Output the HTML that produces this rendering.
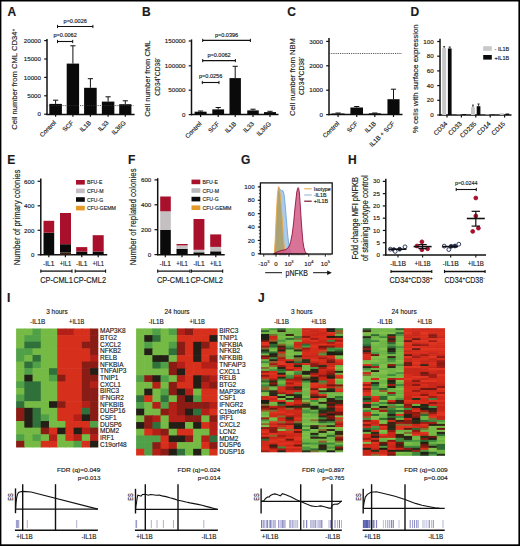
<!DOCTYPE html>
<html><head><meta charset="utf-8"><style>
html,body{margin:0;padding:0;background:#fff;}
svg{display:block;}
text{font-family:"Liberation Sans", sans-serif;fill:#1a1a1a;stroke:#1a1a1a;stroke-width:0.15px;}
</style></head><body>
<svg width="520" height="546" viewBox="0 0 520 546">
<rect x="0" y="0" width="520" height="546" fill="#fff"/>
<text x="7.60" y="16.20" font-size="12" font-weight="bold" fill="#000">A</text>
<line x1="47.00" y1="39.00" x2="47.00" y2="115.10" stroke="#111" stroke-width="1.5"/>
<line x1="46.30" y1="114.40" x2="134.60" y2="114.40" stroke="#111" stroke-width="1.5"/>
<line x1="44.20" y1="114.20" x2="47.00" y2="114.20" stroke="#111" stroke-width="1.2"/>
<text x="41.00" y="116.30" font-size="6.2" text-anchor="end">0</text>
<line x1="44.20" y1="95.80" x2="47.00" y2="95.80" stroke="#111" stroke-width="1.2"/>
<text x="41.00" y="97.90" font-size="6.2" text-anchor="end">5000</text>
<line x1="44.20" y1="77.40" x2="47.00" y2="77.40" stroke="#111" stroke-width="1.2"/>
<text x="41.00" y="79.50" font-size="6.2" text-anchor="end">10000</text>
<line x1="44.20" y1="59.00" x2="47.00" y2="59.00" stroke="#111" stroke-width="1.2"/>
<text x="41.00" y="61.10" font-size="6.2" text-anchor="end">15000</text>
<line x1="44.20" y1="40.60" x2="47.00" y2="40.60" stroke="#111" stroke-width="1.2"/>
<text x="41.00" y="42.70" font-size="6.2" text-anchor="end">20000</text>
<rect x="49.30" y="103.90" width="12.60" height="10.50" fill="#0a0a0a"/>
<line x1="55.60" y1="100.20" x2="55.60" y2="103.90" stroke="#111" stroke-width="1.0"/>
<line x1="53.00" y1="100.20" x2="58.20" y2="100.20" stroke="#111" stroke-width="1.0"/>
<line x1="55.60" y1="114.40" x2="55.60" y2="116.80" stroke="#111" stroke-width="1.2"/>
<rect x="66.70" y="63.60" width="12.40" height="50.80" fill="#0a0a0a"/>
<line x1="72.90" y1="45.80" x2="72.90" y2="63.60" stroke="#111" stroke-width="1.0"/>
<line x1="70.30" y1="45.80" x2="75.50" y2="45.80" stroke="#111" stroke-width="1.0"/>
<line x1="72.90" y1="114.40" x2="72.90" y2="116.80" stroke="#111" stroke-width="1.2"/>
<rect x="84.10" y="87.80" width="12.60" height="26.60" fill="#0a0a0a"/>
<line x1="90.40" y1="78.70" x2="90.40" y2="87.80" stroke="#111" stroke-width="1.0"/>
<line x1="87.80" y1="78.70" x2="93.00" y2="78.70" stroke="#111" stroke-width="1.0"/>
<line x1="90.40" y1="114.40" x2="90.40" y2="116.80" stroke="#111" stroke-width="1.2"/>
<rect x="101.85" y="101.60" width="12.50" height="12.80" fill="#0a0a0a"/>
<line x1="108.10" y1="96.80" x2="108.10" y2="101.60" stroke="#111" stroke-width="1.0"/>
<line x1="105.50" y1="96.80" x2="110.70" y2="96.80" stroke="#111" stroke-width="1.0"/>
<line x1="108.10" y1="114.40" x2="108.10" y2="116.80" stroke="#111" stroke-width="1.2"/>
<rect x="119.20" y="104.20" width="12.20" height="10.20" fill="#0a0a0a"/>
<line x1="125.30" y1="100.80" x2="125.30" y2="104.20" stroke="#111" stroke-width="1.0"/>
<line x1="122.70" y1="100.80" x2="127.90" y2="100.80" stroke="#111" stroke-width="1.0"/>
<line x1="125.30" y1="114.40" x2="125.30" y2="116.80" stroke="#111" stroke-width="1.2"/>
<text x="56.60" y="123.20" font-size="6.3" text-anchor="end" transform="rotate(-45 56.60 123.20)">Control</text>
<text x="73.90" y="123.20" font-size="6.3" text-anchor="end" transform="rotate(-45 73.90 123.20)">SCF</text>
<text x="91.40" y="123.20" font-size="6.3" text-anchor="end" transform="rotate(-45 91.40 123.20)">IL1B</text>
<text x="109.10" y="123.20" font-size="6.3" text-anchor="end" transform="rotate(-45 109.10 123.20)">IL33</text>
<text x="126.30" y="123.20" font-size="6.3" text-anchor="end" transform="rotate(-45 126.30 123.20)">IL36G</text>
<line x1="47.00" y1="105.60" x2="133.50" y2="105.60" stroke="#333" stroke-width="0.8" stroke-dasharray="1.2 1.0"/>
<line x1="57.50" y1="26.50" x2="92.90" y2="26.50" stroke="#111" stroke-width="1.1"/>
<line x1="57.50" y1="24.90" x2="57.50" y2="28.10" stroke="#111" stroke-width="1.0"/>
<line x1="92.90" y1="24.90" x2="92.90" y2="28.10" stroke="#111" stroke-width="1.0"/>
<text x="75.20" y="23.30" font-size="5.6" text-anchor="middle" textLength="23.30" lengthAdjust="spacingAndGlyphs">p=0.0026</text>
<line x1="57.50" y1="41.50" x2="72.70" y2="41.50" stroke="#111" stroke-width="1.1"/>
<line x1="57.50" y1="39.90" x2="57.50" y2="43.10" stroke="#111" stroke-width="1.0"/>
<line x1="72.70" y1="39.90" x2="72.70" y2="43.10" stroke="#111" stroke-width="1.0"/>
<text x="65.10" y="37.00" font-size="5.6" text-anchor="middle" textLength="23.30" lengthAdjust="spacingAndGlyphs">p=0.0062</text>
<text x="17.30" y="79.30" font-size="8.0" text-anchor="middle" textLength="101.00" lengthAdjust="spacingAndGlyphs" transform="rotate(-90 17.30 79.30)">Cell number from CML CD34<tspan font-size="5" dy="-2.6">+</tspan></text>
<text x="141.90" y="16.20" font-size="12" font-weight="bold" fill="#000">B</text>
<line x1="191.50" y1="39.40" x2="191.50" y2="115.30" stroke="#111" stroke-width="1.5"/>
<line x1="190.80" y1="114.60" x2="278.50" y2="114.60" stroke="#111" stroke-width="1.5"/>
<line x1="188.70" y1="114.60" x2="191.50" y2="114.60" stroke="#111" stroke-width="1.2"/>
<text x="185.50" y="116.70" font-size="6.2" text-anchor="end">0</text>
<line x1="188.70" y1="90.20" x2="191.50" y2="90.20" stroke="#111" stroke-width="1.2"/>
<text x="185.50" y="92.30" font-size="6.2" text-anchor="end">50000</text>
<line x1="188.70" y1="65.80" x2="191.50" y2="65.80" stroke="#111" stroke-width="1.2"/>
<text x="185.50" y="67.90" font-size="6.2" text-anchor="end">100000</text>
<line x1="188.70" y1="41.00" x2="191.50" y2="41.00" stroke="#111" stroke-width="1.2"/>
<text x="185.50" y="43.10" font-size="6.2" text-anchor="end">150000</text>
<rect x="194.60" y="111.70" width="12.00" height="2.90" fill="#0a0a0a"/>
<line x1="200.60" y1="111.00" x2="200.60" y2="111.70" stroke="#111" stroke-width="1.0"/>
<line x1="198.00" y1="111.00" x2="203.20" y2="111.00" stroke="#111" stroke-width="1.0"/>
<line x1="200.60" y1="114.60" x2="200.60" y2="117.00" stroke="#111" stroke-width="1.2"/>
<rect x="212.30" y="109.40" width="11.80" height="5.20" fill="#0a0a0a"/>
<line x1="218.20" y1="107.50" x2="218.20" y2="109.40" stroke="#111" stroke-width="1.0"/>
<line x1="215.60" y1="107.50" x2="220.80" y2="107.50" stroke="#111" stroke-width="1.0"/>
<line x1="218.20" y1="114.60" x2="218.20" y2="117.00" stroke="#111" stroke-width="1.2"/>
<rect x="229.50" y="78.10" width="11.40" height="36.50" fill="#0a0a0a"/>
<line x1="235.20" y1="66.30" x2="235.20" y2="78.10" stroke="#111" stroke-width="1.0"/>
<line x1="232.60" y1="66.30" x2="237.80" y2="66.30" stroke="#111" stroke-width="1.0"/>
<line x1="235.20" y1="114.60" x2="235.20" y2="117.00" stroke="#111" stroke-width="1.2"/>
<rect x="247.25" y="110.40" width="11.50" height="4.20" fill="#0a0a0a"/>
<line x1="253.00" y1="109.20" x2="253.00" y2="110.40" stroke="#111" stroke-width="1.0"/>
<line x1="250.40" y1="109.20" x2="255.60" y2="109.20" stroke="#111" stroke-width="1.0"/>
<line x1="253.00" y1="114.60" x2="253.00" y2="117.00" stroke="#111" stroke-width="1.2"/>
<rect x="264.00" y="112.10" width="12.00" height="2.50" fill="#0a0a0a"/>
<line x1="270.00" y1="111.30" x2="270.00" y2="112.10" stroke="#111" stroke-width="1.0"/>
<line x1="267.40" y1="111.30" x2="272.60" y2="111.30" stroke="#111" stroke-width="1.0"/>
<line x1="270.00" y1="114.60" x2="270.00" y2="117.00" stroke="#111" stroke-width="1.2"/>
<text x="202.10" y="124.30" font-size="6.3" text-anchor="end" transform="rotate(-45 202.10 124.30)">Control</text>
<text x="219.70" y="124.30" font-size="6.3" text-anchor="end" transform="rotate(-45 219.70 124.30)">SCF</text>
<text x="236.70" y="124.30" font-size="6.3" text-anchor="end" transform="rotate(-45 236.70 124.30)">IL1B</text>
<text x="254.50" y="124.30" font-size="6.3" text-anchor="end" transform="rotate(-45 254.50 124.30)">IL33</text>
<text x="271.50" y="124.30" font-size="6.3" text-anchor="end" transform="rotate(-45 271.50 124.30)">IL36G</text>
<line x1="202.70" y1="40.40" x2="250.40" y2="40.40" stroke="#111" stroke-width="1.1"/>
<line x1="202.70" y1="38.80" x2="202.70" y2="42.00" stroke="#111" stroke-width="1.0"/>
<line x1="250.40" y1="38.80" x2="250.40" y2="42.00" stroke="#111" stroke-width="1.0"/>
<text x="226.55" y="36.50" font-size="5.6" text-anchor="middle" textLength="23.30" lengthAdjust="spacingAndGlyphs">p=0.0396</text>
<line x1="202.70" y1="60.60" x2="235.40" y2="60.60" stroke="#111" stroke-width="1.1"/>
<line x1="202.70" y1="59.00" x2="202.70" y2="62.20" stroke="#111" stroke-width="1.0"/>
<line x1="235.40" y1="59.00" x2="235.40" y2="62.20" stroke="#111" stroke-width="1.0"/>
<text x="219.05" y="56.70" font-size="5.6" text-anchor="middle" textLength="23.30" lengthAdjust="spacingAndGlyphs">p=0.0062</text>
<line x1="202.30" y1="82.50" x2="219.00" y2="82.50" stroke="#111" stroke-width="1.1"/>
<line x1="202.30" y1="80.90" x2="202.30" y2="84.10" stroke="#111" stroke-width="1.0"/>
<line x1="219.00" y1="80.90" x2="219.00" y2="84.10" stroke="#111" stroke-width="1.0"/>
<text x="210.65" y="77.70" font-size="5.6" text-anchor="middle" textLength="23.30" lengthAdjust="spacingAndGlyphs">p=0.0256</text>
<text x="149.80" y="78.70" font-size="8.0" text-anchor="middle" textLength="76.30" lengthAdjust="spacingAndGlyphs" transform="rotate(-90 149.80 78.70)">Cell number from CML</text>
<text x="159.60" y="76.70" font-size="8.0" text-anchor="middle" textLength="38.10" lengthAdjust="spacingAndGlyphs" transform="rotate(-90 159.60 76.70)">CD34<tspan font-size="5" dy="-2.6">+</tspan><tspan dy="2.6">CD38</tspan><tspan font-size="5" dy="-2.6">-</tspan></text>
<text x="287.20" y="16.20" font-size="12" font-weight="bold" fill="#000">C</text>
<line x1="329.00" y1="38.00" x2="329.00" y2="115.30" stroke="#111" stroke-width="1.5"/>
<line x1="328.30" y1="114.60" x2="402.50" y2="114.60" stroke="#111" stroke-width="1.5"/>
<line x1="326.20" y1="114.60" x2="329.00" y2="114.60" stroke="#111" stroke-width="1.2"/>
<text x="323.00" y="116.70" font-size="6.2" text-anchor="end">0</text>
<line x1="326.20" y1="90.20" x2="329.00" y2="90.20" stroke="#111" stroke-width="1.2"/>
<text x="323.00" y="92.30" font-size="6.2" text-anchor="end">1000</text>
<line x1="326.20" y1="65.80" x2="329.00" y2="65.80" stroke="#111" stroke-width="1.2"/>
<text x="323.00" y="67.90" font-size="6.2" text-anchor="end">2000</text>
<line x1="326.20" y1="41.40" x2="329.00" y2="41.40" stroke="#111" stroke-width="1.2"/>
<text x="323.00" y="43.50" font-size="6.2" text-anchor="end">3000</text>
<rect x="331.65" y="113.50" width="12.90" height="1.10" fill="#0a0a0a"/>
<line x1="338.10" y1="113.00" x2="338.10" y2="113.50" stroke="#111" stroke-width="1.0"/>
<line x1="335.50" y1="113.00" x2="340.70" y2="113.00" stroke="#111" stroke-width="1.0"/>
<line x1="338.10" y1="114.60" x2="338.10" y2="117.00" stroke="#111" stroke-width="1.2"/>
<rect x="350.40" y="107.50" width="12.60" height="7.10" fill="#0a0a0a"/>
<line x1="356.70" y1="106.50" x2="356.70" y2="107.50" stroke="#111" stroke-width="1.0"/>
<line x1="354.10" y1="106.50" x2="359.30" y2="106.50" stroke="#111" stroke-width="1.0"/>
<line x1="356.70" y1="114.60" x2="356.70" y2="117.00" stroke="#111" stroke-width="1.2"/>
<rect x="368.80" y="113.30" width="12.00" height="1.30" fill="#0a0a0a"/>
<line x1="374.80" y1="113.00" x2="374.80" y2="113.30" stroke="#111" stroke-width="1.0"/>
<line x1="372.20" y1="113.00" x2="377.40" y2="113.00" stroke="#111" stroke-width="1.0"/>
<line x1="374.80" y1="114.60" x2="374.80" y2="117.00" stroke="#111" stroke-width="1.2"/>
<rect x="387.45" y="99.20" width="12.10" height="15.40" fill="#0a0a0a"/>
<line x1="393.50" y1="89.20" x2="393.50" y2="99.20" stroke="#111" stroke-width="1.0"/>
<line x1="390.90" y1="89.20" x2="396.10" y2="89.20" stroke="#111" stroke-width="1.0"/>
<line x1="393.50" y1="114.60" x2="393.50" y2="117.00" stroke="#111" stroke-width="1.2"/>
<text x="339.70" y="124.00" font-size="6.3" text-anchor="end" transform="rotate(-45 339.70 124.00)">Control</text>
<text x="358.30" y="124.00" font-size="6.3" text-anchor="end" transform="rotate(-45 358.30 124.00)">SCF</text>
<text x="376.40" y="124.00" font-size="6.3" text-anchor="end" transform="rotate(-45 376.40 124.00)">IL1B</text>
<text x="395.10" y="124.00" font-size="6.3" text-anchor="end" transform="rotate(-45 395.10 124.00)">IL1B + SCF</text>
<line x1="329.00" y1="53.50" x2="402.00" y2="53.50" stroke="#333" stroke-width="0.8" stroke-dasharray="1.2 1.0"/>
<text x="294.50" y="77.00" font-size="8.0" text-anchor="middle" textLength="77.90" lengthAdjust="spacingAndGlyphs" transform="rotate(-90 294.50 77.00)">Cell number from NBM</text>
<text x="304.00" y="75.90" font-size="8.0" text-anchor="middle" textLength="38.20" lengthAdjust="spacingAndGlyphs" transform="rotate(-90 304.00 75.90)">CD34<tspan font-size="5" dy="-2.6">+</tspan><tspan dy="2.6">CD38</tspan><tspan font-size="5" dy="-2.6">-</tspan></text>
<text x="410.60" y="16.20" font-size="12" font-weight="bold" fill="#000">D</text>
<line x1="440.00" y1="38.70" x2="440.00" y2="115.70" stroke="#111" stroke-width="1.5"/>
<line x1="439.30" y1="115.00" x2="511.50" y2="115.00" stroke="#111" stroke-width="1.5"/>
<line x1="437.20" y1="115.00" x2="440.00" y2="115.00" stroke="#111" stroke-width="1.2"/>
<text x="433.60" y="117.10" font-size="6.2" text-anchor="end">0</text>
<line x1="437.20" y1="100.30" x2="440.00" y2="100.30" stroke="#111" stroke-width="1.2"/>
<text x="433.60" y="102.40" font-size="6.2" text-anchor="end">20</text>
<line x1="437.20" y1="85.60" x2="440.00" y2="85.60" stroke="#111" stroke-width="1.2"/>
<text x="433.60" y="87.70" font-size="6.2" text-anchor="end">40</text>
<line x1="437.20" y1="70.90" x2="440.00" y2="70.90" stroke="#111" stroke-width="1.2"/>
<text x="433.60" y="73.00" font-size="6.2" text-anchor="end">60</text>
<line x1="437.20" y1="56.20" x2="440.00" y2="56.20" stroke="#111" stroke-width="1.2"/>
<text x="433.60" y="58.30" font-size="6.2" text-anchor="end">80</text>
<line x1="437.20" y1="41.50" x2="440.00" y2="41.50" stroke="#111" stroke-width="1.2"/>
<text x="433.60" y="43.60" font-size="6.2" text-anchor="end">100</text>
<rect x="442.20" y="48.11" width="3.90" height="66.89" fill="#c8c8c8"/>
<rect x="447.90" y="48.48" width="3.70" height="66.52" fill="#0a0a0a"/>
<line x1="444.15" y1="46.64" x2="444.15" y2="48.11" stroke="#111" stroke-width="0.8"/>
<line x1="443.20" y1="46.64" x2="445.10" y2="46.64" stroke="#111" stroke-width="0.8"/>
<line x1="449.75" y1="47.01" x2="449.75" y2="48.48" stroke="#111" stroke-width="0.8"/>
<line x1="448.60" y1="47.01" x2="450.90" y2="47.01" stroke="#111" stroke-width="0.8"/>
<line x1="447.00" y1="115.00" x2="447.00" y2="117.40" stroke="#111" stroke-width="1.2"/>
<text x="447.90" y="124.20" font-size="6.4" text-anchor="end" transform="rotate(-45 447.90 124.20)">CD34</text>
<rect x="456.60" y="114.63" width="3.90" height="0.37" fill="#c8c8c8"/>
<rect x="462.30" y="114.12" width="3.70" height="0.88" fill="#0a0a0a"/>
<line x1="461.40" y1="115.00" x2="461.40" y2="117.40" stroke="#111" stroke-width="1.2"/>
<text x="462.30" y="124.20" font-size="6.4" text-anchor="end" transform="rotate(-45 462.30 124.20)">CD33</text>
<rect x="471.00" y="107.28" width="3.90" height="7.72" fill="#c8c8c8"/>
<rect x="476.70" y="106.18" width="3.70" height="8.82" fill="#0a0a0a"/>
<line x1="472.95" y1="105.08" x2="472.95" y2="107.28" stroke="#111" stroke-width="0.8"/>
<line x1="472.00" y1="105.08" x2="473.90" y2="105.08" stroke="#111" stroke-width="0.8"/>
<line x1="478.55" y1="103.97" x2="478.55" y2="106.18" stroke="#111" stroke-width="0.8"/>
<line x1="477.40" y1="103.97" x2="479.70" y2="103.97" stroke="#111" stroke-width="0.8"/>
<line x1="475.80" y1="115.00" x2="475.80" y2="117.40" stroke="#111" stroke-width="1.2"/>
<text x="476.70" y="124.20" font-size="6.4" text-anchor="end" transform="rotate(-45 476.70 124.20)">CD235</text>
<rect x="485.40" y="114.41" width="3.90" height="0.59" fill="#c8c8c8"/>
<rect x="491.10" y="114.63" width="3.70" height="0.37" fill="#0a0a0a"/>
<line x1="490.20" y1="115.00" x2="490.20" y2="117.40" stroke="#111" stroke-width="1.2"/>
<text x="491.10" y="124.20" font-size="6.4" text-anchor="end" transform="rotate(-45 491.10 124.20)">CD14</text>
<rect x="499.80" y="113.16" width="3.90" height="1.84" fill="#c8c8c8"/>
<rect x="505.50" y="113.53" width="3.70" height="1.47" fill="#0a0a0a"/>
<line x1="504.60" y1="115.00" x2="504.60" y2="117.40" stroke="#111" stroke-width="1.2"/>
<text x="505.50" y="124.20" font-size="6.4" text-anchor="end" transform="rotate(-45 505.50 124.20)">CD15</text>
<rect x="483.20" y="46.20" width="8.60" height="4.60" fill="#c8c8c8"/>
<rect x="483.20" y="55.00" width="8.60" height="4.60" fill="#0a0a0a"/>
<text x="494.60" y="50.50" font-size="5.4" textLength="14.60" lengthAdjust="spacingAndGlyphs">- IL1B</text>
<text x="494.60" y="59.50" font-size="5.4" textLength="14.60" lengthAdjust="spacingAndGlyphs">+IL1B</text>
<text x="418.40" y="78.80" font-size="7.9" text-anchor="middle" textLength="108.80" lengthAdjust="spacingAndGlyphs" transform="rotate(-90 418.40 78.80)">% cells with surface expression</text>
<text x="7.20" y="163.90" font-size="12" font-weight="bold" fill="#000">E</text>
<line x1="40.80" y1="178.50" x2="40.80" y2="255.20" stroke="#111" stroke-width="1.5"/>
<line x1="40.10" y1="254.80" x2="107.20" y2="254.80" stroke="#111" stroke-width="1.5"/>
<line x1="37.60" y1="254.80" x2="40.80" y2="254.80" stroke="#111" stroke-width="1.2"/>
<text x="34.40" y="257.00" font-size="6.2" text-anchor="end">0</text>
<line x1="37.60" y1="230.30" x2="40.80" y2="230.30" stroke="#111" stroke-width="1.2"/>
<text x="34.40" y="232.50" font-size="6.2" text-anchor="end">200</text>
<line x1="37.60" y1="205.80" x2="40.80" y2="205.80" stroke="#111" stroke-width="1.2"/>
<text x="34.40" y="208.00" font-size="6.2" text-anchor="end">400</text>
<line x1="37.60" y1="181.30" x2="40.80" y2="181.30" stroke="#111" stroke-width="1.2"/>
<text x="34.40" y="183.50" font-size="6.2" text-anchor="end">600</text>
<rect x="43.50" y="232.70" width="10.70" height="22.10" fill="#0a0a0a"/>
<rect x="43.50" y="220.80" width="10.70" height="11.90" fill="#a8102c"/>
<rect x="60.00" y="252.50" width="11.00" height="2.30" fill="#3a2010"/>
<rect x="60.00" y="244.20" width="11.00" height="8.30" fill="#0a0a0a"/>
<rect x="60.00" y="213.00" width="11.00" height="31.20" fill="#a8102c"/>
<rect x="76.20" y="251.50" width="11.10" height="3.30" fill="#0a0a0a"/>
<rect x="76.20" y="247.10" width="11.10" height="4.40" fill="#a8102c"/>
<rect x="92.70" y="251.50" width="11.00" height="3.30" fill="#0a0a0a"/>
<rect x="92.70" y="235.20" width="11.00" height="16.30" fill="#a8102c"/>
<line x1="48.80" y1="254.80" x2="48.80" y2="257.30" stroke="#111" stroke-width="1.2"/>
<text x="48.80" y="266.30" font-size="6.6" text-anchor="middle" textLength="11.50" lengthAdjust="spacingAndGlyphs">-IL1</text>
<line x1="65.40" y1="254.80" x2="65.40" y2="257.30" stroke="#111" stroke-width="1.2"/>
<text x="65.40" y="266.30" font-size="6.6" text-anchor="middle" textLength="11.50" lengthAdjust="spacingAndGlyphs">+IL1</text>
<line x1="81.80" y1="254.80" x2="81.80" y2="257.30" stroke="#111" stroke-width="1.2"/>
<text x="81.80" y="266.30" font-size="6.6" text-anchor="middle" textLength="11.50" lengthAdjust="spacingAndGlyphs">-IL1</text>
<line x1="98.20" y1="254.80" x2="98.20" y2="257.30" stroke="#111" stroke-width="1.2"/>
<text x="98.20" y="266.30" font-size="6.6" text-anchor="middle" textLength="11.50" lengthAdjust="spacingAndGlyphs">+IL1</text>
<line x1="40.80" y1="271.10" x2="72.00" y2="271.10" stroke="#111" stroke-width="1.3"/>
<line x1="40.80" y1="269.50" x2="40.80" y2="272.70" stroke="#111" stroke-width="1.1"/>
<line x1="72.00" y1="269.50" x2="72.00" y2="272.70" stroke="#111" stroke-width="1.1"/>
<line x1="75.20" y1="271.10" x2="105.60" y2="271.10" stroke="#111" stroke-width="1.3"/>
<line x1="75.20" y1="269.50" x2="75.20" y2="272.70" stroke="#111" stroke-width="1.1"/>
<line x1="105.60" y1="269.50" x2="105.60" y2="272.70" stroke="#111" stroke-width="1.1"/>
<text x="40.20" y="283.40" font-size="8.7" textLength="32.70" lengthAdjust="spacingAndGlyphs">CP-CML1</text>
<text x="73.50" y="283.40" font-size="8.7" textLength="32.50" lengthAdjust="spacingAndGlyphs">CP-CML2</text>
<rect x="76.00" y="180.00" width="8.80" height="4.60" fill="#a8102c"/>
<text x="87.00" y="184.30" font-size="5.8" textLength="15.30" lengthAdjust="spacingAndGlyphs">BFU-E</text>
<rect x="76.00" y="188.60" width="8.80" height="4.60" fill="#c4bec4"/>
<text x="87.00" y="192.90" font-size="5.8" textLength="16.60" lengthAdjust="spacingAndGlyphs">CFU-M</text>
<rect x="76.00" y="197.20" width="8.80" height="4.60" fill="#0a0a0a"/>
<text x="87.00" y="201.50" font-size="5.8" textLength="16.10" lengthAdjust="spacingAndGlyphs">CFU-G</text>
<rect x="76.00" y="205.80" width="8.80" height="4.60" fill="#e49a28"/>
<text x="87.00" y="210.10" font-size="5.8" textLength="28.90" lengthAdjust="spacingAndGlyphs">CFU-GEMM</text>
<text x="19.60" y="217.40" font-size="8.4" text-anchor="middle" textLength="95.80" lengthAdjust="spacingAndGlyphs" transform="rotate(-90 19.60 217.40)">Number of primary colonies</text>
<text x="128.00" y="163.90" font-size="12" font-weight="bold" fill="#000">F</text>
<line x1="157.70" y1="178.20" x2="157.70" y2="255.20" stroke="#111" stroke-width="1.5"/>
<line x1="157.00" y1="254.80" x2="224.70" y2="254.80" stroke="#111" stroke-width="1.5"/>
<line x1="154.50" y1="254.60" x2="157.70" y2="254.60" stroke="#111" stroke-width="1.2"/>
<text x="151.30" y="256.80" font-size="6.2" text-anchor="end">0</text>
<line x1="154.50" y1="229.70" x2="157.70" y2="229.70" stroke="#111" stroke-width="1.2"/>
<text x="151.30" y="231.90" font-size="6.2" text-anchor="end">200</text>
<line x1="154.50" y1="204.80" x2="157.70" y2="204.80" stroke="#111" stroke-width="1.2"/>
<text x="151.30" y="207.00" font-size="6.2" text-anchor="end">400</text>
<line x1="154.50" y1="179.90" x2="157.70" y2="179.90" stroke="#111" stroke-width="1.2"/>
<text x="151.30" y="182.10" font-size="6.2" text-anchor="end">600</text>
<rect x="160.20" y="230.00" width="10.60" height="24.80" fill="#0a0a0a"/>
<rect x="160.20" y="211.30" width="10.60" height="18.70" fill="#c4c0c2"/>
<rect x="160.20" y="196.50" width="10.60" height="14.80" fill="#a8102c"/>
<rect x="176.50" y="248.80" width="11.20" height="6.00" fill="#0a0a0a"/>
<rect x="176.50" y="245.40" width="11.20" height="3.40" fill="#c4c0c2"/>
<rect x="176.50" y="244.00" width="11.20" height="1.40" fill="#a8102c"/>
<rect x="193.50" y="252.30" width="10.90" height="2.50" fill="#0a0a0a"/>
<rect x="193.50" y="249.80" width="10.90" height="2.50" fill="#c4c0c2"/>
<rect x="193.50" y="219.00" width="10.90" height="30.80" fill="#a8102c"/>
<rect x="210.20" y="251.30" width="11.00" height="3.50" fill="#0a0a0a"/>
<rect x="210.20" y="246.90" width="11.00" height="4.40" fill="#c4c0c2"/>
<rect x="210.20" y="234.40" width="11.00" height="12.50" fill="#a8102c"/>
<line x1="165.30" y1="254.80" x2="165.30" y2="257.30" stroke="#111" stroke-width="1.2"/>
<text x="165.30" y="266.30" font-size="6.6" text-anchor="middle" textLength="11.50" lengthAdjust="spacingAndGlyphs">-IL1</text>
<line x1="182.00" y1="254.80" x2="182.00" y2="257.30" stroke="#111" stroke-width="1.2"/>
<text x="182.00" y="266.30" font-size="6.6" text-anchor="middle" textLength="11.50" lengthAdjust="spacingAndGlyphs">+IL1</text>
<line x1="198.90" y1="254.80" x2="198.90" y2="257.30" stroke="#111" stroke-width="1.2"/>
<text x="198.90" y="266.30" font-size="6.6" text-anchor="middle" textLength="11.50" lengthAdjust="spacingAndGlyphs">-IL1</text>
<line x1="215.80" y1="254.80" x2="215.80" y2="257.30" stroke="#111" stroke-width="1.2"/>
<text x="215.80" y="266.30" font-size="6.6" text-anchor="middle" textLength="11.50" lengthAdjust="spacingAndGlyphs">+IL1</text>
<line x1="157.70" y1="271.10" x2="190.00" y2="271.10" stroke="#111" stroke-width="1.3"/>
<line x1="157.70" y1="269.50" x2="157.70" y2="272.70" stroke="#111" stroke-width="1.1"/>
<line x1="190.00" y1="269.50" x2="190.00" y2="272.70" stroke="#111" stroke-width="1.1"/>
<line x1="191.50" y1="271.10" x2="222.70" y2="271.10" stroke="#111" stroke-width="1.3"/>
<line x1="191.50" y1="269.50" x2="191.50" y2="272.70" stroke="#111" stroke-width="1.1"/>
<line x1="222.70" y1="269.50" x2="222.70" y2="272.70" stroke="#111" stroke-width="1.1"/>
<text x="157.00" y="283.40" font-size="8.7" textLength="32.60" lengthAdjust="spacingAndGlyphs">CP-CML1</text>
<text x="190.40" y="283.40" font-size="8.7" textLength="32.60" lengthAdjust="spacingAndGlyphs">CP-CML2</text>
<rect x="191.50" y="179.60" width="8.80" height="4.60" fill="#a8102c"/>
<text x="202.50" y="183.90" font-size="5.8" textLength="15.30" lengthAdjust="spacingAndGlyphs">BFU-E</text>
<rect x="191.50" y="188.20" width="8.80" height="4.60" fill="#b8b8bc"/>
<text x="202.50" y="192.50" font-size="5.8" textLength="16.60" lengthAdjust="spacingAndGlyphs">CFU-M</text>
<rect x="191.50" y="196.80" width="8.80" height="4.60" fill="#0a0a0a"/>
<text x="202.50" y="201.10" font-size="5.8" textLength="16.10" lengthAdjust="spacingAndGlyphs">CFU-G</text>
<rect x="191.50" y="205.40" width="8.80" height="4.60" fill="#e49a28"/>
<text x="202.50" y="209.70" font-size="5.8" textLength="28.90" lengthAdjust="spacingAndGlyphs">CFU-GEMM</text>
<text x="135.90" y="216.90" font-size="8.4" text-anchor="middle" textLength="96.90" lengthAdjust="spacingAndGlyphs" transform="rotate(-90 135.90 216.90)">Number of replated colonies</text>
<text x="241.10" y="163.90" font-size="12" font-weight="bold" fill="#000">G</text>
<path d="M274.60,253.80 L275.50,250.00 L276.50,232.00 L277.50,207.00 L278.60,191.00 L279.30,188.60 L280.30,189.80 L281.50,190.40 L282.90,190.80 L284.00,194.00 L285.20,205.00 L286.60,222.00 L287.80,236.00 L288.80,244.00 L290.00,250.50 L291.50,253.50 L292.50,253.80 Z" fill="#aacbea" stroke="#6fa6dc" stroke-width="0.9"/>
<path d="M273.60,253.80 L274.30,252.90 L275.20,240.00 L276.30,215.00 L277.40,195.00 L278.20,188.00 L278.60,186.60 L279.30,187.50 L280.20,194.00 L281.20,205.00 L282.30,220.00 L283.40,236.00 L284.40,248.00 L285.30,252.50 L286.50,253.80 Z" fill="#aca06a" fill-opacity="0.92" stroke="#eaa848" stroke-width="0.9"/>
<path d="M273.50,253.80 L276.00,252.60 L279.00,251.20 L282.00,250.30 L285.00,249.80 L287.50,248.50 L289.50,245.50 L290.70,241.40 L292.20,234.00 L293.60,222.90 L294.70,211.00 L295.70,201.40 L296.80,192.00 L297.60,188.50 L298.10,187.60 L298.70,188.50 L299.40,193.00 L300.00,201.40 L300.70,212.00 L301.40,222.90 L302.10,232.00 L302.90,241.40 L303.90,247.50 L305.00,251.40 L306.20,253.30 L307.50,253.80 Z" fill="#d45a86" fill-opacity="0.85" stroke="#8c1440" stroke-width="0.9"/>
<rect x="260.4" y="182.9" width="71.80000000000001" height="71.1" fill="none" stroke="#111" stroke-width="1.3"/>
<line x1="257.80" y1="253.80" x2="260.40" y2="253.80" stroke="#111" stroke-width="1.1"/>
<text x="254.60" y="255.90" font-size="6.2" text-anchor="end">0</text>
<line x1="257.80" y1="240.42" x2="260.40" y2="240.42" stroke="#111" stroke-width="1.1"/>
<text x="254.60" y="242.52" font-size="6.2" text-anchor="end">20</text>
<line x1="257.80" y1="227.04" x2="260.40" y2="227.04" stroke="#111" stroke-width="1.1"/>
<text x="254.60" y="229.14" font-size="6.2" text-anchor="end">40</text>
<line x1="257.80" y1="213.66" x2="260.40" y2="213.66" stroke="#111" stroke-width="1.1"/>
<text x="254.60" y="215.76" font-size="6.2" text-anchor="end">60</text>
<line x1="257.80" y1="200.28" x2="260.40" y2="200.28" stroke="#111" stroke-width="1.1"/>
<text x="254.60" y="202.38" font-size="6.2" text-anchor="end">80</text>
<line x1="257.80" y1="186.90" x2="260.40" y2="186.90" stroke="#111" stroke-width="1.1"/>
<text x="254.60" y="189.00" font-size="6.2" text-anchor="end">100</text>
<line x1="258.90" y1="253.80" x2="260.40" y2="253.80" stroke="#111" stroke-width="0.8"/>
<line x1="258.90" y1="250.46" x2="260.40" y2="250.46" stroke="#111" stroke-width="0.8"/>
<line x1="258.90" y1="247.11" x2="260.40" y2="247.11" stroke="#111" stroke-width="0.8"/>
<line x1="258.90" y1="243.77" x2="260.40" y2="243.77" stroke="#111" stroke-width="0.8"/>
<line x1="258.90" y1="240.42" x2="260.40" y2="240.42" stroke="#111" stroke-width="0.8"/>
<line x1="258.90" y1="237.08" x2="260.40" y2="237.08" stroke="#111" stroke-width="0.8"/>
<line x1="258.90" y1="233.73" x2="260.40" y2="233.73" stroke="#111" stroke-width="0.8"/>
<line x1="258.90" y1="230.39" x2="260.40" y2="230.39" stroke="#111" stroke-width="0.8"/>
<line x1="258.90" y1="227.04" x2="260.40" y2="227.04" stroke="#111" stroke-width="0.8"/>
<line x1="258.90" y1="223.70" x2="260.40" y2="223.70" stroke="#111" stroke-width="0.8"/>
<line x1="258.90" y1="220.35" x2="260.40" y2="220.35" stroke="#111" stroke-width="0.8"/>
<line x1="258.90" y1="217.00" x2="260.40" y2="217.00" stroke="#111" stroke-width="0.8"/>
<line x1="258.90" y1="213.66" x2="260.40" y2="213.66" stroke="#111" stroke-width="0.8"/>
<line x1="258.90" y1="210.31" x2="260.40" y2="210.31" stroke="#111" stroke-width="0.8"/>
<line x1="258.90" y1="206.97" x2="260.40" y2="206.97" stroke="#111" stroke-width="0.8"/>
<line x1="258.90" y1="203.62" x2="260.40" y2="203.62" stroke="#111" stroke-width="0.8"/>
<line x1="258.90" y1="200.28" x2="260.40" y2="200.28" stroke="#111" stroke-width="0.8"/>
<line x1="258.90" y1="196.94" x2="260.40" y2="196.94" stroke="#111" stroke-width="0.8"/>
<line x1="258.90" y1="193.59" x2="260.40" y2="193.59" stroke="#111" stroke-width="0.8"/>
<line x1="258.90" y1="190.25" x2="260.40" y2="190.25" stroke="#111" stroke-width="0.8"/>
<line x1="258.90" y1="186.90" x2="260.40" y2="186.90" stroke="#111" stroke-width="0.8"/>
<line x1="263.80" y1="254.00" x2="263.80" y2="256.60" stroke="#111" stroke-width="1.0"/>
<text x="263.80" y="265.80" font-size="6.2" text-anchor="middle">-10<tspan font-size="4" dy="-2.4">3</tspan></text>
<line x1="276.00" y1="254.00" x2="276.00" y2="256.60" stroke="#111" stroke-width="1.0"/>
<text x="276.00" y="265.80" font-size="6.2" text-anchor="middle">0</text>
<line x1="289.00" y1="254.00" x2="289.00" y2="256.60" stroke="#111" stroke-width="1.0"/>
<text x="289.00" y="265.80" font-size="6.2" text-anchor="middle">10<tspan font-size="4" dy="-2.4">3</tspan></text>
<line x1="308.80" y1="254.00" x2="308.80" y2="256.60" stroke="#111" stroke-width="1.0"/>
<text x="308.80" y="265.80" font-size="6.2" text-anchor="middle">10<tspan font-size="4" dy="-2.4">4</tspan></text>
<line x1="325.30" y1="254.00" x2="325.30" y2="256.60" stroke="#111" stroke-width="1.0"/>
<text x="325.30" y="265.80" font-size="6.2" text-anchor="middle">10<tspan font-size="4" dy="-2.4">5</tspan></text>
<line x1="266.00" y1="254.00" x2="266.00" y2="255.50" stroke="#111" stroke-width="0.5"/>
<line x1="268.00" y1="254.00" x2="268.00" y2="255.50" stroke="#111" stroke-width="0.5"/>
<line x1="270.00" y1="254.00" x2="270.00" y2="255.50" stroke="#111" stroke-width="0.5"/>
<line x1="272.00" y1="254.00" x2="272.00" y2="255.50" stroke="#111" stroke-width="0.5"/>
<line x1="274.00" y1="254.00" x2="274.00" y2="255.50" stroke="#111" stroke-width="0.5"/>
<line x1="280.00" y1="254.00" x2="280.00" y2="255.50" stroke="#111" stroke-width="0.5"/>
<line x1="282.00" y1="254.00" x2="282.00" y2="255.50" stroke="#111" stroke-width="0.5"/>
<line x1="284.00" y1="254.00" x2="284.00" y2="255.50" stroke="#111" stroke-width="0.5"/>
<line x1="286.00" y1="254.00" x2="286.00" y2="255.50" stroke="#111" stroke-width="0.5"/>
<line x1="292.00" y1="254.00" x2="292.00" y2="255.50" stroke="#111" stroke-width="0.5"/>
<line x1="294.00" y1="254.00" x2="294.00" y2="255.50" stroke="#111" stroke-width="0.5"/>
<line x1="296.00" y1="254.00" x2="296.00" y2="255.50" stroke="#111" stroke-width="0.5"/>
<line x1="298.00" y1="254.00" x2="298.00" y2="255.50" stroke="#111" stroke-width="0.5"/>
<line x1="300.00" y1="254.00" x2="300.00" y2="255.50" stroke="#111" stroke-width="0.5"/>
<line x1="302.00" y1="254.00" x2="302.00" y2="255.50" stroke="#111" stroke-width="0.5"/>
<line x1="304.00" y1="254.00" x2="304.00" y2="255.50" stroke="#111" stroke-width="0.5"/>
<line x1="311.00" y1="254.00" x2="311.00" y2="255.50" stroke="#111" stroke-width="0.5"/>
<line x1="313.00" y1="254.00" x2="313.00" y2="255.50" stroke="#111" stroke-width="0.5"/>
<line x1="315.00" y1="254.00" x2="315.00" y2="255.50" stroke="#111" stroke-width="0.5"/>
<line x1="317.00" y1="254.00" x2="317.00" y2="255.50" stroke="#111" stroke-width="0.5"/>
<line x1="319.00" y1="254.00" x2="319.00" y2="255.50" stroke="#111" stroke-width="0.5"/>
<line x1="321.00" y1="254.00" x2="321.00" y2="255.50" stroke="#111" stroke-width="0.5"/>
<line x1="323.00" y1="254.00" x2="323.00" y2="255.50" stroke="#111" stroke-width="0.5"/>
<line x1="328.00" y1="254.00" x2="328.00" y2="255.50" stroke="#111" stroke-width="0.5"/>
<line x1="330.00" y1="254.00" x2="330.00" y2="255.50" stroke="#111" stroke-width="0.5"/>
<line x1="265.20" y1="272.70" x2="282.00" y2="272.70" stroke="#111" stroke-width="1.0"/>
<line x1="313.10" y1="272.70" x2="328.50" y2="272.70" stroke="#111" stroke-width="1.0"/>
<path d="M327.2,270.4 L331.8,272.7 L327.2,275.0 Z" fill="#111"/>
<text x="285.50" y="275.50" font-size="8.4" textLength="22.50" lengthAdjust="spacingAndGlyphs">pNFKB</text>
<line x1="304.20" y1="188.80" x2="311.70" y2="188.80" stroke="#e8b060" stroke-width="1.2"/>
<text x="313.80" y="190.60" font-size="5.8" textLength="16.90" lengthAdjust="spacingAndGlyphs">Isotype</text>
<line x1="304.20" y1="195.00" x2="311.70" y2="195.00" stroke="#9ebbdc" stroke-width="1.2"/>
<text x="313.80" y="196.80" font-size="5.8" textLength="12.60" lengthAdjust="spacingAndGlyphs">-IL1B</text>
<line x1="304.20" y1="201.20" x2="311.70" y2="201.20" stroke="#7a1636" stroke-width="1.2"/>
<text x="313.80" y="203.00" font-size="5.8" textLength="14.30" lengthAdjust="spacingAndGlyphs">+IL1B</text>
<text x="348.00" y="163.90" font-size="12" font-weight="bold" fill="#000">H</text>
<line x1="385.80" y1="178.80" x2="385.80" y2="255.60" stroke="#111" stroke-width="1.5"/>
<line x1="385.10" y1="255.00" x2="486.00" y2="255.00" stroke="#111" stroke-width="1.5"/>
<line x1="382.80" y1="255.00" x2="385.80" y2="255.00" stroke="#111" stroke-width="1.2"/>
<text x="379.90" y="257.10" font-size="6.2" text-anchor="end">0</text>
<line x1="382.80" y1="242.73" x2="385.80" y2="242.73" stroke="#111" stroke-width="1.2"/>
<text x="379.90" y="244.83" font-size="6.2" text-anchor="end">5</text>
<line x1="382.80" y1="230.46" x2="385.80" y2="230.46" stroke="#111" stroke-width="1.2"/>
<text x="379.90" y="232.56" font-size="6.2" text-anchor="end">10</text>
<line x1="382.80" y1="218.19" x2="385.80" y2="218.19" stroke="#111" stroke-width="1.2"/>
<text x="379.90" y="220.29" font-size="6.2" text-anchor="end">15</text>
<line x1="382.80" y1="205.92" x2="385.80" y2="205.92" stroke="#111" stroke-width="1.2"/>
<text x="379.90" y="208.02" font-size="6.2" text-anchor="end">20</text>
<line x1="382.80" y1="193.65" x2="385.80" y2="193.65" stroke="#111" stroke-width="1.2"/>
<text x="379.90" y="195.75" font-size="6.2" text-anchor="end">25</text>
<line x1="382.80" y1="181.38" x2="385.80" y2="181.38" stroke="#111" stroke-width="1.2"/>
<text x="379.90" y="183.48" font-size="6.2" text-anchor="end">30</text>
<circle cx="390.40" cy="249.20" r="1.9" fill="#fff" stroke="#1c2850" stroke-width="0.9"/>
<circle cx="393.80" cy="249.60" r="1.9" fill="#1c2850" stroke="#1c2850" stroke-width="0.9"/>
<circle cx="395.20" cy="251.40" r="1.9" fill="#fff" stroke="#1c2850" stroke-width="0.9"/>
<circle cx="399.60" cy="249.20" r="1.9" fill="#1c2850" stroke="#1c2850" stroke-width="0.9"/>
<circle cx="405.00" cy="246.80" r="1.9" fill="#fff" stroke="#1c2850" stroke-width="0.9"/>
<line x1="388.90" y1="249.20" x2="406.50" y2="249.20" stroke="#111" stroke-width="1.6"/>
<circle cx="417.00" cy="246.00" r="1.9" fill="#a8102c" stroke="#a8102c" stroke-width="0.9"/>
<circle cx="421.90" cy="241.80" r="1.9" fill="#a8102c" stroke="#a8102c" stroke-width="0.9"/>
<circle cx="421.90" cy="249.80" r="1.9" fill="#a8102c" stroke="#a8102c" stroke-width="0.9"/>
<circle cx="427.60" cy="248.80" r="1.9" fill="#a8102c" stroke="#a8102c" stroke-width="0.9"/>
<line x1="413.60" y1="246.60" x2="431.60" y2="246.60" stroke="#111" stroke-width="1.6"/>
<line x1="422.60" y1="244.60" x2="422.60" y2="248.60" stroke="#111" stroke-width="1.2"/>
<line x1="418.40" y1="244.60" x2="426.80" y2="244.60" stroke="#111" stroke-width="1.2"/>
<line x1="418.40" y1="248.60" x2="426.80" y2="248.60" stroke="#111" stroke-width="1.2"/>
<circle cx="444.20" cy="246.10" r="1.9" fill="#fff" stroke="#1c2850" stroke-width="0.9"/>
<circle cx="448.80" cy="249.60" r="1.9" fill="#fff" stroke="#1c2850" stroke-width="0.9"/>
<circle cx="451.20" cy="246.30" r="1.9" fill="#1c2850" stroke="#1c2850" stroke-width="0.9"/>
<circle cx="455.00" cy="246.00" r="1.9" fill="#1c2850" stroke="#1c2850" stroke-width="0.9"/>
<circle cx="458.80" cy="244.20" r="1.9" fill="#fff" stroke="#1c2850" stroke-width="0.9"/>
<line x1="442.40" y1="246.60" x2="458.00" y2="246.60" stroke="#111" stroke-width="1.6"/>
<circle cx="475.80" cy="198.00" r="1.9" fill="#a8102c" stroke="#a8102c" stroke-width="0.9"/>
<circle cx="475.80" cy="216.00" r="1.9" fill="#a8102c" stroke="#a8102c" stroke-width="0.9"/>
<circle cx="478.40" cy="228.20" r="1.9" fill="#a8102c" stroke="#a8102c" stroke-width="0.9"/>
<circle cx="472.70" cy="231.40" r="1.9" fill="#a8102c" stroke="#a8102c" stroke-width="0.9"/>
<line x1="466.80" y1="218.50" x2="484.80" y2="218.50" stroke="#111" stroke-width="1.6"/>
<line x1="475.80" y1="211.30" x2="475.80" y2="226.10" stroke="#111" stroke-width="1.2"/>
<line x1="471.60" y1="211.30" x2="480.00" y2="211.30" stroke="#111" stroke-width="1.2"/>
<line x1="471.60" y1="226.10" x2="480.00" y2="226.10" stroke="#111" stroke-width="1.2"/>
<line x1="398.00" y1="255.00" x2="398.00" y2="257.50" stroke="#111" stroke-width="1.1"/>
<line x1="422.60" y1="255.00" x2="422.60" y2="257.50" stroke="#111" stroke-width="1.1"/>
<line x1="450.70" y1="255.00" x2="450.70" y2="257.50" stroke="#111" stroke-width="1.1"/>
<line x1="475.80" y1="255.00" x2="475.80" y2="257.50" stroke="#111" stroke-width="1.1"/>
<text x="398.00" y="266.30" font-size="6.6" text-anchor="middle" textLength="16.20" lengthAdjust="spacingAndGlyphs">-IL1B</text>
<text x="422.60" y="266.30" font-size="6.6" text-anchor="middle" textLength="16.20" lengthAdjust="spacingAndGlyphs">+IL1B</text>
<text x="450.70" y="266.30" font-size="6.6" text-anchor="middle" textLength="16.20" lengthAdjust="spacingAndGlyphs">-IL1B</text>
<text x="475.80" y="266.30" font-size="6.6" text-anchor="middle" textLength="16.20" lengthAdjust="spacingAndGlyphs">+IL1B</text>
<line x1="391.00" y1="271.50" x2="431.80" y2="271.50" stroke="#111" stroke-width="1.3"/>
<line x1="391.00" y1="269.90" x2="391.00" y2="273.10" stroke="#111" stroke-width="1.1"/>
<line x1="431.80" y1="269.90" x2="431.80" y2="273.10" stroke="#111" stroke-width="1.1"/>
<line x1="444.50" y1="271.50" x2="485.10" y2="271.50" stroke="#111" stroke-width="1.3"/>
<line x1="444.50" y1="269.90" x2="444.50" y2="273.10" stroke="#111" stroke-width="1.1"/>
<line x1="485.10" y1="269.90" x2="485.10" y2="273.10" stroke="#111" stroke-width="1.1"/>
<text x="389.60" y="283.20" font-size="9" textLength="43.00" lengthAdjust="spacingAndGlyphs">CD34<tspan font-size="6" dy="-3.2">+</tspan><tspan dy="3.2">CD38</tspan><tspan font-size="6" dy="-3.2">+</tspan></text>
<text x="444.50" y="283.20" font-size="9" textLength="40.20" lengthAdjust="spacingAndGlyphs">CD34<tspan font-size="6" dy="-3.2">+</tspan><tspan dy="3.2">CD38</tspan><tspan font-size="6" dy="-3.2">-</tspan></text>
<line x1="456.20" y1="189.50" x2="476.30" y2="189.50" stroke="#111" stroke-width="1.1"/>
<line x1="456.20" y1="187.90" x2="456.20" y2="191.10" stroke="#111" stroke-width="1.0"/>
<line x1="476.30" y1="187.90" x2="476.30" y2="191.10" stroke="#111" stroke-width="1.0"/>
<text x="466.25" y="185.30" font-size="5.6" text-anchor="middle" textLength="22.60" lengthAdjust="spacingAndGlyphs">p=0.0244</text>
<text x="357.60" y="218.30" font-size="8.2" text-anchor="middle" textLength="82.60" lengthAdjust="spacingAndGlyphs" transform="rotate(-90 357.60 218.30)">Fold change MFI pNFKB</text>
<text x="367.50" y="218.25" font-size="8.2" text-anchor="middle" textLength="86.10" lengthAdjust="spacingAndGlyphs" transform="rotate(-90 367.50 218.25)">of staining isotype control</text>
<rect x="16.10" y="328.50" width="8.82" height="7.21" fill="#76ba46"/>
<rect x="24.32" y="328.50" width="8.82" height="7.21" fill="#76ba46"/>
<rect x="32.54" y="328.50" width="8.82" height="7.21" fill="#50a048"/>
<rect x="40.76" y="328.50" width="8.82" height="7.21" fill="#76ba46"/>
<rect x="48.98" y="328.50" width="8.82" height="7.21" fill="#76ba46"/>
<rect x="57.20" y="328.50" width="8.82" height="7.21" fill="#b42018"/>
<rect x="65.42" y="328.50" width="8.82" height="7.21" fill="#b42018"/>
<rect x="73.64" y="328.50" width="8.82" height="7.21" fill="#d6301c"/>
<rect x="81.86" y="328.50" width="8.82" height="7.21" fill="#d6301c"/>
<rect x="90.08" y="328.50" width="8.22" height="7.21" fill="#8a1c16"/>
<rect x="16.10" y="335.11" width="8.82" height="7.21" fill="#76ba46"/>
<rect x="24.32" y="335.11" width="8.82" height="7.21" fill="#50a048"/>
<rect x="32.54" y="335.11" width="8.82" height="7.21" fill="#50a048"/>
<rect x="40.76" y="335.11" width="8.82" height="7.21" fill="#76ba46"/>
<rect x="48.98" y="335.11" width="8.82" height="7.21" fill="#76ba46"/>
<rect x="57.20" y="335.11" width="8.82" height="7.21" fill="#d6301c"/>
<rect x="65.42" y="335.11" width="8.82" height="7.21" fill="#d6301c"/>
<rect x="73.64" y="335.11" width="8.82" height="7.21" fill="#d6301c"/>
<rect x="81.86" y="335.11" width="8.82" height="7.21" fill="#d6301c"/>
<rect x="90.08" y="335.11" width="8.22" height="7.21" fill="#8a1c16"/>
<rect x="16.10" y="341.72" width="8.82" height="7.21" fill="#76ba46"/>
<rect x="24.32" y="341.72" width="8.82" height="7.21" fill="#30703a"/>
<rect x="32.54" y="341.72" width="8.82" height="7.21" fill="#30703a"/>
<rect x="40.76" y="341.72" width="8.82" height="7.21" fill="#76ba46"/>
<rect x="48.98" y="341.72" width="8.82" height="7.21" fill="#76ba46"/>
<rect x="57.20" y="341.72" width="8.82" height="7.21" fill="#d6301c"/>
<rect x="65.42" y="341.72" width="8.82" height="7.21" fill="#d6301c"/>
<rect x="73.64" y="341.72" width="8.82" height="7.21" fill="#d6301c"/>
<rect x="81.86" y="341.72" width="8.82" height="7.21" fill="#8a1c16"/>
<rect x="90.08" y="341.72" width="8.22" height="7.21" fill="#8a1c16"/>
<rect x="16.10" y="348.33" width="8.82" height="7.21" fill="#50a048"/>
<rect x="24.32" y="348.33" width="8.82" height="7.21" fill="#50a048"/>
<rect x="32.54" y="348.33" width="8.82" height="7.21" fill="#76ba46"/>
<rect x="40.76" y="348.33" width="8.82" height="7.21" fill="#76ba46"/>
<rect x="48.98" y="348.33" width="8.82" height="7.21" fill="#76ba46"/>
<rect x="57.20" y="348.33" width="8.82" height="7.21" fill="#d6301c"/>
<rect x="65.42" y="348.33" width="8.82" height="7.21" fill="#d6301c"/>
<rect x="73.64" y="348.33" width="8.82" height="7.21" fill="#d6301c"/>
<rect x="81.86" y="348.33" width="8.82" height="7.21" fill="#d6301c"/>
<rect x="90.08" y="348.33" width="8.22" height="7.21" fill="#8a1c16"/>
<rect x="16.10" y="354.94" width="8.82" height="7.21" fill="#50a048"/>
<rect x="24.32" y="354.94" width="8.82" height="7.21" fill="#76ba46"/>
<rect x="32.54" y="354.94" width="8.82" height="7.21" fill="#30703a"/>
<rect x="40.76" y="354.94" width="8.82" height="7.21" fill="#76ba46"/>
<rect x="48.98" y="354.94" width="8.82" height="7.21" fill="#76ba46"/>
<rect x="57.20" y="354.94" width="8.82" height="7.21" fill="#d6301c"/>
<rect x="65.42" y="354.94" width="8.82" height="7.21" fill="#d6301c"/>
<rect x="73.64" y="354.94" width="8.82" height="7.21" fill="#d6301c"/>
<rect x="81.86" y="354.94" width="8.82" height="7.21" fill="#d6301c"/>
<rect x="90.08" y="354.94" width="8.22" height="7.21" fill="#b42018"/>
<rect x="16.10" y="361.55" width="8.82" height="7.21" fill="#76ba46"/>
<rect x="24.32" y="361.55" width="8.82" height="7.21" fill="#30703a"/>
<rect x="32.54" y="361.55" width="8.82" height="7.21" fill="#50a048"/>
<rect x="40.76" y="361.55" width="8.82" height="7.21" fill="#76ba46"/>
<rect x="48.98" y="361.55" width="8.82" height="7.21" fill="#76ba46"/>
<rect x="57.20" y="361.55" width="8.82" height="7.21" fill="#d6301c"/>
<rect x="65.42" y="361.55" width="8.82" height="7.21" fill="#d6301c"/>
<rect x="73.64" y="361.55" width="8.82" height="7.21" fill="#d6301c"/>
<rect x="81.86" y="361.55" width="8.82" height="7.21" fill="#8a1c16"/>
<rect x="90.08" y="361.55" width="8.22" height="7.21" fill="#8a1c16"/>
<rect x="16.10" y="368.16" width="8.82" height="7.21" fill="#76ba46"/>
<rect x="24.32" y="368.16" width="8.82" height="7.21" fill="#50a048"/>
<rect x="32.54" y="368.16" width="8.82" height="7.21" fill="#76ba46"/>
<rect x="40.76" y="368.16" width="8.82" height="7.21" fill="#76ba46"/>
<rect x="48.98" y="368.16" width="8.82" height="7.21" fill="#30703a"/>
<rect x="57.20" y="368.16" width="8.82" height="7.21" fill="#d6301c"/>
<rect x="65.42" y="368.16" width="8.82" height="7.21" fill="#d6301c"/>
<rect x="73.64" y="368.16" width="8.82" height="7.21" fill="#d6301c"/>
<rect x="81.86" y="368.16" width="8.82" height="7.21" fill="#8a1c16"/>
<rect x="90.08" y="368.16" width="8.22" height="7.21" fill="#231f16"/>
<rect x="16.10" y="374.77" width="8.82" height="7.21" fill="#76ba46"/>
<rect x="24.32" y="374.77" width="8.82" height="7.21" fill="#231f16"/>
<rect x="32.54" y="374.77" width="8.82" height="7.21" fill="#76ba46"/>
<rect x="40.76" y="374.77" width="8.82" height="7.21" fill="#76ba46"/>
<rect x="48.98" y="374.77" width="8.82" height="7.21" fill="#50a048"/>
<rect x="57.20" y="374.77" width="8.82" height="7.21" fill="#8a1c16"/>
<rect x="65.42" y="374.77" width="8.82" height="7.21" fill="#d6301c"/>
<rect x="73.64" y="374.77" width="8.82" height="7.21" fill="#d6301c"/>
<rect x="81.86" y="374.77" width="8.82" height="7.21" fill="#8a1c16"/>
<rect x="90.08" y="374.77" width="8.22" height="7.21" fill="#8a1c16"/>
<rect x="16.10" y="381.38" width="8.82" height="7.21" fill="#50a048"/>
<rect x="24.32" y="381.38" width="8.82" height="7.21" fill="#30703a"/>
<rect x="32.54" y="381.38" width="8.82" height="7.21" fill="#30703a"/>
<rect x="40.76" y="381.38" width="8.82" height="7.21" fill="#76ba46"/>
<rect x="48.98" y="381.38" width="8.82" height="7.21" fill="#76ba46"/>
<rect x="57.20" y="381.38" width="8.82" height="7.21" fill="#d6301c"/>
<rect x="65.42" y="381.38" width="8.82" height="7.21" fill="#d6301c"/>
<rect x="73.64" y="381.38" width="8.82" height="7.21" fill="#d6301c"/>
<rect x="81.86" y="381.38" width="8.82" height="7.21" fill="#8a1c16"/>
<rect x="90.08" y="381.38" width="8.22" height="7.21" fill="#b42018"/>
<rect x="16.10" y="387.99" width="8.82" height="7.21" fill="#76ba46"/>
<rect x="24.32" y="387.99" width="8.82" height="7.21" fill="#30703a"/>
<rect x="32.54" y="387.99" width="8.82" height="7.21" fill="#30703a"/>
<rect x="40.76" y="387.99" width="8.82" height="7.21" fill="#76ba46"/>
<rect x="48.98" y="387.99" width="8.82" height="7.21" fill="#76ba46"/>
<rect x="57.20" y="387.99" width="8.82" height="7.21" fill="#d6301c"/>
<rect x="65.42" y="387.99" width="8.82" height="7.21" fill="#d6301c"/>
<rect x="73.64" y="387.99" width="8.82" height="7.21" fill="#d6301c"/>
<rect x="81.86" y="387.99" width="8.82" height="7.21" fill="#8a1c16"/>
<rect x="90.08" y="387.99" width="8.22" height="7.21" fill="#8a1c16"/>
<rect x="16.10" y="394.60" width="8.82" height="7.21" fill="#50a048"/>
<rect x="24.32" y="394.60" width="8.82" height="7.21" fill="#30703a"/>
<rect x="32.54" y="394.60" width="8.82" height="7.21" fill="#30703a"/>
<rect x="40.76" y="394.60" width="8.82" height="7.21" fill="#76ba46"/>
<rect x="48.98" y="394.60" width="8.82" height="7.21" fill="#76ba46"/>
<rect x="57.20" y="394.60" width="8.82" height="7.21" fill="#d6301c"/>
<rect x="65.42" y="394.60" width="8.82" height="7.21" fill="#d6301c"/>
<rect x="73.64" y="394.60" width="8.82" height="7.21" fill="#d6301c"/>
<rect x="81.86" y="394.60" width="8.82" height="7.21" fill="#8a1c16"/>
<rect x="90.08" y="394.60" width="8.22" height="7.21" fill="#8a1c16"/>
<rect x="16.10" y="401.21" width="8.82" height="7.21" fill="#30703a"/>
<rect x="24.32" y="401.21" width="8.82" height="7.21" fill="#76ba46"/>
<rect x="32.54" y="401.21" width="8.82" height="7.21" fill="#76ba46"/>
<rect x="40.76" y="401.21" width="8.82" height="7.21" fill="#76ba46"/>
<rect x="48.98" y="401.21" width="8.82" height="7.21" fill="#231f16"/>
<rect x="57.20" y="401.21" width="8.82" height="7.21" fill="#8a1c16"/>
<rect x="65.42" y="401.21" width="8.82" height="7.21" fill="#d6301c"/>
<rect x="73.64" y="401.21" width="8.82" height="7.21" fill="#d6301c"/>
<rect x="81.86" y="401.21" width="8.82" height="7.21" fill="#b42018"/>
<rect x="90.08" y="401.21" width="8.22" height="7.21" fill="#8a1c16"/>
<rect x="16.10" y="407.82" width="8.82" height="7.21" fill="#8a1c16"/>
<rect x="24.32" y="407.82" width="8.82" height="7.21" fill="#231f16"/>
<rect x="32.54" y="407.82" width="8.82" height="7.21" fill="#30703a"/>
<rect x="40.76" y="407.82" width="8.82" height="7.21" fill="#76ba46"/>
<rect x="48.98" y="407.82" width="8.82" height="7.21" fill="#76ba46"/>
<rect x="57.20" y="407.82" width="8.82" height="7.21" fill="#d6301c"/>
<rect x="65.42" y="407.82" width="8.82" height="7.21" fill="#d6301c"/>
<rect x="73.64" y="407.82" width="8.82" height="7.21" fill="#d6301c"/>
<rect x="81.86" y="407.82" width="8.82" height="7.21" fill="#30703a"/>
<rect x="90.08" y="407.82" width="8.22" height="7.21" fill="#8a1c16"/>
<rect x="16.10" y="414.43" width="8.82" height="7.21" fill="#8a1c16"/>
<rect x="24.32" y="414.43" width="8.82" height="7.21" fill="#231f16"/>
<rect x="32.54" y="414.43" width="8.82" height="7.21" fill="#30703a"/>
<rect x="40.76" y="414.43" width="8.82" height="7.21" fill="#50a048"/>
<rect x="48.98" y="414.43" width="8.82" height="7.21" fill="#76ba46"/>
<rect x="57.20" y="414.43" width="8.82" height="7.21" fill="#d6301c"/>
<rect x="65.42" y="414.43" width="8.82" height="7.21" fill="#d6301c"/>
<rect x="73.64" y="414.43" width="8.82" height="7.21" fill="#b42018"/>
<rect x="81.86" y="414.43" width="8.82" height="7.21" fill="#231f16"/>
<rect x="90.08" y="414.43" width="8.22" height="7.21" fill="#8a1c16"/>
<rect x="16.10" y="421.04" width="8.82" height="7.21" fill="#76ba46"/>
<rect x="24.32" y="421.04" width="8.82" height="7.21" fill="#231f16"/>
<rect x="32.54" y="421.04" width="8.82" height="7.21" fill="#30703a"/>
<rect x="40.76" y="421.04" width="8.82" height="7.21" fill="#231f16"/>
<rect x="48.98" y="421.04" width="8.82" height="7.21" fill="#76ba46"/>
<rect x="57.20" y="421.04" width="8.82" height="7.21" fill="#76ba46"/>
<rect x="65.42" y="421.04" width="8.82" height="7.21" fill="#d6301c"/>
<rect x="73.64" y="421.04" width="8.82" height="7.21" fill="#d6301c"/>
<rect x="81.86" y="421.04" width="8.82" height="7.21" fill="#d6301c"/>
<rect x="90.08" y="421.04" width="8.22" height="7.21" fill="#50a048"/>
<rect x="16.10" y="427.65" width="8.82" height="7.21" fill="#76ba46"/>
<rect x="24.32" y="427.65" width="8.82" height="7.21" fill="#76ba46"/>
<rect x="32.54" y="427.65" width="8.82" height="7.21" fill="#76ba46"/>
<rect x="40.76" y="427.65" width="8.82" height="7.21" fill="#8a1c16"/>
<rect x="48.98" y="427.65" width="8.82" height="7.21" fill="#d6301c"/>
<rect x="57.20" y="427.65" width="8.82" height="7.21" fill="#231f16"/>
<rect x="65.42" y="427.65" width="8.82" height="7.21" fill="#d6301c"/>
<rect x="73.64" y="427.65" width="8.82" height="7.21" fill="#231f16"/>
<rect x="81.86" y="427.65" width="8.82" height="7.21" fill="#b42018"/>
<rect x="90.08" y="427.65" width="8.22" height="7.21" fill="#8a1c16"/>
<rect x="16.10" y="434.26" width="8.82" height="7.21" fill="#50a048"/>
<rect x="24.32" y="434.26" width="8.82" height="7.21" fill="#76ba46"/>
<rect x="32.54" y="434.26" width="8.82" height="7.21" fill="#50a048"/>
<rect x="40.76" y="434.26" width="8.82" height="7.21" fill="#76ba46"/>
<rect x="48.98" y="434.26" width="8.82" height="7.21" fill="#b42018"/>
<rect x="57.20" y="434.26" width="8.82" height="7.21" fill="#76ba46"/>
<rect x="65.42" y="434.26" width="8.82" height="7.21" fill="#d6301c"/>
<rect x="73.64" y="434.26" width="8.82" height="7.21" fill="#b42018"/>
<rect x="81.86" y="434.26" width="8.82" height="7.21" fill="#76ba46"/>
<rect x="90.08" y="434.26" width="8.22" height="7.21" fill="#b42018"/>
<rect x="16.10" y="440.87" width="8.82" height="6.61" fill="#8a1c16"/>
<rect x="24.32" y="440.87" width="8.82" height="6.61" fill="#76ba46"/>
<rect x="32.54" y="440.87" width="8.82" height="6.61" fill="#76ba46"/>
<rect x="40.76" y="440.87" width="8.82" height="6.61" fill="#d6301c"/>
<rect x="48.98" y="440.87" width="8.82" height="6.61" fill="#d6301c"/>
<rect x="57.20" y="440.87" width="8.82" height="6.61" fill="#76ba46"/>
<rect x="65.42" y="440.87" width="8.82" height="6.61" fill="#76ba46"/>
<rect x="73.64" y="440.87" width="8.82" height="6.61" fill="#50a048"/>
<rect x="81.86" y="440.87" width="8.82" height="6.61" fill="#d6301c"/>
<rect x="90.08" y="440.87" width="8.22" height="6.61" fill="#231f16"/>
<rect x="136.10" y="328.40" width="8.75" height="7.29" fill="#76ba46"/>
<rect x="144.25" y="328.40" width="8.75" height="7.29" fill="#76ba46"/>
<rect x="152.40" y="328.40" width="8.75" height="7.29" fill="#50a048"/>
<rect x="160.55" y="328.40" width="8.75" height="7.29" fill="#76ba46"/>
<rect x="168.70" y="328.40" width="8.75" height="7.29" fill="#50a048"/>
<rect x="176.85" y="328.40" width="8.75" height="7.29" fill="#b42018"/>
<rect x="185.00" y="328.40" width="8.75" height="7.29" fill="#8a1c16"/>
<rect x="193.15" y="328.40" width="8.75" height="7.29" fill="#d6301c"/>
<rect x="201.30" y="328.40" width="8.75" height="7.29" fill="#d6301c"/>
<rect x="209.45" y="328.40" width="8.15" height="7.29" fill="#d6301c"/>
<rect x="136.10" y="335.09" width="8.75" height="7.29" fill="#76ba46"/>
<rect x="144.25" y="335.09" width="8.75" height="7.29" fill="#231f16"/>
<rect x="152.40" y="335.09" width="8.75" height="7.29" fill="#30703a"/>
<rect x="160.55" y="335.09" width="8.75" height="7.29" fill="#76ba46"/>
<rect x="168.70" y="335.09" width="8.75" height="7.29" fill="#76ba46"/>
<rect x="176.85" y="335.09" width="8.75" height="7.29" fill="#d6301c"/>
<rect x="185.00" y="335.09" width="8.75" height="7.29" fill="#d6301c"/>
<rect x="193.15" y="335.09" width="8.75" height="7.29" fill="#d6301c"/>
<rect x="201.30" y="335.09" width="8.75" height="7.29" fill="#d6301c"/>
<rect x="209.45" y="335.09" width="8.15" height="7.29" fill="#231f16"/>
<rect x="136.10" y="341.78" width="8.75" height="7.29" fill="#76ba46"/>
<rect x="144.25" y="341.78" width="8.75" height="7.29" fill="#50a048"/>
<rect x="152.40" y="341.78" width="8.75" height="7.29" fill="#76ba46"/>
<rect x="160.55" y="341.78" width="8.75" height="7.29" fill="#76ba46"/>
<rect x="168.70" y="341.78" width="8.75" height="7.29" fill="#50a048"/>
<rect x="176.85" y="341.78" width="8.75" height="7.29" fill="#8a1c16"/>
<rect x="185.00" y="341.78" width="8.75" height="7.29" fill="#d6301c"/>
<rect x="193.15" y="341.78" width="8.75" height="7.29" fill="#231f16"/>
<rect x="201.30" y="341.78" width="8.75" height="7.29" fill="#8a1c16"/>
<rect x="209.45" y="341.78" width="8.15" height="7.29" fill="#d6301c"/>
<rect x="136.10" y="348.47" width="8.75" height="7.29" fill="#76ba46"/>
<rect x="144.25" y="348.47" width="8.75" height="7.29" fill="#231f16"/>
<rect x="152.40" y="348.47" width="8.75" height="7.29" fill="#76ba46"/>
<rect x="160.55" y="348.47" width="8.75" height="7.29" fill="#76ba46"/>
<rect x="168.70" y="348.47" width="8.75" height="7.29" fill="#30703a"/>
<rect x="176.85" y="348.47" width="8.75" height="7.29" fill="#8a1c16"/>
<rect x="185.00" y="348.47" width="8.75" height="7.29" fill="#d6301c"/>
<rect x="193.15" y="348.47" width="8.75" height="7.29" fill="#231f16"/>
<rect x="201.30" y="348.47" width="8.75" height="7.29" fill="#d6301c"/>
<rect x="209.45" y="348.47" width="8.15" height="7.29" fill="#d6301c"/>
<rect x="136.10" y="355.16" width="8.75" height="7.29" fill="#76ba46"/>
<rect x="144.25" y="355.16" width="8.75" height="7.29" fill="#76ba46"/>
<rect x="152.40" y="355.16" width="8.75" height="7.29" fill="#231f16"/>
<rect x="160.55" y="355.16" width="8.75" height="7.29" fill="#231f16"/>
<rect x="168.70" y="355.16" width="8.75" height="7.29" fill="#76ba46"/>
<rect x="176.85" y="355.16" width="8.75" height="7.29" fill="#d6301c"/>
<rect x="185.00" y="355.16" width="8.75" height="7.29" fill="#d6301c"/>
<rect x="193.15" y="355.16" width="8.75" height="7.29" fill="#231f16"/>
<rect x="201.30" y="355.16" width="8.75" height="7.29" fill="#d6301c"/>
<rect x="209.45" y="355.16" width="8.15" height="7.29" fill="#8a1c16"/>
<rect x="136.10" y="361.85" width="8.75" height="7.29" fill="#76ba46"/>
<rect x="144.25" y="361.85" width="8.75" height="7.29" fill="#76ba46"/>
<rect x="152.40" y="361.85" width="8.75" height="7.29" fill="#30703a"/>
<rect x="160.55" y="361.85" width="8.75" height="7.29" fill="#50a048"/>
<rect x="168.70" y="361.85" width="8.75" height="7.29" fill="#8a1c16"/>
<rect x="176.85" y="361.85" width="8.75" height="7.29" fill="#b42018"/>
<rect x="185.00" y="361.85" width="8.75" height="7.29" fill="#d6301c"/>
<rect x="193.15" y="361.85" width="8.75" height="7.29" fill="#d6301c"/>
<rect x="201.30" y="361.85" width="8.75" height="7.29" fill="#b42018"/>
<rect x="209.45" y="361.85" width="8.15" height="7.29" fill="#b42018"/>
<rect x="136.10" y="368.54" width="8.75" height="7.29" fill="#76ba46"/>
<rect x="144.25" y="368.54" width="8.75" height="7.29" fill="#76ba46"/>
<rect x="152.40" y="368.54" width="8.75" height="7.29" fill="#76ba46"/>
<rect x="160.55" y="368.54" width="8.75" height="7.29" fill="#76ba46"/>
<rect x="168.70" y="368.54" width="8.75" height="7.29" fill="#8a1c16"/>
<rect x="176.85" y="368.54" width="8.75" height="7.29" fill="#231f16"/>
<rect x="185.00" y="368.54" width="8.75" height="7.29" fill="#d6301c"/>
<rect x="193.15" y="368.54" width="8.75" height="7.29" fill="#d6301c"/>
<rect x="201.30" y="368.54" width="8.75" height="7.29" fill="#d6301c"/>
<rect x="209.45" y="368.54" width="8.15" height="7.29" fill="#d6301c"/>
<rect x="136.10" y="375.23" width="8.75" height="7.29" fill="#50a048"/>
<rect x="144.25" y="375.23" width="8.75" height="7.29" fill="#8a1c16"/>
<rect x="152.40" y="375.23" width="8.75" height="7.29" fill="#231f16"/>
<rect x="160.55" y="375.23" width="8.75" height="7.29" fill="#50a048"/>
<rect x="168.70" y="375.23" width="8.75" height="7.29" fill="#76ba46"/>
<rect x="176.85" y="375.23" width="8.75" height="7.29" fill="#b42018"/>
<rect x="185.00" y="375.23" width="8.75" height="7.29" fill="#d6301c"/>
<rect x="193.15" y="375.23" width="8.75" height="7.29" fill="#231f16"/>
<rect x="201.30" y="375.23" width="8.75" height="7.29" fill="#8a1c16"/>
<rect x="209.45" y="375.23" width="8.15" height="7.29" fill="#b42018"/>
<rect x="136.10" y="381.92" width="8.75" height="7.29" fill="#76ba46"/>
<rect x="144.25" y="381.92" width="8.75" height="7.29" fill="#76ba46"/>
<rect x="152.40" y="381.92" width="8.75" height="7.29" fill="#b42018"/>
<rect x="160.55" y="381.92" width="8.75" height="7.29" fill="#76ba46"/>
<rect x="168.70" y="381.92" width="8.75" height="7.29" fill="#8a1c16"/>
<rect x="176.85" y="381.92" width="8.75" height="7.29" fill="#d6301c"/>
<rect x="185.00" y="381.92" width="8.75" height="7.29" fill="#d6301c"/>
<rect x="193.15" y="381.92" width="8.75" height="7.29" fill="#231f16"/>
<rect x="201.30" y="381.92" width="8.75" height="7.29" fill="#b42018"/>
<rect x="209.45" y="381.92" width="8.15" height="7.29" fill="#8a1c16"/>
<rect x="136.10" y="388.61" width="8.75" height="7.29" fill="#76ba46"/>
<rect x="144.25" y="388.61" width="8.75" height="7.29" fill="#231f16"/>
<rect x="152.40" y="388.61" width="8.75" height="7.29" fill="#76ba46"/>
<rect x="160.55" y="388.61" width="8.75" height="7.29" fill="#50a048"/>
<rect x="168.70" y="388.61" width="8.75" height="7.29" fill="#8a1c16"/>
<rect x="176.85" y="388.61" width="8.75" height="7.29" fill="#231f16"/>
<rect x="185.00" y="388.61" width="8.75" height="7.29" fill="#b42018"/>
<rect x="193.15" y="388.61" width="8.75" height="7.29" fill="#76ba46"/>
<rect x="201.30" y="388.61" width="8.75" height="7.29" fill="#d6301c"/>
<rect x="209.45" y="388.61" width="8.15" height="7.29" fill="#d6301c"/>
<rect x="136.10" y="395.30" width="8.75" height="7.29" fill="#30703a"/>
<rect x="144.25" y="395.30" width="8.75" height="7.29" fill="#d6301c"/>
<rect x="152.40" y="395.30" width="8.75" height="7.29" fill="#76ba46"/>
<rect x="160.55" y="395.30" width="8.75" height="7.29" fill="#30703a"/>
<rect x="168.70" y="395.30" width="8.75" height="7.29" fill="#76ba46"/>
<rect x="176.85" y="395.30" width="8.75" height="7.29" fill="#8a1c16"/>
<rect x="185.00" y="395.30" width="8.75" height="7.29" fill="#231f16"/>
<rect x="193.15" y="395.30" width="8.75" height="7.29" fill="#50a048"/>
<rect x="201.30" y="395.30" width="8.75" height="7.29" fill="#d6301c"/>
<rect x="209.45" y="395.30" width="8.15" height="7.29" fill="#d6301c"/>
<rect x="136.10" y="401.99" width="8.75" height="7.29" fill="#50a048"/>
<rect x="144.25" y="401.99" width="8.75" height="7.29" fill="#76ba46"/>
<rect x="152.40" y="401.99" width="8.75" height="7.29" fill="#b42018"/>
<rect x="160.55" y="401.99" width="8.75" height="7.29" fill="#50a048"/>
<rect x="168.70" y="401.99" width="8.75" height="7.29" fill="#b42018"/>
<rect x="176.85" y="401.99" width="8.75" height="7.29" fill="#8a1c16"/>
<rect x="185.00" y="401.99" width="8.75" height="7.29" fill="#8a1c16"/>
<rect x="193.15" y="401.99" width="8.75" height="7.29" fill="#8a1c16"/>
<rect x="201.30" y="401.99" width="8.75" height="7.29" fill="#8a1c16"/>
<rect x="209.45" y="401.99" width="8.15" height="7.29" fill="#b42018"/>
<rect x="136.10" y="408.68" width="8.75" height="7.29" fill="#231f16"/>
<rect x="144.25" y="408.68" width="8.75" height="7.29" fill="#76ba46"/>
<rect x="152.40" y="408.68" width="8.75" height="7.29" fill="#76ba46"/>
<rect x="160.55" y="408.68" width="8.75" height="7.29" fill="#8a1c16"/>
<rect x="168.70" y="408.68" width="8.75" height="7.29" fill="#b42018"/>
<rect x="176.85" y="408.68" width="8.75" height="7.29" fill="#8a1c16"/>
<rect x="185.00" y="408.68" width="8.75" height="7.29" fill="#231f16"/>
<rect x="193.15" y="408.68" width="8.75" height="7.29" fill="#30703a"/>
<rect x="201.30" y="408.68" width="8.75" height="7.29" fill="#b42018"/>
<rect x="209.45" y="408.68" width="8.15" height="7.29" fill="#d6301c"/>
<rect x="136.10" y="415.37" width="8.75" height="7.29" fill="#76ba46"/>
<rect x="144.25" y="415.37" width="8.75" height="7.29" fill="#8a1c16"/>
<rect x="152.40" y="415.37" width="8.75" height="7.29" fill="#b42018"/>
<rect x="160.55" y="415.37" width="8.75" height="7.29" fill="#76ba46"/>
<rect x="168.70" y="415.37" width="8.75" height="7.29" fill="#b42018"/>
<rect x="176.85" y="415.37" width="8.75" height="7.29" fill="#b42018"/>
<rect x="185.00" y="415.37" width="8.75" height="7.29" fill="#8a1c16"/>
<rect x="193.15" y="415.37" width="8.75" height="7.29" fill="#8a1c16"/>
<rect x="201.30" y="415.37" width="8.75" height="7.29" fill="#76ba46"/>
<rect x="209.45" y="415.37" width="8.15" height="7.29" fill="#8a1c16"/>
<rect x="136.10" y="422.06" width="8.75" height="7.29" fill="#231f16"/>
<rect x="144.25" y="422.06" width="8.75" height="7.29" fill="#8a1c16"/>
<rect x="152.40" y="422.06" width="8.75" height="7.29" fill="#30703a"/>
<rect x="160.55" y="422.06" width="8.75" height="7.29" fill="#76ba46"/>
<rect x="168.70" y="422.06" width="8.75" height="7.29" fill="#231f16"/>
<rect x="176.85" y="422.06" width="8.75" height="7.29" fill="#231f16"/>
<rect x="185.00" y="422.06" width="8.75" height="7.29" fill="#76ba46"/>
<rect x="193.15" y="422.06" width="8.75" height="7.29" fill="#231f16"/>
<rect x="201.30" y="422.06" width="8.75" height="7.29" fill="#d6301c"/>
<rect x="209.45" y="422.06" width="8.15" height="7.29" fill="#b42018"/>
<rect x="136.10" y="428.75" width="8.75" height="7.29" fill="#76ba46"/>
<rect x="144.25" y="428.75" width="8.75" height="7.29" fill="#d6301c"/>
<rect x="152.40" y="428.75" width="8.75" height="7.29" fill="#b42018"/>
<rect x="160.55" y="428.75" width="8.75" height="7.29" fill="#8a1c16"/>
<rect x="168.70" y="428.75" width="8.75" height="7.29" fill="#76ba46"/>
<rect x="176.85" y="428.75" width="8.75" height="7.29" fill="#d6301c"/>
<rect x="185.00" y="428.75" width="8.75" height="7.29" fill="#d6301c"/>
<rect x="193.15" y="428.75" width="8.75" height="7.29" fill="#76ba46"/>
<rect x="201.30" y="428.75" width="8.75" height="7.29" fill="#76ba46"/>
<rect x="209.45" y="428.75" width="8.15" height="7.29" fill="#b42018"/>
<rect x="136.10" y="435.44" width="8.75" height="7.29" fill="#50a048"/>
<rect x="144.25" y="435.44" width="8.75" height="7.29" fill="#50a048"/>
<rect x="152.40" y="435.44" width="8.75" height="7.29" fill="#50a048"/>
<rect x="160.55" y="435.44" width="8.75" height="7.29" fill="#d6301c"/>
<rect x="168.70" y="435.44" width="8.75" height="7.29" fill="#231f16"/>
<rect x="176.85" y="435.44" width="8.75" height="7.29" fill="#231f16"/>
<rect x="185.00" y="435.44" width="8.75" height="7.29" fill="#8a1c16"/>
<rect x="193.15" y="435.44" width="8.75" height="7.29" fill="#76ba46"/>
<rect x="201.30" y="435.44" width="8.75" height="7.29" fill="#b42018"/>
<rect x="209.45" y="435.44" width="8.15" height="7.29" fill="#30703a"/>
<rect x="136.10" y="442.13" width="8.75" height="7.29" fill="#50a048"/>
<rect x="144.25" y="442.13" width="8.75" height="7.29" fill="#50a048"/>
<rect x="152.40" y="442.13" width="8.75" height="7.29" fill="#8a1c16"/>
<rect x="160.55" y="442.13" width="8.75" height="7.29" fill="#d6301c"/>
<rect x="168.70" y="442.13" width="8.75" height="7.29" fill="#b42018"/>
<rect x="176.85" y="442.13" width="8.75" height="7.29" fill="#76ba46"/>
<rect x="185.00" y="442.13" width="8.75" height="7.29" fill="#76ba46"/>
<rect x="193.15" y="442.13" width="8.75" height="7.29" fill="#76ba46"/>
<rect x="201.30" y="442.13" width="8.75" height="7.29" fill="#d6301c"/>
<rect x="209.45" y="442.13" width="8.15" height="7.29" fill="#8a1c16"/>
<rect x="136.10" y="448.82" width="8.75" height="6.69" fill="#d6301c"/>
<rect x="144.25" y="448.82" width="8.75" height="6.69" fill="#50a048"/>
<rect x="152.40" y="448.82" width="8.75" height="6.69" fill="#b42018"/>
<rect x="160.55" y="448.82" width="8.75" height="6.69" fill="#8a1c16"/>
<rect x="168.70" y="448.82" width="8.75" height="6.69" fill="#231f16"/>
<rect x="176.85" y="448.82" width="8.75" height="6.69" fill="#30703a"/>
<rect x="185.00" y="448.82" width="8.75" height="6.69" fill="#76ba46"/>
<rect x="193.15" y="448.82" width="8.75" height="6.69" fill="#231f16"/>
<rect x="201.30" y="448.82" width="8.75" height="6.69" fill="#76ba46"/>
<rect x="209.45" y="448.82" width="8.15" height="6.69" fill="#d6301c"/>
<text x="100.00" y="333.20" font-size="6.7" textLength="25.65" lengthAdjust="spacingAndGlyphs">MAP3K8</text>
<text x="100.00" y="339.88" font-size="6.7" textLength="16.97" lengthAdjust="spacingAndGlyphs">BTG2</text>
<text x="100.00" y="346.56" font-size="6.7" textLength="20.95" lengthAdjust="spacingAndGlyphs">CXCL2</text>
<text x="100.00" y="353.24" font-size="6.7" textLength="20.95" lengthAdjust="spacingAndGlyphs">NFKB2</text>
<text x="100.00" y="359.92" font-size="6.7" textLength="16.98" lengthAdjust="spacingAndGlyphs">RELB</text>
<text x="100.00" y="366.60" font-size="6.7" textLength="23.47" lengthAdjust="spacingAndGlyphs">NFKBIA</text>
<text x="100.00" y="373.28" font-size="6.7" textLength="26.36" lengthAdjust="spacingAndGlyphs">TNFAIP3</text>
<text x="100.00" y="379.96" font-size="6.7" textLength="18.42" lengthAdjust="spacingAndGlyphs">TNIP1</text>
<text x="100.00" y="386.64" font-size="6.7" textLength="20.95" lengthAdjust="spacingAndGlyphs">CXCL1</text>
<text x="100.00" y="393.32" font-size="6.7" textLength="19.14" lengthAdjust="spacingAndGlyphs">BIRC3</text>
<text x="100.00" y="400.00" font-size="6.7" textLength="23.83" lengthAdjust="spacingAndGlyphs">IFNGR2</text>
<text x="100.00" y="406.68" font-size="6.7" textLength="23.47" lengthAdjust="spacingAndGlyphs">NFKBIB</text>
<text x="100.00" y="413.36" font-size="6.7" textLength="25.29" lengthAdjust="spacingAndGlyphs">DUSP16</text>
<text x="100.00" y="420.04" font-size="6.7" textLength="16.61" lengthAdjust="spacingAndGlyphs">CSF1</text>
<text x="100.00" y="426.72" font-size="6.7" textLength="21.67" lengthAdjust="spacingAndGlyphs">DUSP6</text>
<text x="100.00" y="433.40" font-size="6.7" textLength="19.13" lengthAdjust="spacingAndGlyphs">MDM2</text>
<text x="100.00" y="440.08" font-size="6.7" textLength="14.08" lengthAdjust="spacingAndGlyphs">IRF1</text>
<text x="100.00" y="446.76" font-size="6.7" textLength="26.73" lengthAdjust="spacingAndGlyphs">C19orf48</text>
<text x="219.20" y="333.30" font-size="6.7" textLength="19.14" lengthAdjust="spacingAndGlyphs">BIRC3</text>
<text x="219.20" y="340.00" font-size="6.7" textLength="18.42" lengthAdjust="spacingAndGlyphs">TNIP1</text>
<text x="219.20" y="346.70" font-size="6.7" textLength="23.47" lengthAdjust="spacingAndGlyphs">NFKBIA</text>
<text x="219.20" y="353.40" font-size="6.7" textLength="20.95" lengthAdjust="spacingAndGlyphs">NFKB2</text>
<text x="219.20" y="360.10" font-size="6.7" textLength="23.47" lengthAdjust="spacingAndGlyphs">NFKBIB</text>
<text x="219.20" y="366.80" font-size="6.7" textLength="26.36" lengthAdjust="spacingAndGlyphs">TNFAIP3</text>
<text x="219.20" y="373.50" font-size="6.7" textLength="20.95" lengthAdjust="spacingAndGlyphs">CXCL1</text>
<text x="219.20" y="380.20" font-size="6.7" textLength="16.98" lengthAdjust="spacingAndGlyphs">RELB</text>
<text x="219.20" y="386.90" font-size="6.7" textLength="16.97" lengthAdjust="spacingAndGlyphs">BTG2</text>
<text x="219.20" y="393.60" font-size="6.7" textLength="25.65" lengthAdjust="spacingAndGlyphs">MAP3K8</text>
<text x="219.20" y="400.30" font-size="6.7" textLength="16.61" lengthAdjust="spacingAndGlyphs">CSF1</text>
<text x="219.20" y="407.00" font-size="6.7" textLength="23.83" lengthAdjust="spacingAndGlyphs">IFNGR2</text>
<text x="219.20" y="413.70" font-size="6.7" textLength="26.73" lengthAdjust="spacingAndGlyphs">C19orf48</text>
<text x="219.20" y="420.40" font-size="6.7" textLength="14.08" lengthAdjust="spacingAndGlyphs">IRF1</text>
<text x="219.20" y="427.10" font-size="6.7" textLength="20.95" lengthAdjust="spacingAndGlyphs">CXCL2</text>
<text x="219.20" y="433.80" font-size="6.7" textLength="16.62" lengthAdjust="spacingAndGlyphs">LCN2</text>
<text x="219.20" y="440.50" font-size="6.7" textLength="19.13" lengthAdjust="spacingAndGlyphs">MDM2</text>
<text x="219.20" y="447.20" font-size="6.7" textLength="21.67" lengthAdjust="spacingAndGlyphs">DUSP6</text>
<text x="219.20" y="453.90" font-size="6.7" textLength="25.29" lengthAdjust="spacingAndGlyphs">DUSP16</text>
<text x="7.00" y="302.00" font-size="12" font-weight="bold" fill="#000">I</text>
<text x="258.00" y="301.80" font-size="12" font-weight="bold" fill="#000">J</text>
<text x="57.00" y="313.70" font-size="7.0" text-anchor="middle" textLength="21.50" lengthAdjust="spacingAndGlyphs">3 hours</text>
<text x="177.00" y="313.70" font-size="7.0" text-anchor="middle" textLength="25.10" lengthAdjust="spacingAndGlyphs">24 hours</text>
<text x="301.80" y="313.70" font-size="7.0" text-anchor="middle" textLength="21.50" lengthAdjust="spacingAndGlyphs">3 hours</text>
<text x="404.10" y="313.70" font-size="7.0" text-anchor="middle" textLength="25.20" lengthAdjust="spacingAndGlyphs">24 hours</text>
<text x="37.70" y="323.50" font-size="7.0" text-anchor="middle" textLength="15.20" lengthAdjust="spacingAndGlyphs">-IL1B</text>
<text x="76.70" y="323.50" font-size="7.0" text-anchor="middle" textLength="15.20" lengthAdjust="spacingAndGlyphs">+IL1B</text>
<text x="156.10" y="323.50" font-size="7.0" text-anchor="middle" textLength="15.20" lengthAdjust="spacingAndGlyphs">-IL1B</text>
<text x="197.20" y="323.50" font-size="7.0" text-anchor="middle" textLength="15.20" lengthAdjust="spacingAndGlyphs">+IL1B</text>
<text x="281.50" y="323.50" font-size="7.0" text-anchor="middle" textLength="15.20" lengthAdjust="spacingAndGlyphs">-IL1B</text>
<text x="318.50" y="323.50" font-size="7.0" text-anchor="middle" textLength="15.20" lengthAdjust="spacingAndGlyphs">+IL1B</text>
<text x="384.90" y="323.50" font-size="7.0" text-anchor="middle" textLength="15.20" lengthAdjust="spacingAndGlyphs">-IL1B</text>
<text x="424.50" y="323.50" font-size="7.0" text-anchor="middle" textLength="15.20" lengthAdjust="spacingAndGlyphs">+IL1B</text>
<rect x="261.00" y="328.20" width="8.81" height="2.54" fill="#70b646"/>
<rect x="269.21" y="328.20" width="8.81" height="2.54" fill="#4c9842"/>
<rect x="277.42" y="328.20" width="8.81" height="2.54" fill="#2e6a32"/>
<rect x="285.63" y="328.20" width="8.81" height="2.54" fill="#70b646"/>
<rect x="293.84" y="328.20" width="8.81" height="2.54" fill="#76ba46"/>
<rect x="302.05" y="328.20" width="8.81" height="2.54" fill="#c82618"/>
<rect x="310.26" y="328.20" width="8.81" height="2.54" fill="#d02a1a"/>
<rect x="318.47" y="328.20" width="8.81" height="2.54" fill="#d82c1a"/>
<rect x="326.68" y="328.20" width="8.81" height="2.54" fill="#1e1e14"/>
<rect x="334.89" y="328.20" width="8.21" height="2.54" fill="#3e8a3c"/>
<rect x="261.00" y="330.14" width="8.81" height="2.54" fill="#2e6a32"/>
<rect x="269.21" y="330.14" width="8.81" height="2.54" fill="#76ba46"/>
<rect x="277.42" y="330.14" width="8.81" height="2.54" fill="#3a2414"/>
<rect x="285.63" y="330.14" width="8.81" height="2.54" fill="#76ba46"/>
<rect x="293.84" y="330.14" width="8.81" height="2.54" fill="#6cb444"/>
<rect x="302.05" y="330.14" width="8.81" height="2.54" fill="#d82c1a"/>
<rect x="310.26" y="330.14" width="8.81" height="2.54" fill="#c82618"/>
<rect x="318.47" y="330.14" width="8.81" height="2.54" fill="#d82c1a"/>
<rect x="326.68" y="330.14" width="8.81" height="2.54" fill="#2a2418"/>
<rect x="334.89" y="330.14" width="8.21" height="2.54" fill="#9a5c24"/>
<rect x="261.00" y="332.08" width="8.81" height="2.54" fill="#6cb444"/>
<rect x="269.21" y="332.08" width="8.81" height="2.54" fill="#76ba46"/>
<rect x="277.42" y="332.08" width="8.81" height="2.54" fill="#70b646"/>
<rect x="285.63" y="332.08" width="8.81" height="2.54" fill="#6cb444"/>
<rect x="293.84" y="332.08" width="8.81" height="2.54" fill="#70b646"/>
<rect x="302.05" y="332.08" width="8.81" height="2.54" fill="#d02a1a"/>
<rect x="310.26" y="332.08" width="8.81" height="2.54" fill="#d02a1a"/>
<rect x="318.47" y="332.08" width="8.81" height="2.54" fill="#c82618"/>
<rect x="326.68" y="332.08" width="8.81" height="2.54" fill="#e03420"/>
<rect x="334.89" y="332.08" width="8.21" height="2.54" fill="#7a7030"/>
<rect x="261.00" y="334.02" width="8.81" height="2.54" fill="#1e1e14"/>
<rect x="269.21" y="334.02" width="8.81" height="2.54" fill="#7a7030"/>
<rect x="277.42" y="334.02" width="8.81" height="2.54" fill="#6cb444"/>
<rect x="285.63" y="334.02" width="8.81" height="2.54" fill="#3a2414"/>
<rect x="293.84" y="334.02" width="8.81" height="2.54" fill="#76ba46"/>
<rect x="302.05" y="334.02" width="8.81" height="2.54" fill="#d02a1a"/>
<rect x="310.26" y="334.02" width="8.81" height="2.54" fill="#c82618"/>
<rect x="318.47" y="334.02" width="8.81" height="2.54" fill="#d02a1a"/>
<rect x="326.68" y="334.02" width="8.81" height="2.54" fill="#d02a1a"/>
<rect x="334.89" y="334.02" width="8.21" height="2.54" fill="#6cb444"/>
<rect x="261.00" y="335.96" width="8.81" height="2.54" fill="#1e1e14"/>
<rect x="269.21" y="335.96" width="8.81" height="2.54" fill="#c82618"/>
<rect x="277.42" y="335.96" width="8.81" height="2.54" fill="#76ba46"/>
<rect x="285.63" y="335.96" width="8.81" height="2.54" fill="#80c04a"/>
<rect x="293.84" y="335.96" width="8.81" height="2.54" fill="#3e8a3c"/>
<rect x="302.05" y="335.96" width="8.81" height="2.54" fill="#8a1a12"/>
<rect x="310.26" y="335.96" width="8.81" height="2.54" fill="#d82c1a"/>
<rect x="318.47" y="335.96" width="8.81" height="2.54" fill="#d82c1a"/>
<rect x="326.68" y="335.96" width="8.81" height="2.54" fill="#1e1e14"/>
<rect x="334.89" y="335.96" width="8.21" height="2.54" fill="#243018"/>
<rect x="261.00" y="337.90" width="8.81" height="2.54" fill="#1e1e14"/>
<rect x="269.21" y="337.90" width="8.81" height="2.54" fill="#d02a1a"/>
<rect x="277.42" y="337.90" width="8.81" height="2.54" fill="#70b646"/>
<rect x="285.63" y="337.90" width="8.81" height="2.54" fill="#2e6a32"/>
<rect x="293.84" y="337.90" width="8.81" height="2.54" fill="#7a7030"/>
<rect x="302.05" y="337.90" width="8.81" height="2.54" fill="#e03420"/>
<rect x="310.26" y="337.90" width="8.81" height="2.54" fill="#a01c14"/>
<rect x="318.47" y="337.90" width="8.81" height="2.54" fill="#d82c1a"/>
<rect x="326.68" y="337.90" width="8.81" height="2.54" fill="#d82c1a"/>
<rect x="334.89" y="337.90" width="8.21" height="2.54" fill="#d82c1a"/>
<rect x="261.00" y="339.83" width="8.81" height="2.54" fill="#6e1810"/>
<rect x="269.21" y="339.83" width="8.81" height="2.54" fill="#9a5c24"/>
<rect x="277.42" y="339.83" width="8.81" height="2.54" fill="#4c9842"/>
<rect x="285.63" y="339.83" width="8.81" height="2.54" fill="#76ba46"/>
<rect x="293.84" y="339.83" width="8.81" height="2.54" fill="#70b646"/>
<rect x="302.05" y="339.83" width="8.81" height="2.54" fill="#d82c1a"/>
<rect x="310.26" y="339.83" width="8.81" height="2.54" fill="#e03420"/>
<rect x="318.47" y="339.83" width="8.81" height="2.54" fill="#c82618"/>
<rect x="326.68" y="339.83" width="8.81" height="2.54" fill="#3e8a3c"/>
<rect x="334.89" y="339.83" width="8.21" height="2.54" fill="#a01c14"/>
<rect x="261.00" y="341.77" width="8.81" height="2.54" fill="#e03420"/>
<rect x="269.21" y="341.77" width="8.81" height="2.54" fill="#1e1e14"/>
<rect x="277.42" y="341.77" width="8.81" height="2.54" fill="#70b646"/>
<rect x="285.63" y="341.77" width="8.81" height="2.54" fill="#80c04a"/>
<rect x="293.84" y="341.77" width="8.81" height="2.54" fill="#d02a1a"/>
<rect x="302.05" y="341.77" width="8.81" height="2.54" fill="#c82618"/>
<rect x="310.26" y="341.77" width="8.81" height="2.54" fill="#c82618"/>
<rect x="318.47" y="341.77" width="8.81" height="2.54" fill="#c82618"/>
<rect x="326.68" y="341.77" width="8.81" height="2.54" fill="#a01c14"/>
<rect x="334.89" y="341.77" width="8.21" height="2.54" fill="#e03420"/>
<rect x="261.00" y="343.71" width="8.81" height="2.54" fill="#e03420"/>
<rect x="269.21" y="343.71" width="8.81" height="2.54" fill="#2e6a32"/>
<rect x="277.42" y="343.71" width="8.81" height="2.54" fill="#8a6a2c"/>
<rect x="285.63" y="343.71" width="8.81" height="2.54" fill="#6cb444"/>
<rect x="293.84" y="343.71" width="8.81" height="2.54" fill="#c82618"/>
<rect x="302.05" y="343.71" width="8.81" height="2.54" fill="#2e6a32"/>
<rect x="310.26" y="343.71" width="8.81" height="2.54" fill="#d82c1a"/>
<rect x="318.47" y="343.71" width="8.81" height="2.54" fill="#e03420"/>
<rect x="326.68" y="343.71" width="8.81" height="2.54" fill="#d82c1a"/>
<rect x="334.89" y="343.71" width="8.21" height="2.54" fill="#d02a1a"/>
<rect x="261.00" y="345.65" width="8.81" height="2.54" fill="#a01c14"/>
<rect x="269.21" y="345.65" width="8.81" height="2.54" fill="#2e6a32"/>
<rect x="277.42" y="345.65" width="8.81" height="2.54" fill="#3a2414"/>
<rect x="285.63" y="345.65" width="8.81" height="2.54" fill="#4c9842"/>
<rect x="293.84" y="345.65" width="8.81" height="2.54" fill="#d82c1a"/>
<rect x="302.05" y="345.65" width="8.81" height="2.54" fill="#4c9842"/>
<rect x="310.26" y="345.65" width="8.81" height="2.54" fill="#e03420"/>
<rect x="318.47" y="345.65" width="8.81" height="2.54" fill="#6e1810"/>
<rect x="326.68" y="345.65" width="8.81" height="2.54" fill="#8a1a12"/>
<rect x="334.89" y="345.65" width="8.21" height="2.54" fill="#d02a1a"/>
<rect x="261.00" y="347.59" width="8.81" height="2.54" fill="#7a7030"/>
<rect x="269.21" y="347.59" width="8.81" height="2.54" fill="#6cb444"/>
<rect x="277.42" y="347.59" width="8.81" height="2.54" fill="#8a1a12"/>
<rect x="285.63" y="347.59" width="8.81" height="2.54" fill="#2e6a32"/>
<rect x="293.84" y="347.59" width="8.81" height="2.54" fill="#9a5c24"/>
<rect x="302.05" y="347.59" width="8.81" height="2.54" fill="#a01c14"/>
<rect x="310.26" y="347.59" width="8.81" height="2.54" fill="#d82c1a"/>
<rect x="318.47" y="347.59" width="8.81" height="2.54" fill="#a01c14"/>
<rect x="326.68" y="347.59" width="8.81" height="2.54" fill="#3e8a3c"/>
<rect x="334.89" y="347.59" width="8.21" height="2.54" fill="#4c9842"/>
<rect x="261.00" y="349.53" width="8.81" height="2.54" fill="#243018"/>
<rect x="269.21" y="349.53" width="8.81" height="2.54" fill="#80c04a"/>
<rect x="277.42" y="349.53" width="8.81" height="2.54" fill="#2a2418"/>
<rect x="285.63" y="349.53" width="8.81" height="2.54" fill="#80c04a"/>
<rect x="293.84" y="349.53" width="8.81" height="2.54" fill="#243018"/>
<rect x="302.05" y="349.53" width="8.81" height="2.54" fill="#c82618"/>
<rect x="310.26" y="349.53" width="8.81" height="2.54" fill="#d82c1a"/>
<rect x="318.47" y="349.53" width="8.81" height="2.54" fill="#e03420"/>
<rect x="326.68" y="349.53" width="8.81" height="2.54" fill="#4c9842"/>
<rect x="334.89" y="349.53" width="8.21" height="2.54" fill="#2e6a32"/>
<rect x="261.00" y="351.47" width="8.81" height="2.54" fill="#2e6a32"/>
<rect x="269.21" y="351.47" width="8.81" height="2.54" fill="#2e6a32"/>
<rect x="277.42" y="351.47" width="8.81" height="2.54" fill="#d02a1a"/>
<rect x="285.63" y="351.47" width="8.81" height="2.54" fill="#76ba46"/>
<rect x="293.84" y="351.47" width="8.81" height="2.54" fill="#76ba46"/>
<rect x="302.05" y="351.47" width="8.81" height="2.54" fill="#d82c1a"/>
<rect x="310.26" y="351.47" width="8.81" height="2.54" fill="#d82c1a"/>
<rect x="318.47" y="351.47" width="8.81" height="2.54" fill="#9a5c24"/>
<rect x="326.68" y="351.47" width="8.81" height="2.54" fill="#1e1e14"/>
<rect x="334.89" y="351.47" width="8.21" height="2.54" fill="#243018"/>
<rect x="261.00" y="353.41" width="8.81" height="2.54" fill="#70b646"/>
<rect x="269.21" y="353.41" width="8.81" height="2.54" fill="#1e1e14"/>
<rect x="277.42" y="353.41" width="8.81" height="2.54" fill="#8a6a2c"/>
<rect x="285.63" y="353.41" width="8.81" height="2.54" fill="#80c04a"/>
<rect x="293.84" y="353.41" width="8.81" height="2.54" fill="#70b646"/>
<rect x="302.05" y="353.41" width="8.81" height="2.54" fill="#d82c1a"/>
<rect x="310.26" y="353.41" width="8.81" height="2.54" fill="#d02a1a"/>
<rect x="318.47" y="353.41" width="8.81" height="2.54" fill="#4c9842"/>
<rect x="326.68" y="353.41" width="8.81" height="2.54" fill="#1e1e14"/>
<rect x="334.89" y="353.41" width="8.21" height="2.54" fill="#1e1e14"/>
<rect x="261.00" y="355.35" width="8.81" height="2.54" fill="#6e1810"/>
<rect x="269.21" y="355.35" width="8.81" height="2.54" fill="#3a2414"/>
<rect x="277.42" y="355.35" width="8.81" height="2.54" fill="#9a5c24"/>
<rect x="285.63" y="355.35" width="8.81" height="2.54" fill="#6cb444"/>
<rect x="293.84" y="355.35" width="8.81" height="2.54" fill="#1e1e14"/>
<rect x="302.05" y="355.35" width="8.81" height="2.54" fill="#c82618"/>
<rect x="310.26" y="355.35" width="8.81" height="2.54" fill="#c82618"/>
<rect x="318.47" y="355.35" width="8.81" height="2.54" fill="#d02a1a"/>
<rect x="326.68" y="355.35" width="8.81" height="2.54" fill="#d82c1a"/>
<rect x="334.89" y="355.35" width="8.21" height="2.54" fill="#80c04a"/>
<rect x="261.00" y="357.29" width="8.81" height="2.54" fill="#a01c14"/>
<rect x="269.21" y="357.29" width="8.81" height="2.54" fill="#3e8a3c"/>
<rect x="277.42" y="357.29" width="8.81" height="2.54" fill="#a01c14"/>
<rect x="285.63" y="357.29" width="8.81" height="2.54" fill="#76ba46"/>
<rect x="293.84" y="357.29" width="8.81" height="2.54" fill="#7a7030"/>
<rect x="302.05" y="357.29" width="8.81" height="2.54" fill="#d02a1a"/>
<rect x="310.26" y="357.29" width="8.81" height="2.54" fill="#d02a1a"/>
<rect x="318.47" y="357.29" width="8.81" height="2.54" fill="#a01c14"/>
<rect x="326.68" y="357.29" width="8.81" height="2.54" fill="#c82618"/>
<rect x="334.89" y="357.29" width="8.21" height="2.54" fill="#70b646"/>
<rect x="261.00" y="359.22" width="8.81" height="2.54" fill="#70b646"/>
<rect x="269.21" y="359.22" width="8.81" height="2.54" fill="#2a2418"/>
<rect x="277.42" y="359.22" width="8.81" height="2.54" fill="#c82618"/>
<rect x="285.63" y="359.22" width="8.81" height="2.54" fill="#d02a1a"/>
<rect x="293.84" y="359.22" width="8.81" height="2.54" fill="#8a6a2c"/>
<rect x="302.05" y="359.22" width="8.81" height="2.54" fill="#243018"/>
<rect x="310.26" y="359.22" width="8.81" height="2.54" fill="#e03420"/>
<rect x="318.47" y="359.22" width="8.81" height="2.54" fill="#d82c1a"/>
<rect x="326.68" y="359.22" width="8.81" height="2.54" fill="#8a1a12"/>
<rect x="334.89" y="359.22" width="8.21" height="2.54" fill="#e03420"/>
<rect x="261.00" y="361.16" width="8.81" height="2.54" fill="#3e8a3c"/>
<rect x="269.21" y="361.16" width="8.81" height="2.54" fill="#9a5c24"/>
<rect x="277.42" y="361.16" width="8.81" height="2.54" fill="#e03420"/>
<rect x="285.63" y="361.16" width="8.81" height="2.54" fill="#2a2418"/>
<rect x="293.84" y="361.16" width="8.81" height="2.54" fill="#2e6a32"/>
<rect x="302.05" y="361.16" width="8.81" height="2.54" fill="#243018"/>
<rect x="310.26" y="361.16" width="8.81" height="2.54" fill="#c82618"/>
<rect x="318.47" y="361.16" width="8.81" height="2.54" fill="#d02a1a"/>
<rect x="326.68" y="361.16" width="8.81" height="2.54" fill="#6e1810"/>
<rect x="334.89" y="361.16" width="8.21" height="2.54" fill="#d02a1a"/>
<rect x="261.00" y="363.10" width="8.81" height="2.54" fill="#76ba46"/>
<rect x="269.21" y="363.10" width="8.81" height="2.54" fill="#a01c14"/>
<rect x="277.42" y="363.10" width="8.81" height="2.54" fill="#e03420"/>
<rect x="285.63" y="363.10" width="8.81" height="2.54" fill="#d82c1a"/>
<rect x="293.84" y="363.10" width="8.81" height="2.54" fill="#a01c14"/>
<rect x="302.05" y="363.10" width="8.81" height="2.54" fill="#d82c1a"/>
<rect x="310.26" y="363.10" width="8.81" height="2.54" fill="#8a1a12"/>
<rect x="318.47" y="363.10" width="8.81" height="2.54" fill="#c82618"/>
<rect x="326.68" y="363.10" width="8.81" height="2.54" fill="#c82618"/>
<rect x="334.89" y="363.10" width="8.21" height="2.54" fill="#c82618"/>
<rect x="261.00" y="365.04" width="8.81" height="2.54" fill="#80c04a"/>
<rect x="269.21" y="365.04" width="8.81" height="2.54" fill="#9a5c24"/>
<rect x="277.42" y="365.04" width="8.81" height="2.54" fill="#a01c14"/>
<rect x="285.63" y="365.04" width="8.81" height="2.54" fill="#d82c1a"/>
<rect x="293.84" y="365.04" width="8.81" height="2.54" fill="#243018"/>
<rect x="302.05" y="365.04" width="8.81" height="2.54" fill="#70b646"/>
<rect x="310.26" y="365.04" width="8.81" height="2.54" fill="#8a1a12"/>
<rect x="318.47" y="365.04" width="8.81" height="2.54" fill="#243018"/>
<rect x="326.68" y="365.04" width="8.81" height="2.54" fill="#d02a1a"/>
<rect x="334.89" y="365.04" width="8.21" height="2.54" fill="#70b646"/>
<rect x="261.00" y="366.98" width="8.81" height="2.54" fill="#8a6a2c"/>
<rect x="269.21" y="366.98" width="8.81" height="2.54" fill="#70b646"/>
<rect x="277.42" y="366.98" width="8.81" height="2.54" fill="#2a2418"/>
<rect x="285.63" y="366.98" width="8.81" height="2.54" fill="#e03420"/>
<rect x="293.84" y="366.98" width="8.81" height="2.54" fill="#c82618"/>
<rect x="302.05" y="366.98" width="8.81" height="2.54" fill="#70b646"/>
<rect x="310.26" y="366.98" width="8.81" height="2.54" fill="#4c9842"/>
<rect x="318.47" y="366.98" width="8.81" height="2.54" fill="#a01c14"/>
<rect x="326.68" y="366.98" width="8.81" height="2.54" fill="#e03420"/>
<rect x="334.89" y="366.98" width="8.21" height="2.54" fill="#80c04a"/>
<rect x="261.00" y="368.92" width="8.81" height="2.54" fill="#6cb444"/>
<rect x="269.21" y="368.92" width="8.81" height="2.54" fill="#4c9842"/>
<rect x="277.42" y="368.92" width="8.81" height="2.54" fill="#2e6a32"/>
<rect x="285.63" y="368.92" width="8.81" height="2.54" fill="#a01c14"/>
<rect x="293.84" y="368.92" width="8.81" height="2.54" fill="#e03420"/>
<rect x="302.05" y="368.92" width="8.81" height="2.54" fill="#76ba46"/>
<rect x="310.26" y="368.92" width="8.81" height="2.54" fill="#2a2418"/>
<rect x="318.47" y="368.92" width="8.81" height="2.54" fill="#d02a1a"/>
<rect x="326.68" y="368.92" width="8.81" height="2.54" fill="#c82618"/>
<rect x="334.89" y="368.92" width="8.21" height="2.54" fill="#70b646"/>
<rect x="261.00" y="370.86" width="8.81" height="2.54" fill="#a01c14"/>
<rect x="269.21" y="370.86" width="8.81" height="2.54" fill="#d02a1a"/>
<rect x="277.42" y="370.86" width="8.81" height="2.54" fill="#3e8a3c"/>
<rect x="285.63" y="370.86" width="8.81" height="2.54" fill="#80c04a"/>
<rect x="293.84" y="370.86" width="8.81" height="2.54" fill="#4c9842"/>
<rect x="302.05" y="370.86" width="8.81" height="2.54" fill="#2a2418"/>
<rect x="310.26" y="370.86" width="8.81" height="2.54" fill="#2a2418"/>
<rect x="318.47" y="370.86" width="8.81" height="2.54" fill="#c82618"/>
<rect x="326.68" y="370.86" width="8.81" height="2.54" fill="#a01c14"/>
<rect x="334.89" y="370.86" width="8.21" height="2.54" fill="#2a2418"/>
<rect x="261.00" y="372.80" width="8.81" height="2.54" fill="#e03420"/>
<rect x="269.21" y="372.80" width="8.81" height="2.54" fill="#e03420"/>
<rect x="277.42" y="372.80" width="8.81" height="2.54" fill="#2a2418"/>
<rect x="285.63" y="372.80" width="8.81" height="2.54" fill="#80c04a"/>
<rect x="293.84" y="372.80" width="8.81" height="2.54" fill="#3e8a3c"/>
<rect x="302.05" y="372.80" width="8.81" height="2.54" fill="#1e1e14"/>
<rect x="310.26" y="372.80" width="8.81" height="2.54" fill="#a01c14"/>
<rect x="318.47" y="372.80" width="8.81" height="2.54" fill="#c82618"/>
<rect x="326.68" y="372.80" width="8.81" height="2.54" fill="#8a1a12"/>
<rect x="334.89" y="372.80" width="8.21" height="2.54" fill="#6cb444"/>
<rect x="261.00" y="374.74" width="8.81" height="2.54" fill="#8a1a12"/>
<rect x="269.21" y="374.74" width="8.81" height="2.54" fill="#d82c1a"/>
<rect x="277.42" y="374.74" width="8.81" height="2.54" fill="#d82c1a"/>
<rect x="285.63" y="374.74" width="8.81" height="2.54" fill="#4c9842"/>
<rect x="293.84" y="374.74" width="8.81" height="2.54" fill="#d82c1a"/>
<rect x="302.05" y="374.74" width="8.81" height="2.54" fill="#76ba46"/>
<rect x="310.26" y="374.74" width="8.81" height="2.54" fill="#d02a1a"/>
<rect x="318.47" y="374.74" width="8.81" height="2.54" fill="#8a1a12"/>
<rect x="326.68" y="374.74" width="8.81" height="2.54" fill="#3a2414"/>
<rect x="334.89" y="374.74" width="8.21" height="2.54" fill="#e03420"/>
<rect x="261.00" y="376.68" width="8.81" height="2.54" fill="#d02a1a"/>
<rect x="269.21" y="376.68" width="8.81" height="2.54" fill="#d82c1a"/>
<rect x="277.42" y="376.68" width="8.81" height="2.54" fill="#243018"/>
<rect x="285.63" y="376.68" width="8.81" height="2.54" fill="#3e8a3c"/>
<rect x="293.84" y="376.68" width="8.81" height="2.54" fill="#a01c14"/>
<rect x="302.05" y="376.68" width="8.81" height="2.54" fill="#7a7030"/>
<rect x="310.26" y="376.68" width="8.81" height="2.54" fill="#2a2418"/>
<rect x="318.47" y="376.68" width="8.81" height="2.54" fill="#c82618"/>
<rect x="326.68" y="376.68" width="8.81" height="2.54" fill="#1e1e14"/>
<rect x="334.89" y="376.68" width="8.21" height="2.54" fill="#d02a1a"/>
<rect x="261.00" y="378.62" width="8.81" height="2.54" fill="#7a7030"/>
<rect x="269.21" y="378.62" width="8.81" height="2.54" fill="#a01c14"/>
<rect x="277.42" y="378.62" width="8.81" height="2.54" fill="#3e8a3c"/>
<rect x="285.63" y="378.62" width="8.81" height="2.54" fill="#a01c14"/>
<rect x="293.84" y="378.62" width="8.81" height="2.54" fill="#a01c14"/>
<rect x="302.05" y="378.62" width="8.81" height="2.54" fill="#2a2418"/>
<rect x="310.26" y="378.62" width="8.81" height="2.54" fill="#3a2414"/>
<rect x="318.47" y="378.62" width="8.81" height="2.54" fill="#c82618"/>
<rect x="326.68" y="378.62" width="8.81" height="2.54" fill="#d02a1a"/>
<rect x="334.89" y="378.62" width="8.21" height="2.54" fill="#80c04a"/>
<rect x="261.00" y="380.55" width="8.81" height="2.54" fill="#2e6a32"/>
<rect x="269.21" y="380.55" width="8.81" height="2.54" fill="#243018"/>
<rect x="277.42" y="380.55" width="8.81" height="2.54" fill="#76ba46"/>
<rect x="285.63" y="380.55" width="8.81" height="2.54" fill="#d82c1a"/>
<rect x="293.84" y="380.55" width="8.81" height="2.54" fill="#c82618"/>
<rect x="302.05" y="380.55" width="8.81" height="2.54" fill="#3e8a3c"/>
<rect x="310.26" y="380.55" width="8.81" height="2.54" fill="#1e1e14"/>
<rect x="318.47" y="380.55" width="8.81" height="2.54" fill="#3e8a3c"/>
<rect x="326.68" y="380.55" width="8.81" height="2.54" fill="#c82618"/>
<rect x="334.89" y="380.55" width="8.21" height="2.54" fill="#6cb444"/>
<rect x="261.00" y="382.49" width="8.81" height="2.54" fill="#6cb444"/>
<rect x="269.21" y="382.49" width="8.81" height="2.54" fill="#8a1a12"/>
<rect x="277.42" y="382.49" width="8.81" height="2.54" fill="#6cb444"/>
<rect x="285.63" y="382.49" width="8.81" height="2.54" fill="#a01c14"/>
<rect x="293.84" y="382.49" width="8.81" height="2.54" fill="#e03420"/>
<rect x="302.05" y="382.49" width="8.81" height="2.54" fill="#70b646"/>
<rect x="310.26" y="382.49" width="8.81" height="2.54" fill="#e03420"/>
<rect x="318.47" y="382.49" width="8.81" height="2.54" fill="#8a6a2c"/>
<rect x="326.68" y="382.49" width="8.81" height="2.54" fill="#c82618"/>
<rect x="334.89" y="382.49" width="8.21" height="2.54" fill="#70b646"/>
<rect x="261.00" y="384.43" width="8.81" height="2.54" fill="#3e8a3c"/>
<rect x="269.21" y="384.43" width="8.81" height="2.54" fill="#3a2414"/>
<rect x="277.42" y="384.43" width="8.81" height="2.54" fill="#4c9842"/>
<rect x="285.63" y="384.43" width="8.81" height="2.54" fill="#d82c1a"/>
<rect x="293.84" y="384.43" width="8.81" height="2.54" fill="#d82c1a"/>
<rect x="302.05" y="384.43" width="8.81" height="2.54" fill="#70b646"/>
<rect x="310.26" y="384.43" width="8.81" height="2.54" fill="#e03420"/>
<rect x="318.47" y="384.43" width="8.81" height="2.54" fill="#d82c1a"/>
<rect x="326.68" y="384.43" width="8.81" height="2.54" fill="#6e1810"/>
<rect x="334.89" y="384.43" width="8.21" height="2.54" fill="#8a1a12"/>
<rect x="261.00" y="386.37" width="8.81" height="2.54" fill="#7a7030"/>
<rect x="269.21" y="386.37" width="8.81" height="2.54" fill="#70b646"/>
<rect x="277.42" y="386.37" width="8.81" height="2.54" fill="#d02a1a"/>
<rect x="285.63" y="386.37" width="8.81" height="2.54" fill="#8a1a12"/>
<rect x="293.84" y="386.37" width="8.81" height="2.54" fill="#243018"/>
<rect x="302.05" y="386.37" width="8.81" height="2.54" fill="#70b646"/>
<rect x="310.26" y="386.37" width="8.81" height="2.54" fill="#d82c1a"/>
<rect x="318.47" y="386.37" width="8.81" height="2.54" fill="#d02a1a"/>
<rect x="326.68" y="386.37" width="8.81" height="2.54" fill="#c82618"/>
<rect x="334.89" y="386.37" width="8.21" height="2.54" fill="#8a6a2c"/>
<rect x="261.00" y="388.31" width="8.81" height="2.54" fill="#9a5c24"/>
<rect x="269.21" y="388.31" width="8.81" height="2.54" fill="#70b646"/>
<rect x="277.42" y="388.31" width="8.81" height="2.54" fill="#d02a1a"/>
<rect x="285.63" y="388.31" width="8.81" height="2.54" fill="#8a1a12"/>
<rect x="293.84" y="388.31" width="8.81" height="2.54" fill="#6e1810"/>
<rect x="302.05" y="388.31" width="8.81" height="2.54" fill="#80c04a"/>
<rect x="310.26" y="388.31" width="8.81" height="2.54" fill="#6e1810"/>
<rect x="318.47" y="388.31" width="8.81" height="2.54" fill="#80c04a"/>
<rect x="326.68" y="388.31" width="8.81" height="2.54" fill="#243018"/>
<rect x="334.89" y="388.31" width="8.21" height="2.54" fill="#e03420"/>
<rect x="261.00" y="390.25" width="8.81" height="2.54" fill="#2e6a32"/>
<rect x="269.21" y="390.25" width="8.81" height="2.54" fill="#3a2414"/>
<rect x="277.42" y="390.25" width="8.81" height="2.54" fill="#d02a1a"/>
<rect x="285.63" y="390.25" width="8.81" height="2.54" fill="#d02a1a"/>
<rect x="293.84" y="390.25" width="8.81" height="2.54" fill="#d02a1a"/>
<rect x="302.05" y="390.25" width="8.81" height="2.54" fill="#70b646"/>
<rect x="310.26" y="390.25" width="8.81" height="2.54" fill="#e03420"/>
<rect x="318.47" y="390.25" width="8.81" height="2.54" fill="#3a2414"/>
<rect x="326.68" y="390.25" width="8.81" height="2.54" fill="#1e1e14"/>
<rect x="334.89" y="390.25" width="8.21" height="2.54" fill="#d82c1a"/>
<rect x="261.00" y="392.19" width="8.81" height="2.54" fill="#80c04a"/>
<rect x="269.21" y="392.19" width="8.81" height="2.54" fill="#2a2418"/>
<rect x="277.42" y="392.19" width="8.81" height="2.54" fill="#a01c14"/>
<rect x="285.63" y="392.19" width="8.81" height="2.54" fill="#d02a1a"/>
<rect x="293.84" y="392.19" width="8.81" height="2.54" fill="#4c9842"/>
<rect x="302.05" y="392.19" width="8.81" height="2.54" fill="#6cb444"/>
<rect x="310.26" y="392.19" width="8.81" height="2.54" fill="#c82618"/>
<rect x="318.47" y="392.19" width="8.81" height="2.54" fill="#4c9842"/>
<rect x="326.68" y="392.19" width="8.81" height="2.54" fill="#76ba46"/>
<rect x="334.89" y="392.19" width="8.21" height="2.54" fill="#70b646"/>
<rect x="261.00" y="394.13" width="8.81" height="2.54" fill="#80c04a"/>
<rect x="269.21" y="394.13" width="8.81" height="2.54" fill="#2a2418"/>
<rect x="277.42" y="394.13" width="8.81" height="2.54" fill="#6cb444"/>
<rect x="285.63" y="394.13" width="8.81" height="2.54" fill="#2a2418"/>
<rect x="293.84" y="394.13" width="8.81" height="2.54" fill="#243018"/>
<rect x="302.05" y="394.13" width="8.81" height="2.54" fill="#70b646"/>
<rect x="310.26" y="394.13" width="8.81" height="2.54" fill="#8a1a12"/>
<rect x="318.47" y="394.13" width="8.81" height="2.54" fill="#d82c1a"/>
<rect x="326.68" y="394.13" width="8.81" height="2.54" fill="#70b646"/>
<rect x="334.89" y="394.13" width="8.21" height="2.54" fill="#76ba46"/>
<rect x="261.00" y="396.07" width="8.81" height="2.54" fill="#c82618"/>
<rect x="269.21" y="396.07" width="8.81" height="2.54" fill="#e03420"/>
<rect x="277.42" y="396.07" width="8.81" height="2.54" fill="#1e1e14"/>
<rect x="285.63" y="396.07" width="8.81" height="2.54" fill="#70b646"/>
<rect x="293.84" y="396.07" width="8.81" height="2.54" fill="#2a2418"/>
<rect x="302.05" y="396.07" width="8.81" height="2.54" fill="#80c04a"/>
<rect x="310.26" y="396.07" width="8.81" height="2.54" fill="#2a2418"/>
<rect x="318.47" y="396.07" width="8.81" height="2.54" fill="#6e1810"/>
<rect x="326.68" y="396.07" width="8.81" height="2.54" fill="#6cb444"/>
<rect x="334.89" y="396.07" width="8.21" height="2.54" fill="#2e6a32"/>
<rect x="261.00" y="398.01" width="8.81" height="2.54" fill="#d02a1a"/>
<rect x="269.21" y="398.01" width="8.81" height="2.54" fill="#c82618"/>
<rect x="277.42" y="398.01" width="8.81" height="2.54" fill="#80c04a"/>
<rect x="285.63" y="398.01" width="8.81" height="2.54" fill="#243018"/>
<rect x="293.84" y="398.01" width="8.81" height="2.54" fill="#8a1a12"/>
<rect x="302.05" y="398.01" width="8.81" height="2.54" fill="#4c9842"/>
<rect x="310.26" y="398.01" width="8.81" height="2.54" fill="#e03420"/>
<rect x="318.47" y="398.01" width="8.81" height="2.54" fill="#70b646"/>
<rect x="326.68" y="398.01" width="8.81" height="2.54" fill="#2a2418"/>
<rect x="334.89" y="398.01" width="8.21" height="2.54" fill="#3e8a3c"/>
<rect x="261.00" y="399.95" width="8.81" height="2.54" fill="#1e1e14"/>
<rect x="269.21" y="399.95" width="8.81" height="2.54" fill="#d82c1a"/>
<rect x="277.42" y="399.95" width="8.81" height="2.54" fill="#e03420"/>
<rect x="285.63" y="399.95" width="8.81" height="2.54" fill="#70b646"/>
<rect x="293.84" y="399.95" width="8.81" height="2.54" fill="#c82618"/>
<rect x="302.05" y="399.95" width="8.81" height="2.54" fill="#80c04a"/>
<rect x="310.26" y="399.95" width="8.81" height="2.54" fill="#3e8a3c"/>
<rect x="318.47" y="399.95" width="8.81" height="2.54" fill="#80c04a"/>
<rect x="326.68" y="399.95" width="8.81" height="2.54" fill="#2a2418"/>
<rect x="334.89" y="399.95" width="8.21" height="2.54" fill="#3a2414"/>
<rect x="261.00" y="401.88" width="8.81" height="2.54" fill="#1e1e14"/>
<rect x="269.21" y="401.88" width="8.81" height="2.54" fill="#76ba46"/>
<rect x="277.42" y="401.88" width="8.81" height="2.54" fill="#2a2418"/>
<rect x="285.63" y="401.88" width="8.81" height="2.54" fill="#e03420"/>
<rect x="293.84" y="401.88" width="8.81" height="2.54" fill="#d82c1a"/>
<rect x="302.05" y="401.88" width="8.81" height="2.54" fill="#8a6a2c"/>
<rect x="310.26" y="401.88" width="8.81" height="2.54" fill="#76ba46"/>
<rect x="318.47" y="401.88" width="8.81" height="2.54" fill="#2a2418"/>
<rect x="326.68" y="401.88" width="8.81" height="2.54" fill="#6e1810"/>
<rect x="334.89" y="401.88" width="8.21" height="2.54" fill="#243018"/>
<rect x="261.00" y="403.82" width="8.81" height="2.54" fill="#7a7030"/>
<rect x="269.21" y="403.82" width="8.81" height="2.54" fill="#70b646"/>
<rect x="277.42" y="403.82" width="8.81" height="2.54" fill="#2e6a32"/>
<rect x="285.63" y="403.82" width="8.81" height="2.54" fill="#d02a1a"/>
<rect x="293.84" y="403.82" width="8.81" height="2.54" fill="#a01c14"/>
<rect x="302.05" y="403.82" width="8.81" height="2.54" fill="#243018"/>
<rect x="310.26" y="403.82" width="8.81" height="2.54" fill="#6cb444"/>
<rect x="318.47" y="403.82" width="8.81" height="2.54" fill="#70b646"/>
<rect x="326.68" y="403.82" width="8.81" height="2.54" fill="#2a2418"/>
<rect x="334.89" y="403.82" width="8.21" height="2.54" fill="#a01c14"/>
<rect x="261.00" y="405.76" width="8.81" height="2.54" fill="#6e1810"/>
<rect x="269.21" y="405.76" width="8.81" height="2.54" fill="#c82618"/>
<rect x="277.42" y="405.76" width="8.81" height="2.54" fill="#a01c14"/>
<rect x="285.63" y="405.76" width="8.81" height="2.54" fill="#1e1e14"/>
<rect x="293.84" y="405.76" width="8.81" height="2.54" fill="#243018"/>
<rect x="302.05" y="405.76" width="8.81" height="2.54" fill="#3a2414"/>
<rect x="310.26" y="405.76" width="8.81" height="2.54" fill="#1e1e14"/>
<rect x="318.47" y="405.76" width="8.81" height="2.54" fill="#70b646"/>
<rect x="326.68" y="405.76" width="8.81" height="2.54" fill="#8a1a12"/>
<rect x="334.89" y="405.76" width="8.21" height="2.54" fill="#e03420"/>
<rect x="261.00" y="407.70" width="8.81" height="2.54" fill="#a01c14"/>
<rect x="269.21" y="407.70" width="8.81" height="2.54" fill="#6e1810"/>
<rect x="277.42" y="407.70" width="8.81" height="2.54" fill="#c82618"/>
<rect x="285.63" y="407.70" width="8.81" height="2.54" fill="#8a6a2c"/>
<rect x="293.84" y="407.70" width="8.81" height="2.54" fill="#a01c14"/>
<rect x="302.05" y="407.70" width="8.81" height="2.54" fill="#70b646"/>
<rect x="310.26" y="407.70" width="8.81" height="2.54" fill="#2a2418"/>
<rect x="318.47" y="407.70" width="8.81" height="2.54" fill="#2e6a32"/>
<rect x="326.68" y="407.70" width="8.81" height="2.54" fill="#2a2418"/>
<rect x="334.89" y="407.70" width="8.21" height="2.54" fill="#c82618"/>
<rect x="261.00" y="409.64" width="8.81" height="2.54" fill="#9a5c24"/>
<rect x="269.21" y="409.64" width="8.81" height="2.54" fill="#7a7030"/>
<rect x="277.42" y="409.64" width="8.81" height="2.54" fill="#d82c1a"/>
<rect x="285.63" y="409.64" width="8.81" height="2.54" fill="#d02a1a"/>
<rect x="293.84" y="409.64" width="8.81" height="2.54" fill="#d02a1a"/>
<rect x="302.05" y="409.64" width="8.81" height="2.54" fill="#4c9842"/>
<rect x="310.26" y="409.64" width="8.81" height="2.54" fill="#6cb444"/>
<rect x="318.47" y="409.64" width="8.81" height="2.54" fill="#243018"/>
<rect x="326.68" y="409.64" width="8.81" height="2.54" fill="#243018"/>
<rect x="334.89" y="409.64" width="8.21" height="2.54" fill="#c82618"/>
<rect x="261.00" y="411.58" width="8.81" height="2.54" fill="#76ba46"/>
<rect x="269.21" y="411.58" width="8.81" height="2.54" fill="#e03420"/>
<rect x="277.42" y="411.58" width="8.81" height="2.54" fill="#e03420"/>
<rect x="285.63" y="411.58" width="8.81" height="2.54" fill="#d02a1a"/>
<rect x="293.84" y="411.58" width="8.81" height="2.54" fill="#d02a1a"/>
<rect x="302.05" y="411.58" width="8.81" height="2.54" fill="#4c9842"/>
<rect x="310.26" y="411.58" width="8.81" height="2.54" fill="#4c9842"/>
<rect x="318.47" y="411.58" width="8.81" height="2.54" fill="#243018"/>
<rect x="326.68" y="411.58" width="8.81" height="2.54" fill="#8a1a12"/>
<rect x="334.89" y="411.58" width="8.21" height="2.54" fill="#6e1810"/>
<rect x="261.00" y="413.52" width="8.81" height="2.54" fill="#6cb444"/>
<rect x="269.21" y="413.52" width="8.81" height="2.54" fill="#d02a1a"/>
<rect x="277.42" y="413.52" width="8.81" height="2.54" fill="#c82618"/>
<rect x="285.63" y="413.52" width="8.81" height="2.54" fill="#e03420"/>
<rect x="293.84" y="413.52" width="8.81" height="2.54" fill="#c82618"/>
<rect x="302.05" y="413.52" width="8.81" height="2.54" fill="#80c04a"/>
<rect x="310.26" y="413.52" width="8.81" height="2.54" fill="#6cb444"/>
<rect x="318.47" y="413.52" width="8.81" height="2.54" fill="#a01c14"/>
<rect x="326.68" y="413.52" width="8.81" height="2.54" fill="#1e1e14"/>
<rect x="334.89" y="413.52" width="8.21" height="2.54" fill="#6e1810"/>
<rect x="261.00" y="415.46" width="8.81" height="2.54" fill="#80c04a"/>
<rect x="269.21" y="415.46" width="8.81" height="2.54" fill="#d02a1a"/>
<rect x="277.42" y="415.46" width="8.81" height="2.54" fill="#8a6a2c"/>
<rect x="285.63" y="415.46" width="8.81" height="2.54" fill="#a01c14"/>
<rect x="293.84" y="415.46" width="8.81" height="2.54" fill="#c82618"/>
<rect x="302.05" y="415.46" width="8.81" height="2.54" fill="#70b646"/>
<rect x="310.26" y="415.46" width="8.81" height="2.54" fill="#70b646"/>
<rect x="318.47" y="415.46" width="8.81" height="2.54" fill="#243018"/>
<rect x="326.68" y="415.46" width="8.81" height="2.54" fill="#8a1a12"/>
<rect x="334.89" y="415.46" width="8.21" height="2.54" fill="#76ba46"/>
<rect x="261.00" y="417.40" width="8.81" height="2.54" fill="#a01c14"/>
<rect x="269.21" y="417.40" width="8.81" height="2.54" fill="#80c04a"/>
<rect x="277.42" y="417.40" width="8.81" height="2.54" fill="#c82618"/>
<rect x="285.63" y="417.40" width="8.81" height="2.54" fill="#243018"/>
<rect x="293.84" y="417.40" width="8.81" height="2.54" fill="#e03420"/>
<rect x="302.05" y="417.40" width="8.81" height="2.54" fill="#80c04a"/>
<rect x="310.26" y="417.40" width="8.81" height="2.54" fill="#80c04a"/>
<rect x="318.47" y="417.40" width="8.81" height="2.54" fill="#3e8a3c"/>
<rect x="326.68" y="417.40" width="8.81" height="2.54" fill="#6e1810"/>
<rect x="334.89" y="417.40" width="8.21" height="2.54" fill="#e03420"/>
<rect x="261.00" y="419.34" width="8.81" height="2.54" fill="#4c9842"/>
<rect x="269.21" y="419.34" width="8.81" height="2.54" fill="#70b646"/>
<rect x="277.42" y="419.34" width="8.81" height="2.54" fill="#d82c1a"/>
<rect x="285.63" y="419.34" width="8.81" height="2.54" fill="#8a1a12"/>
<rect x="293.84" y="419.34" width="8.81" height="2.54" fill="#d02a1a"/>
<rect x="302.05" y="419.34" width="8.81" height="2.54" fill="#70b646"/>
<rect x="310.26" y="419.34" width="8.81" height="2.54" fill="#8a6a2c"/>
<rect x="318.47" y="419.34" width="8.81" height="2.54" fill="#3a2414"/>
<rect x="326.68" y="419.34" width="8.81" height="2.54" fill="#2a2418"/>
<rect x="334.89" y="419.34" width="8.21" height="2.54" fill="#8a6a2c"/>
<rect x="261.00" y="421.27" width="8.81" height="2.54" fill="#76ba46"/>
<rect x="269.21" y="421.27" width="8.81" height="2.54" fill="#e03420"/>
<rect x="277.42" y="421.27" width="8.81" height="2.54" fill="#8a6a2c"/>
<rect x="285.63" y="421.27" width="8.81" height="2.54" fill="#c82618"/>
<rect x="293.84" y="421.27" width="8.81" height="2.54" fill="#8a6a2c"/>
<rect x="302.05" y="421.27" width="8.81" height="2.54" fill="#70b646"/>
<rect x="310.26" y="421.27" width="8.81" height="2.54" fill="#70b646"/>
<rect x="318.47" y="421.27" width="8.81" height="2.54" fill="#2e6a32"/>
<rect x="326.68" y="421.27" width="8.81" height="2.54" fill="#3e8a3c"/>
<rect x="334.89" y="421.27" width="8.21" height="2.54" fill="#d02a1a"/>
<rect x="261.00" y="423.21" width="8.81" height="2.54" fill="#8a6a2c"/>
<rect x="269.21" y="423.21" width="8.81" height="2.54" fill="#c82618"/>
<rect x="277.42" y="423.21" width="8.81" height="2.54" fill="#a01c14"/>
<rect x="285.63" y="423.21" width="8.81" height="2.54" fill="#8a1a12"/>
<rect x="293.84" y="423.21" width="8.81" height="2.54" fill="#243018"/>
<rect x="302.05" y="423.21" width="8.81" height="2.54" fill="#80c04a"/>
<rect x="310.26" y="423.21" width="8.81" height="2.54" fill="#80c04a"/>
<rect x="318.47" y="423.21" width="8.81" height="2.54" fill="#6cb444"/>
<rect x="326.68" y="423.21" width="8.81" height="2.54" fill="#6cb444"/>
<rect x="334.89" y="423.21" width="8.21" height="2.54" fill="#a01c14"/>
<rect x="261.00" y="425.15" width="8.81" height="2.54" fill="#80c04a"/>
<rect x="269.21" y="425.15" width="8.81" height="2.54" fill="#d82c1a"/>
<rect x="277.42" y="425.15" width="8.81" height="2.54" fill="#d02a1a"/>
<rect x="285.63" y="425.15" width="8.81" height="2.54" fill="#e03420"/>
<rect x="293.84" y="425.15" width="8.81" height="2.54" fill="#1e1e14"/>
<rect x="302.05" y="425.15" width="8.81" height="2.54" fill="#4c9842"/>
<rect x="310.26" y="425.15" width="8.81" height="2.54" fill="#3a2414"/>
<rect x="318.47" y="425.15" width="8.81" height="2.54" fill="#8a6a2c"/>
<rect x="326.68" y="425.15" width="8.81" height="2.54" fill="#243018"/>
<rect x="334.89" y="425.15" width="8.21" height="2.54" fill="#c82618"/>
<rect x="261.00" y="427.09" width="8.81" height="2.54" fill="#8a1a12"/>
<rect x="269.21" y="427.09" width="8.81" height="2.54" fill="#8a1a12"/>
<rect x="277.42" y="427.09" width="8.81" height="2.54" fill="#9a5c24"/>
<rect x="285.63" y="427.09" width="8.81" height="2.54" fill="#e03420"/>
<rect x="293.84" y="427.09" width="8.81" height="2.54" fill="#1e1e14"/>
<rect x="302.05" y="427.09" width="8.81" height="2.54" fill="#80c04a"/>
<rect x="310.26" y="427.09" width="8.81" height="2.54" fill="#1e1e14"/>
<rect x="318.47" y="427.09" width="8.81" height="2.54" fill="#6cb444"/>
<rect x="326.68" y="427.09" width="8.81" height="2.54" fill="#80c04a"/>
<rect x="334.89" y="427.09" width="8.21" height="2.54" fill="#80c04a"/>
<rect x="261.00" y="429.03" width="8.81" height="2.54" fill="#d02a1a"/>
<rect x="269.21" y="429.03" width="8.81" height="2.54" fill="#8a1a12"/>
<rect x="277.42" y="429.03" width="8.81" height="2.54" fill="#80c04a"/>
<rect x="285.63" y="429.03" width="8.81" height="2.54" fill="#8a6a2c"/>
<rect x="293.84" y="429.03" width="8.81" height="2.54" fill="#d82c1a"/>
<rect x="302.05" y="429.03" width="8.81" height="2.54" fill="#3e8a3c"/>
<rect x="310.26" y="429.03" width="8.81" height="2.54" fill="#80c04a"/>
<rect x="318.47" y="429.03" width="8.81" height="2.54" fill="#8a6a2c"/>
<rect x="326.68" y="429.03" width="8.81" height="2.54" fill="#2a2418"/>
<rect x="334.89" y="429.03" width="8.21" height="2.54" fill="#6cb444"/>
<rect x="261.00" y="430.97" width="8.81" height="2.54" fill="#e03420"/>
<rect x="269.21" y="430.97" width="8.81" height="2.54" fill="#8a1a12"/>
<rect x="277.42" y="430.97" width="8.81" height="2.54" fill="#d02a1a"/>
<rect x="285.63" y="430.97" width="8.81" height="2.54" fill="#e03420"/>
<rect x="293.84" y="430.97" width="8.81" height="2.54" fill="#6e1810"/>
<rect x="302.05" y="430.97" width="8.81" height="2.54" fill="#76ba46"/>
<rect x="310.26" y="430.97" width="8.81" height="2.54" fill="#70b646"/>
<rect x="318.47" y="430.97" width="8.81" height="2.54" fill="#2a2418"/>
<rect x="326.68" y="430.97" width="8.81" height="2.54" fill="#80c04a"/>
<rect x="334.89" y="430.97" width="8.21" height="2.54" fill="#3a2414"/>
<rect x="261.00" y="432.91" width="8.81" height="2.54" fill="#c82618"/>
<rect x="269.21" y="432.91" width="8.81" height="2.54" fill="#e03420"/>
<rect x="277.42" y="432.91" width="8.81" height="2.54" fill="#d02a1a"/>
<rect x="285.63" y="432.91" width="8.81" height="2.54" fill="#d02a1a"/>
<rect x="293.84" y="432.91" width="8.81" height="2.54" fill="#d02a1a"/>
<rect x="302.05" y="432.91" width="8.81" height="2.54" fill="#80c04a"/>
<rect x="310.26" y="432.91" width="8.81" height="2.54" fill="#2a2418"/>
<rect x="318.47" y="432.91" width="8.81" height="2.54" fill="#76ba46"/>
<rect x="326.68" y="432.91" width="8.81" height="2.54" fill="#6cb444"/>
<rect x="334.89" y="432.91" width="8.21" height="2.54" fill="#2a2418"/>
<rect x="261.00" y="434.85" width="8.81" height="2.54" fill="#e03420"/>
<rect x="269.21" y="434.85" width="8.81" height="2.54" fill="#8a6a2c"/>
<rect x="277.42" y="434.85" width="8.81" height="2.54" fill="#a01c14"/>
<rect x="285.63" y="434.85" width="8.81" height="2.54" fill="#c82618"/>
<rect x="293.84" y="434.85" width="8.81" height="2.54" fill="#d02a1a"/>
<rect x="302.05" y="434.85" width="8.81" height="2.54" fill="#76ba46"/>
<rect x="310.26" y="434.85" width="8.81" height="2.54" fill="#3e8a3c"/>
<rect x="318.47" y="434.85" width="8.81" height="2.54" fill="#80c04a"/>
<rect x="326.68" y="434.85" width="8.81" height="2.54" fill="#2e6a32"/>
<rect x="334.89" y="434.85" width="8.21" height="2.54" fill="#8a6a2c"/>
<rect x="261.00" y="436.79" width="8.81" height="2.54" fill="#6e1810"/>
<rect x="269.21" y="436.79" width="8.81" height="2.54" fill="#c82618"/>
<rect x="277.42" y="436.79" width="8.81" height="2.54" fill="#c82618"/>
<rect x="285.63" y="436.79" width="8.81" height="2.54" fill="#d82c1a"/>
<rect x="293.84" y="436.79" width="8.81" height="2.54" fill="#e03420"/>
<rect x="302.05" y="436.79" width="8.81" height="2.54" fill="#80c04a"/>
<rect x="310.26" y="436.79" width="8.81" height="2.54" fill="#3a2414"/>
<rect x="318.47" y="436.79" width="8.81" height="2.54" fill="#243018"/>
<rect x="326.68" y="436.79" width="8.81" height="2.54" fill="#6cb444"/>
<rect x="334.89" y="436.79" width="8.21" height="2.54" fill="#a01c14"/>
<rect x="261.00" y="438.73" width="8.81" height="2.54" fill="#2e6a32"/>
<rect x="269.21" y="438.73" width="8.81" height="2.54" fill="#d82c1a"/>
<rect x="277.42" y="438.73" width="8.81" height="2.54" fill="#e03420"/>
<rect x="285.63" y="438.73" width="8.81" height="2.54" fill="#6e1810"/>
<rect x="293.84" y="438.73" width="8.81" height="2.54" fill="#e03420"/>
<rect x="302.05" y="438.73" width="8.81" height="2.54" fill="#70b646"/>
<rect x="310.26" y="438.73" width="8.81" height="2.54" fill="#6cb444"/>
<rect x="318.47" y="438.73" width="8.81" height="2.54" fill="#70b646"/>
<rect x="326.68" y="438.73" width="8.81" height="2.54" fill="#70b646"/>
<rect x="334.89" y="438.73" width="8.21" height="2.54" fill="#6e1810"/>
<rect x="261.00" y="440.67" width="8.81" height="2.54" fill="#d02a1a"/>
<rect x="269.21" y="440.67" width="8.81" height="2.54" fill="#e03420"/>
<rect x="277.42" y="440.67" width="8.81" height="2.54" fill="#d02a1a"/>
<rect x="285.63" y="440.67" width="8.81" height="2.54" fill="#d02a1a"/>
<rect x="293.84" y="440.67" width="8.81" height="2.54" fill="#c82618"/>
<rect x="302.05" y="440.67" width="8.81" height="2.54" fill="#6cb444"/>
<rect x="310.26" y="440.67" width="8.81" height="2.54" fill="#6cb444"/>
<rect x="318.47" y="440.67" width="8.81" height="2.54" fill="#9a5c24"/>
<rect x="326.68" y="440.67" width="8.81" height="2.54" fill="#80c04a"/>
<rect x="334.89" y="440.67" width="8.21" height="2.54" fill="#7a7030"/>
<rect x="261.00" y="442.60" width="8.81" height="2.54" fill="#d02a1a"/>
<rect x="269.21" y="442.60" width="8.81" height="2.54" fill="#c82618"/>
<rect x="277.42" y="442.60" width="8.81" height="2.54" fill="#e03420"/>
<rect x="285.63" y="442.60" width="8.81" height="2.54" fill="#e03420"/>
<rect x="293.84" y="442.60" width="8.81" height="2.54" fill="#d82c1a"/>
<rect x="302.05" y="442.60" width="8.81" height="2.54" fill="#3e8a3c"/>
<rect x="310.26" y="442.60" width="8.81" height="2.54" fill="#4c9842"/>
<rect x="318.47" y="442.60" width="8.81" height="2.54" fill="#3e8a3c"/>
<rect x="326.68" y="442.60" width="8.81" height="2.54" fill="#3e8a3c"/>
<rect x="334.89" y="442.60" width="8.21" height="2.54" fill="#76ba46"/>
<rect x="261.00" y="444.54" width="8.81" height="2.54" fill="#d02a1a"/>
<rect x="269.21" y="444.54" width="8.81" height="2.54" fill="#2a2418"/>
<rect x="277.42" y="444.54" width="8.81" height="2.54" fill="#d82c1a"/>
<rect x="285.63" y="444.54" width="8.81" height="2.54" fill="#c82618"/>
<rect x="293.84" y="444.54" width="8.81" height="2.54" fill="#6e1810"/>
<rect x="302.05" y="444.54" width="8.81" height="2.54" fill="#80c04a"/>
<rect x="310.26" y="444.54" width="8.81" height="2.54" fill="#70b646"/>
<rect x="318.47" y="444.54" width="8.81" height="2.54" fill="#2a2418"/>
<rect x="326.68" y="444.54" width="8.81" height="2.54" fill="#70b646"/>
<rect x="334.89" y="444.54" width="8.21" height="2.54" fill="#3e8a3c"/>
<rect x="261.00" y="446.48" width="8.81" height="2.54" fill="#d82c1a"/>
<rect x="269.21" y="446.48" width="8.81" height="2.54" fill="#6e1810"/>
<rect x="277.42" y="446.48" width="8.81" height="2.54" fill="#3e8a3c"/>
<rect x="285.63" y="446.48" width="8.81" height="2.54" fill="#e03420"/>
<rect x="293.84" y="446.48" width="8.81" height="2.54" fill="#e03420"/>
<rect x="302.05" y="446.48" width="8.81" height="2.54" fill="#4c9842"/>
<rect x="310.26" y="446.48" width="8.81" height="2.54" fill="#76ba46"/>
<rect x="318.47" y="446.48" width="8.81" height="2.54" fill="#3a2414"/>
<rect x="326.68" y="446.48" width="8.81" height="2.54" fill="#4c9842"/>
<rect x="334.89" y="446.48" width="8.21" height="2.54" fill="#8a1a12"/>
<rect x="261.00" y="448.42" width="8.81" height="2.54" fill="#d82c1a"/>
<rect x="269.21" y="448.42" width="8.81" height="2.54" fill="#c82618"/>
<rect x="277.42" y="448.42" width="8.81" height="2.54" fill="#a01c14"/>
<rect x="285.63" y="448.42" width="8.81" height="2.54" fill="#c82618"/>
<rect x="293.84" y="448.42" width="8.81" height="2.54" fill="#c82618"/>
<rect x="302.05" y="448.42" width="8.81" height="2.54" fill="#4c9842"/>
<rect x="310.26" y="448.42" width="8.81" height="2.54" fill="#2e6a32"/>
<rect x="318.47" y="448.42" width="8.81" height="2.54" fill="#243018"/>
<rect x="326.68" y="448.42" width="8.81" height="2.54" fill="#70b646"/>
<rect x="334.89" y="448.42" width="8.21" height="2.54" fill="#3a2414"/>
<rect x="261.00" y="450.36" width="8.81" height="1.94" fill="#a01c14"/>
<rect x="269.21" y="450.36" width="8.81" height="1.94" fill="#d82c1a"/>
<rect x="277.42" y="450.36" width="8.81" height="1.94" fill="#2a2418"/>
<rect x="285.63" y="450.36" width="8.81" height="1.94" fill="#d82c1a"/>
<rect x="293.84" y="450.36" width="8.81" height="1.94" fill="#e03420"/>
<rect x="302.05" y="450.36" width="8.81" height="1.94" fill="#243018"/>
<rect x="310.26" y="450.36" width="8.81" height="1.94" fill="#7a7030"/>
<rect x="318.47" y="450.36" width="8.81" height="1.94" fill="#70b646"/>
<rect x="326.68" y="450.36" width="8.81" height="1.94" fill="#1e1e14"/>
<rect x="334.89" y="450.36" width="8.21" height="1.94" fill="#6cb444"/>
<rect x="362.70" y="328.20" width="8.83" height="2.59" fill="#2e6a32"/>
<rect x="370.93" y="328.20" width="8.83" height="2.59" fill="#6cb444"/>
<rect x="379.16" y="328.20" width="8.83" height="2.59" fill="#70b646"/>
<rect x="387.39" y="328.20" width="8.83" height="2.59" fill="#76ba46"/>
<rect x="395.62" y="328.20" width="8.83" height="2.59" fill="#2e6a32"/>
<rect x="403.85" y="328.20" width="8.83" height="2.59" fill="#d82c1a"/>
<rect x="412.08" y="328.20" width="8.83" height="2.59" fill="#d02a1a"/>
<rect x="420.31" y="328.20" width="8.83" height="2.59" fill="#c82618"/>
<rect x="428.54" y="328.20" width="8.83" height="2.59" fill="#d02a1a"/>
<rect x="436.77" y="328.20" width="8.23" height="2.59" fill="#d82c1a"/>
<rect x="362.70" y="330.19" width="8.83" height="2.59" fill="#3a2414"/>
<rect x="370.93" y="330.19" width="8.83" height="2.59" fill="#70b646"/>
<rect x="379.16" y="330.19" width="8.83" height="2.59" fill="#76ba46"/>
<rect x="387.39" y="330.19" width="8.83" height="2.59" fill="#6cb444"/>
<rect x="395.62" y="330.19" width="8.83" height="2.59" fill="#6cb444"/>
<rect x="403.85" y="330.19" width="8.83" height="2.59" fill="#d82c1a"/>
<rect x="412.08" y="330.19" width="8.83" height="2.59" fill="#d02a1a"/>
<rect x="420.31" y="330.19" width="8.83" height="2.59" fill="#d82c1a"/>
<rect x="428.54" y="330.19" width="8.83" height="2.59" fill="#d82c1a"/>
<rect x="436.77" y="330.19" width="8.23" height="2.59" fill="#d02a1a"/>
<rect x="362.70" y="332.19" width="8.83" height="2.59" fill="#80c04a"/>
<rect x="370.93" y="332.19" width="8.83" height="2.59" fill="#76ba46"/>
<rect x="379.16" y="332.19" width="8.83" height="2.59" fill="#80c04a"/>
<rect x="387.39" y="332.19" width="8.83" height="2.59" fill="#80c04a"/>
<rect x="395.62" y="332.19" width="8.83" height="2.59" fill="#2e6a32"/>
<rect x="403.85" y="332.19" width="8.83" height="2.59" fill="#e03420"/>
<rect x="412.08" y="332.19" width="8.83" height="2.59" fill="#c82618"/>
<rect x="420.31" y="332.19" width="8.83" height="2.59" fill="#e03420"/>
<rect x="428.54" y="332.19" width="8.83" height="2.59" fill="#d02a1a"/>
<rect x="436.77" y="332.19" width="8.23" height="2.59" fill="#d82c1a"/>
<rect x="362.70" y="334.18" width="8.83" height="2.59" fill="#70b646"/>
<rect x="370.93" y="334.18" width="8.83" height="2.59" fill="#2e6a32"/>
<rect x="379.16" y="334.18" width="8.83" height="2.59" fill="#6cb444"/>
<rect x="387.39" y="334.18" width="8.83" height="2.59" fill="#243018"/>
<rect x="395.62" y="334.18" width="8.83" height="2.59" fill="#4c9842"/>
<rect x="403.85" y="334.18" width="8.83" height="2.59" fill="#d02a1a"/>
<rect x="412.08" y="334.18" width="8.83" height="2.59" fill="#c82618"/>
<rect x="420.31" y="334.18" width="8.83" height="2.59" fill="#d82c1a"/>
<rect x="428.54" y="334.18" width="8.83" height="2.59" fill="#8a1a12"/>
<rect x="436.77" y="334.18" width="8.23" height="2.59" fill="#d82c1a"/>
<rect x="362.70" y="336.18" width="8.83" height="2.59" fill="#2a2418"/>
<rect x="370.93" y="336.18" width="8.83" height="2.59" fill="#6cb444"/>
<rect x="379.16" y="336.18" width="8.83" height="2.59" fill="#3e8a3c"/>
<rect x="387.39" y="336.18" width="8.83" height="2.59" fill="#8a1a12"/>
<rect x="395.62" y="336.18" width="8.83" height="2.59" fill="#70b646"/>
<rect x="403.85" y="336.18" width="8.83" height="2.59" fill="#c82618"/>
<rect x="412.08" y="336.18" width="8.83" height="2.59" fill="#d02a1a"/>
<rect x="420.31" y="336.18" width="8.83" height="2.59" fill="#d82c1a"/>
<rect x="428.54" y="336.18" width="8.83" height="2.59" fill="#8a1a12"/>
<rect x="436.77" y="336.18" width="8.23" height="2.59" fill="#c82618"/>
<rect x="362.70" y="338.17" width="8.83" height="2.59" fill="#3e8a3c"/>
<rect x="370.93" y="338.17" width="8.83" height="2.59" fill="#70b646"/>
<rect x="379.16" y="338.17" width="8.83" height="2.59" fill="#80c04a"/>
<rect x="387.39" y="338.17" width="8.83" height="2.59" fill="#2a2418"/>
<rect x="395.62" y="338.17" width="8.83" height="2.59" fill="#70b646"/>
<rect x="403.85" y="338.17" width="8.83" height="2.59" fill="#d82c1a"/>
<rect x="412.08" y="338.17" width="8.83" height="2.59" fill="#6e1810"/>
<rect x="420.31" y="338.17" width="8.83" height="2.59" fill="#d02a1a"/>
<rect x="428.54" y="338.17" width="8.83" height="2.59" fill="#e03420"/>
<rect x="436.77" y="338.17" width="8.23" height="2.59" fill="#e03420"/>
<rect x="362.70" y="340.16" width="8.83" height="2.59" fill="#3e8a3c"/>
<rect x="370.93" y="340.16" width="8.83" height="2.59" fill="#3e8a3c"/>
<rect x="379.16" y="340.16" width="8.83" height="2.59" fill="#6cb444"/>
<rect x="387.39" y="340.16" width="8.83" height="2.59" fill="#6e1810"/>
<rect x="395.62" y="340.16" width="8.83" height="2.59" fill="#6cb444"/>
<rect x="403.85" y="340.16" width="8.83" height="2.59" fill="#6e1810"/>
<rect x="412.08" y="340.16" width="8.83" height="2.59" fill="#e03420"/>
<rect x="420.31" y="340.16" width="8.83" height="2.59" fill="#e03420"/>
<rect x="428.54" y="340.16" width="8.83" height="2.59" fill="#a01c14"/>
<rect x="436.77" y="340.16" width="8.23" height="2.59" fill="#e03420"/>
<rect x="362.70" y="342.16" width="8.83" height="2.59" fill="#3e8a3c"/>
<rect x="370.93" y="342.16" width="8.83" height="2.59" fill="#80c04a"/>
<rect x="379.16" y="342.16" width="8.83" height="2.59" fill="#6cb444"/>
<rect x="387.39" y="342.16" width="8.83" height="2.59" fill="#2e6a32"/>
<rect x="395.62" y="342.16" width="8.83" height="2.59" fill="#80c04a"/>
<rect x="403.85" y="342.16" width="8.83" height="2.59" fill="#e03420"/>
<rect x="412.08" y="342.16" width="8.83" height="2.59" fill="#c82618"/>
<rect x="420.31" y="342.16" width="8.83" height="2.59" fill="#d02a1a"/>
<rect x="428.54" y="342.16" width="8.83" height="2.59" fill="#e03420"/>
<rect x="436.77" y="342.16" width="8.23" height="2.59" fill="#d82c1a"/>
<rect x="362.70" y="344.15" width="8.83" height="2.59" fill="#2e6a32"/>
<rect x="370.93" y="344.15" width="8.83" height="2.59" fill="#76ba46"/>
<rect x="379.16" y="344.15" width="8.83" height="2.59" fill="#6cb444"/>
<rect x="387.39" y="344.15" width="8.83" height="2.59" fill="#4c9842"/>
<rect x="395.62" y="344.15" width="8.83" height="2.59" fill="#76ba46"/>
<rect x="403.85" y="344.15" width="8.83" height="2.59" fill="#d82c1a"/>
<rect x="412.08" y="344.15" width="8.83" height="2.59" fill="#8a1a12"/>
<rect x="420.31" y="344.15" width="8.83" height="2.59" fill="#a01c14"/>
<rect x="428.54" y="344.15" width="8.83" height="2.59" fill="#d82c1a"/>
<rect x="436.77" y="344.15" width="8.23" height="2.59" fill="#d82c1a"/>
<rect x="362.70" y="346.14" width="8.83" height="2.59" fill="#3a2414"/>
<rect x="370.93" y="346.14" width="8.83" height="2.59" fill="#6cb444"/>
<rect x="379.16" y="346.14" width="8.83" height="2.59" fill="#70b646"/>
<rect x="387.39" y="346.14" width="8.83" height="2.59" fill="#2e6a32"/>
<rect x="395.62" y="346.14" width="8.83" height="2.59" fill="#4c9842"/>
<rect x="403.85" y="346.14" width="8.83" height="2.59" fill="#d82c1a"/>
<rect x="412.08" y="346.14" width="8.83" height="2.59" fill="#e03420"/>
<rect x="420.31" y="346.14" width="8.83" height="2.59" fill="#d82c1a"/>
<rect x="428.54" y="346.14" width="8.83" height="2.59" fill="#d82c1a"/>
<rect x="436.77" y="346.14" width="8.23" height="2.59" fill="#d02a1a"/>
<rect x="362.70" y="348.14" width="8.83" height="2.59" fill="#8a1a12"/>
<rect x="370.93" y="348.14" width="8.83" height="2.59" fill="#6cb444"/>
<rect x="379.16" y="348.14" width="8.83" height="2.59" fill="#80c04a"/>
<rect x="387.39" y="348.14" width="8.83" height="2.59" fill="#1e1e14"/>
<rect x="395.62" y="348.14" width="8.83" height="2.59" fill="#6cb444"/>
<rect x="403.85" y="348.14" width="8.83" height="2.59" fill="#e03420"/>
<rect x="412.08" y="348.14" width="8.83" height="2.59" fill="#6e1810"/>
<rect x="420.31" y="348.14" width="8.83" height="2.59" fill="#e03420"/>
<rect x="428.54" y="348.14" width="8.83" height="2.59" fill="#e03420"/>
<rect x="436.77" y="348.14" width="8.23" height="2.59" fill="#e03420"/>
<rect x="362.70" y="350.13" width="8.83" height="2.59" fill="#2a2418"/>
<rect x="370.93" y="350.13" width="8.83" height="2.59" fill="#6cb444"/>
<rect x="379.16" y="350.13" width="8.83" height="2.59" fill="#6cb444"/>
<rect x="387.39" y="350.13" width="8.83" height="2.59" fill="#2a2418"/>
<rect x="395.62" y="350.13" width="8.83" height="2.59" fill="#6cb444"/>
<rect x="403.85" y="350.13" width="8.83" height="2.59" fill="#c82618"/>
<rect x="412.08" y="350.13" width="8.83" height="2.59" fill="#d82c1a"/>
<rect x="420.31" y="350.13" width="8.83" height="2.59" fill="#d82c1a"/>
<rect x="428.54" y="350.13" width="8.83" height="2.59" fill="#d82c1a"/>
<rect x="436.77" y="350.13" width="8.23" height="2.59" fill="#d82c1a"/>
<rect x="362.70" y="352.12" width="8.83" height="2.59" fill="#a01c14"/>
<rect x="370.93" y="352.12" width="8.83" height="2.59" fill="#4c9842"/>
<rect x="379.16" y="352.12" width="8.83" height="2.59" fill="#6cb444"/>
<rect x="387.39" y="352.12" width="8.83" height="2.59" fill="#2e6a32"/>
<rect x="395.62" y="352.12" width="8.83" height="2.59" fill="#76ba46"/>
<rect x="403.85" y="352.12" width="8.83" height="2.59" fill="#d82c1a"/>
<rect x="412.08" y="352.12" width="8.83" height="2.59" fill="#d82c1a"/>
<rect x="420.31" y="352.12" width="8.83" height="2.59" fill="#d82c1a"/>
<rect x="428.54" y="352.12" width="8.83" height="2.59" fill="#c82618"/>
<rect x="436.77" y="352.12" width="8.23" height="2.59" fill="#d82c1a"/>
<rect x="362.70" y="354.12" width="8.83" height="2.59" fill="#d82c1a"/>
<rect x="370.93" y="354.12" width="8.83" height="2.59" fill="#6e1810"/>
<rect x="379.16" y="354.12" width="8.83" height="2.59" fill="#76ba46"/>
<rect x="387.39" y="354.12" width="8.83" height="2.59" fill="#70b646"/>
<rect x="395.62" y="354.12" width="8.83" height="2.59" fill="#76ba46"/>
<rect x="403.85" y="354.12" width="8.83" height="2.59" fill="#6e1810"/>
<rect x="412.08" y="354.12" width="8.83" height="2.59" fill="#c82618"/>
<rect x="420.31" y="354.12" width="8.83" height="2.59" fill="#a01c14"/>
<rect x="428.54" y="354.12" width="8.83" height="2.59" fill="#d02a1a"/>
<rect x="436.77" y="354.12" width="8.23" height="2.59" fill="#c82618"/>
<rect x="362.70" y="356.11" width="8.83" height="2.59" fill="#d82c1a"/>
<rect x="370.93" y="356.11" width="8.83" height="2.59" fill="#80c04a"/>
<rect x="379.16" y="356.11" width="8.83" height="2.59" fill="#80c04a"/>
<rect x="387.39" y="356.11" width="8.83" height="2.59" fill="#3a2414"/>
<rect x="395.62" y="356.11" width="8.83" height="2.59" fill="#70b646"/>
<rect x="403.85" y="356.11" width="8.83" height="2.59" fill="#e03420"/>
<rect x="412.08" y="356.11" width="8.83" height="2.59" fill="#a01c14"/>
<rect x="420.31" y="356.11" width="8.83" height="2.59" fill="#d02a1a"/>
<rect x="428.54" y="356.11" width="8.83" height="2.59" fill="#e03420"/>
<rect x="436.77" y="356.11" width="8.23" height="2.59" fill="#8a1a12"/>
<rect x="362.70" y="358.11" width="8.83" height="2.59" fill="#d02a1a"/>
<rect x="370.93" y="358.11" width="8.83" height="2.59" fill="#76ba46"/>
<rect x="379.16" y="358.11" width="8.83" height="2.59" fill="#70b646"/>
<rect x="387.39" y="358.11" width="8.83" height="2.59" fill="#3e8a3c"/>
<rect x="395.62" y="358.11" width="8.83" height="2.59" fill="#70b646"/>
<rect x="403.85" y="358.11" width="8.83" height="2.59" fill="#c82618"/>
<rect x="412.08" y="358.11" width="8.83" height="2.59" fill="#d82c1a"/>
<rect x="420.31" y="358.11" width="8.83" height="2.59" fill="#d82c1a"/>
<rect x="428.54" y="358.11" width="8.83" height="2.59" fill="#c82618"/>
<rect x="436.77" y="358.11" width="8.23" height="2.59" fill="#d82c1a"/>
<rect x="362.70" y="360.10" width="8.83" height="2.59" fill="#76ba46"/>
<rect x="370.93" y="360.10" width="8.83" height="2.59" fill="#80c04a"/>
<rect x="379.16" y="360.10" width="8.83" height="2.59" fill="#70b646"/>
<rect x="387.39" y="360.10" width="8.83" height="2.59" fill="#4c9842"/>
<rect x="395.62" y="360.10" width="8.83" height="2.59" fill="#80c04a"/>
<rect x="403.85" y="360.10" width="8.83" height="2.59" fill="#c82618"/>
<rect x="412.08" y="360.10" width="8.83" height="2.59" fill="#d82c1a"/>
<rect x="420.31" y="360.10" width="8.83" height="2.59" fill="#c82618"/>
<rect x="428.54" y="360.10" width="8.83" height="2.59" fill="#c82618"/>
<rect x="436.77" y="360.10" width="8.23" height="2.59" fill="#a01c14"/>
<rect x="362.70" y="362.09" width="8.83" height="2.59" fill="#80c04a"/>
<rect x="370.93" y="362.09" width="8.83" height="2.59" fill="#6cb444"/>
<rect x="379.16" y="362.09" width="8.83" height="2.59" fill="#6cb444"/>
<rect x="387.39" y="362.09" width="8.83" height="2.59" fill="#70b646"/>
<rect x="395.62" y="362.09" width="8.83" height="2.59" fill="#76ba46"/>
<rect x="403.85" y="362.09" width="8.83" height="2.59" fill="#6e1810"/>
<rect x="412.08" y="362.09" width="8.83" height="2.59" fill="#e03420"/>
<rect x="420.31" y="362.09" width="8.83" height="2.59" fill="#c82618"/>
<rect x="428.54" y="362.09" width="8.83" height="2.59" fill="#d82c1a"/>
<rect x="436.77" y="362.09" width="8.23" height="2.59" fill="#8a1a12"/>
<rect x="362.70" y="364.09" width="8.83" height="2.59" fill="#d82c1a"/>
<rect x="370.93" y="364.09" width="8.83" height="2.59" fill="#3e8a3c"/>
<rect x="379.16" y="364.09" width="8.83" height="2.59" fill="#80c04a"/>
<rect x="387.39" y="364.09" width="8.83" height="2.59" fill="#8a1a12"/>
<rect x="395.62" y="364.09" width="8.83" height="2.59" fill="#4c9842"/>
<rect x="403.85" y="364.09" width="8.83" height="2.59" fill="#6e1810"/>
<rect x="412.08" y="364.09" width="8.83" height="2.59" fill="#d02a1a"/>
<rect x="420.31" y="364.09" width="8.83" height="2.59" fill="#3a2414"/>
<rect x="428.54" y="364.09" width="8.83" height="2.59" fill="#d82c1a"/>
<rect x="436.77" y="364.09" width="8.23" height="2.59" fill="#8a1a12"/>
<rect x="362.70" y="366.08" width="8.83" height="2.59" fill="#243018"/>
<rect x="370.93" y="366.08" width="8.83" height="2.59" fill="#a01c14"/>
<rect x="379.16" y="366.08" width="8.83" height="2.59" fill="#80c04a"/>
<rect x="387.39" y="366.08" width="8.83" height="2.59" fill="#2a2418"/>
<rect x="395.62" y="366.08" width="8.83" height="2.59" fill="#76ba46"/>
<rect x="403.85" y="366.08" width="8.83" height="2.59" fill="#e03420"/>
<rect x="412.08" y="366.08" width="8.83" height="2.59" fill="#e03420"/>
<rect x="420.31" y="366.08" width="8.83" height="2.59" fill="#d82c1a"/>
<rect x="428.54" y="366.08" width="8.83" height="2.59" fill="#c82618"/>
<rect x="436.77" y="366.08" width="8.23" height="2.59" fill="#a01c14"/>
<rect x="362.70" y="368.07" width="8.83" height="2.59" fill="#4c9842"/>
<rect x="370.93" y="368.07" width="8.83" height="2.59" fill="#70b646"/>
<rect x="379.16" y="368.07" width="8.83" height="2.59" fill="#6cb444"/>
<rect x="387.39" y="368.07" width="8.83" height="2.59" fill="#70b646"/>
<rect x="395.62" y="368.07" width="8.83" height="2.59" fill="#76ba46"/>
<rect x="403.85" y="368.07" width="8.83" height="2.59" fill="#c82618"/>
<rect x="412.08" y="368.07" width="8.83" height="2.59" fill="#c82618"/>
<rect x="420.31" y="368.07" width="8.83" height="2.59" fill="#d02a1a"/>
<rect x="428.54" y="368.07" width="8.83" height="2.59" fill="#e03420"/>
<rect x="436.77" y="368.07" width="8.23" height="2.59" fill="#e03420"/>
<rect x="362.70" y="370.07" width="8.83" height="2.59" fill="#70b646"/>
<rect x="370.93" y="370.07" width="8.83" height="2.59" fill="#2a2418"/>
<rect x="379.16" y="370.07" width="8.83" height="2.59" fill="#80c04a"/>
<rect x="387.39" y="370.07" width="8.83" height="2.59" fill="#70b646"/>
<rect x="395.62" y="370.07" width="8.83" height="2.59" fill="#80c04a"/>
<rect x="403.85" y="370.07" width="8.83" height="2.59" fill="#c82618"/>
<rect x="412.08" y="370.07" width="8.83" height="2.59" fill="#c82618"/>
<rect x="420.31" y="370.07" width="8.83" height="2.59" fill="#c82618"/>
<rect x="428.54" y="370.07" width="8.83" height="2.59" fill="#d02a1a"/>
<rect x="436.77" y="370.07" width="8.23" height="2.59" fill="#c82618"/>
<rect x="362.70" y="372.06" width="8.83" height="2.59" fill="#d02a1a"/>
<rect x="370.93" y="372.06" width="8.83" height="2.59" fill="#80c04a"/>
<rect x="379.16" y="372.06" width="8.83" height="2.59" fill="#80c04a"/>
<rect x="387.39" y="372.06" width="8.83" height="2.59" fill="#70b646"/>
<rect x="395.62" y="372.06" width="8.83" height="2.59" fill="#4c9842"/>
<rect x="403.85" y="372.06" width="8.83" height="2.59" fill="#c82618"/>
<rect x="412.08" y="372.06" width="8.83" height="2.59" fill="#c82618"/>
<rect x="420.31" y="372.06" width="8.83" height="2.59" fill="#6e1810"/>
<rect x="428.54" y="372.06" width="8.83" height="2.59" fill="#c82618"/>
<rect x="436.77" y="372.06" width="8.23" height="2.59" fill="#c82618"/>
<rect x="362.70" y="374.06" width="8.83" height="2.59" fill="#8a6a2c"/>
<rect x="370.93" y="374.06" width="8.83" height="2.59" fill="#76ba46"/>
<rect x="379.16" y="374.06" width="8.83" height="2.59" fill="#70b646"/>
<rect x="387.39" y="374.06" width="8.83" height="2.59" fill="#3e8a3c"/>
<rect x="395.62" y="374.06" width="8.83" height="2.59" fill="#70b646"/>
<rect x="403.85" y="374.06" width="8.83" height="2.59" fill="#d82c1a"/>
<rect x="412.08" y="374.06" width="8.83" height="2.59" fill="#c82618"/>
<rect x="420.31" y="374.06" width="8.83" height="2.59" fill="#8a1a12"/>
<rect x="428.54" y="374.06" width="8.83" height="2.59" fill="#a01c14"/>
<rect x="436.77" y="374.06" width="8.23" height="2.59" fill="#e03420"/>
<rect x="362.70" y="376.05" width="8.83" height="2.59" fill="#80c04a"/>
<rect x="370.93" y="376.05" width="8.83" height="2.59" fill="#80c04a"/>
<rect x="379.16" y="376.05" width="8.83" height="2.59" fill="#6cb444"/>
<rect x="387.39" y="376.05" width="8.83" height="2.59" fill="#76ba46"/>
<rect x="395.62" y="376.05" width="8.83" height="2.59" fill="#76ba46"/>
<rect x="403.85" y="376.05" width="8.83" height="2.59" fill="#d82c1a"/>
<rect x="412.08" y="376.05" width="8.83" height="2.59" fill="#e03420"/>
<rect x="420.31" y="376.05" width="8.83" height="2.59" fill="#e03420"/>
<rect x="428.54" y="376.05" width="8.83" height="2.59" fill="#a01c14"/>
<rect x="436.77" y="376.05" width="8.23" height="2.59" fill="#d82c1a"/>
<rect x="362.70" y="378.04" width="8.83" height="2.59" fill="#80c04a"/>
<rect x="370.93" y="378.04" width="8.83" height="2.59" fill="#d02a1a"/>
<rect x="379.16" y="378.04" width="8.83" height="2.59" fill="#80c04a"/>
<rect x="387.39" y="378.04" width="8.83" height="2.59" fill="#a01c14"/>
<rect x="395.62" y="378.04" width="8.83" height="2.59" fill="#d02a1a"/>
<rect x="403.85" y="378.04" width="8.83" height="2.59" fill="#e03420"/>
<rect x="412.08" y="378.04" width="8.83" height="2.59" fill="#d02a1a"/>
<rect x="420.31" y="378.04" width="8.83" height="2.59" fill="#c82618"/>
<rect x="428.54" y="378.04" width="8.83" height="2.59" fill="#d82c1a"/>
<rect x="436.77" y="378.04" width="8.23" height="2.59" fill="#d82c1a"/>
<rect x="362.70" y="380.04" width="8.83" height="2.59" fill="#80c04a"/>
<rect x="370.93" y="380.04" width="8.83" height="2.59" fill="#70b646"/>
<rect x="379.16" y="380.04" width="8.83" height="2.59" fill="#6cb444"/>
<rect x="387.39" y="380.04" width="8.83" height="2.59" fill="#1e1e14"/>
<rect x="395.62" y="380.04" width="8.83" height="2.59" fill="#80c04a"/>
<rect x="403.85" y="380.04" width="8.83" height="2.59" fill="#d02a1a"/>
<rect x="412.08" y="380.04" width="8.83" height="2.59" fill="#8a1a12"/>
<rect x="420.31" y="380.04" width="8.83" height="2.59" fill="#e03420"/>
<rect x="428.54" y="380.04" width="8.83" height="2.59" fill="#e03420"/>
<rect x="436.77" y="380.04" width="8.23" height="2.59" fill="#d82c1a"/>
<rect x="362.70" y="382.03" width="8.83" height="2.59" fill="#e03420"/>
<rect x="370.93" y="382.03" width="8.83" height="2.59" fill="#243018"/>
<rect x="379.16" y="382.03" width="8.83" height="2.59" fill="#70b646"/>
<rect x="387.39" y="382.03" width="8.83" height="2.59" fill="#243018"/>
<rect x="395.62" y="382.03" width="8.83" height="2.59" fill="#6cb444"/>
<rect x="403.85" y="382.03" width="8.83" height="2.59" fill="#c82618"/>
<rect x="412.08" y="382.03" width="8.83" height="2.59" fill="#c82618"/>
<rect x="420.31" y="382.03" width="8.83" height="2.59" fill="#c82618"/>
<rect x="428.54" y="382.03" width="8.83" height="2.59" fill="#c82618"/>
<rect x="436.77" y="382.03" width="8.23" height="2.59" fill="#d02a1a"/>
<rect x="362.70" y="384.02" width="8.83" height="2.59" fill="#a01c14"/>
<rect x="370.93" y="384.02" width="8.83" height="2.59" fill="#2e6a32"/>
<rect x="379.16" y="384.02" width="8.83" height="2.59" fill="#80c04a"/>
<rect x="387.39" y="384.02" width="8.83" height="2.59" fill="#a01c14"/>
<rect x="395.62" y="384.02" width="8.83" height="2.59" fill="#3e8a3c"/>
<rect x="403.85" y="384.02" width="8.83" height="2.59" fill="#c82618"/>
<rect x="412.08" y="384.02" width="8.83" height="2.59" fill="#8a1a12"/>
<rect x="420.31" y="384.02" width="8.83" height="2.59" fill="#d82c1a"/>
<rect x="428.54" y="384.02" width="8.83" height="2.59" fill="#c82618"/>
<rect x="436.77" y="384.02" width="8.23" height="2.59" fill="#c82618"/>
<rect x="362.70" y="386.02" width="8.83" height="2.59" fill="#e03420"/>
<rect x="370.93" y="386.02" width="8.83" height="2.59" fill="#4c9842"/>
<rect x="379.16" y="386.02" width="8.83" height="2.59" fill="#76ba46"/>
<rect x="387.39" y="386.02" width="8.83" height="2.59" fill="#1e1e14"/>
<rect x="395.62" y="386.02" width="8.83" height="2.59" fill="#6cb444"/>
<rect x="403.85" y="386.02" width="8.83" height="2.59" fill="#d02a1a"/>
<rect x="412.08" y="386.02" width="8.83" height="2.59" fill="#d82c1a"/>
<rect x="420.31" y="386.02" width="8.83" height="2.59" fill="#d02a1a"/>
<rect x="428.54" y="386.02" width="8.83" height="2.59" fill="#c82618"/>
<rect x="436.77" y="386.02" width="8.23" height="2.59" fill="#8a1a12"/>
<rect x="362.70" y="388.01" width="8.83" height="2.59" fill="#8a1a12"/>
<rect x="370.93" y="388.01" width="8.83" height="2.59" fill="#4c9842"/>
<rect x="379.16" y="388.01" width="8.83" height="2.59" fill="#2e6a32"/>
<rect x="387.39" y="388.01" width="8.83" height="2.59" fill="#6cb444"/>
<rect x="395.62" y="388.01" width="8.83" height="2.59" fill="#80c04a"/>
<rect x="403.85" y="388.01" width="8.83" height="2.59" fill="#d82c1a"/>
<rect x="412.08" y="388.01" width="8.83" height="2.59" fill="#d02a1a"/>
<rect x="420.31" y="388.01" width="8.83" height="2.59" fill="#6e1810"/>
<rect x="428.54" y="388.01" width="8.83" height="2.59" fill="#6e1810"/>
<rect x="436.77" y="388.01" width="8.23" height="2.59" fill="#e03420"/>
<rect x="362.70" y="390.01" width="8.83" height="2.59" fill="#c82618"/>
<rect x="370.93" y="390.01" width="8.83" height="2.59" fill="#76ba46"/>
<rect x="379.16" y="390.01" width="8.83" height="2.59" fill="#9a5c24"/>
<rect x="387.39" y="390.01" width="8.83" height="2.59" fill="#6cb444"/>
<rect x="395.62" y="390.01" width="8.83" height="2.59" fill="#6cb444"/>
<rect x="403.85" y="390.01" width="8.83" height="2.59" fill="#d82c1a"/>
<rect x="412.08" y="390.01" width="8.83" height="2.59" fill="#a01c14"/>
<rect x="420.31" y="390.01" width="8.83" height="2.59" fill="#d02a1a"/>
<rect x="428.54" y="390.01" width="8.83" height="2.59" fill="#d02a1a"/>
<rect x="436.77" y="390.01" width="8.23" height="2.59" fill="#d82c1a"/>
<rect x="362.70" y="392.00" width="8.83" height="2.59" fill="#e03420"/>
<rect x="370.93" y="392.00" width="8.83" height="2.59" fill="#70b646"/>
<rect x="379.16" y="392.00" width="8.83" height="2.59" fill="#80c04a"/>
<rect x="387.39" y="392.00" width="8.83" height="2.59" fill="#a01c14"/>
<rect x="395.62" y="392.00" width="8.83" height="2.59" fill="#6cb444"/>
<rect x="403.85" y="392.00" width="8.83" height="2.59" fill="#d02a1a"/>
<rect x="412.08" y="392.00" width="8.83" height="2.59" fill="#d82c1a"/>
<rect x="420.31" y="392.00" width="8.83" height="2.59" fill="#c82618"/>
<rect x="428.54" y="392.00" width="8.83" height="2.59" fill="#d82c1a"/>
<rect x="436.77" y="392.00" width="8.23" height="2.59" fill="#a01c14"/>
<rect x="362.70" y="393.99" width="8.83" height="2.59" fill="#e03420"/>
<rect x="370.93" y="393.99" width="8.83" height="2.59" fill="#70b646"/>
<rect x="379.16" y="393.99" width="8.83" height="2.59" fill="#6cb444"/>
<rect x="387.39" y="393.99" width="8.83" height="2.59" fill="#3e8a3c"/>
<rect x="395.62" y="393.99" width="8.83" height="2.59" fill="#76ba46"/>
<rect x="403.85" y="393.99" width="8.83" height="2.59" fill="#d02a1a"/>
<rect x="412.08" y="393.99" width="8.83" height="2.59" fill="#d02a1a"/>
<rect x="420.31" y="393.99" width="8.83" height="2.59" fill="#8a1a12"/>
<rect x="428.54" y="393.99" width="8.83" height="2.59" fill="#d82c1a"/>
<rect x="436.77" y="393.99" width="8.23" height="2.59" fill="#e03420"/>
<rect x="362.70" y="395.99" width="8.83" height="2.59" fill="#2e6a32"/>
<rect x="370.93" y="395.99" width="8.83" height="2.59" fill="#e03420"/>
<rect x="379.16" y="395.99" width="8.83" height="2.59" fill="#2e6a32"/>
<rect x="387.39" y="395.99" width="8.83" height="2.59" fill="#80c04a"/>
<rect x="395.62" y="395.99" width="8.83" height="2.59" fill="#6cb444"/>
<rect x="403.85" y="395.99" width="8.83" height="2.59" fill="#c82618"/>
<rect x="412.08" y="395.99" width="8.83" height="2.59" fill="#e03420"/>
<rect x="420.31" y="395.99" width="8.83" height="2.59" fill="#e03420"/>
<rect x="428.54" y="395.99" width="8.83" height="2.59" fill="#a01c14"/>
<rect x="436.77" y="395.99" width="8.23" height="2.59" fill="#d02a1a"/>
<rect x="362.70" y="397.98" width="8.83" height="2.59" fill="#243018"/>
<rect x="370.93" y="397.98" width="8.83" height="2.59" fill="#d82c1a"/>
<rect x="379.16" y="397.98" width="8.83" height="2.59" fill="#2e6a32"/>
<rect x="387.39" y="397.98" width="8.83" height="2.59" fill="#76ba46"/>
<rect x="395.62" y="397.98" width="8.83" height="2.59" fill="#4c9842"/>
<rect x="403.85" y="397.98" width="8.83" height="2.59" fill="#c82618"/>
<rect x="412.08" y="397.98" width="8.83" height="2.59" fill="#243018"/>
<rect x="420.31" y="397.98" width="8.83" height="2.59" fill="#d02a1a"/>
<rect x="428.54" y="397.98" width="8.83" height="2.59" fill="#3e8a3c"/>
<rect x="436.77" y="397.98" width="8.23" height="2.59" fill="#d02a1a"/>
<rect x="362.70" y="399.97" width="8.83" height="2.59" fill="#2e6a32"/>
<rect x="370.93" y="399.97" width="8.83" height="2.59" fill="#d02a1a"/>
<rect x="379.16" y="399.97" width="8.83" height="2.59" fill="#80c04a"/>
<rect x="387.39" y="399.97" width="8.83" height="2.59" fill="#d82c1a"/>
<rect x="395.62" y="399.97" width="8.83" height="2.59" fill="#3a2414"/>
<rect x="403.85" y="399.97" width="8.83" height="2.59" fill="#e03420"/>
<rect x="412.08" y="399.97" width="8.83" height="2.59" fill="#d82c1a"/>
<rect x="420.31" y="399.97" width="8.83" height="2.59" fill="#d02a1a"/>
<rect x="428.54" y="399.97" width="8.83" height="2.59" fill="#e03420"/>
<rect x="436.77" y="399.97" width="8.23" height="2.59" fill="#e03420"/>
<rect x="362.70" y="401.97" width="8.83" height="2.59" fill="#e03420"/>
<rect x="370.93" y="401.97" width="8.83" height="2.59" fill="#6cb444"/>
<rect x="379.16" y="401.97" width="8.83" height="2.59" fill="#3e8a3c"/>
<rect x="387.39" y="401.97" width="8.83" height="2.59" fill="#6e1810"/>
<rect x="395.62" y="401.97" width="8.83" height="2.59" fill="#243018"/>
<rect x="403.85" y="401.97" width="8.83" height="2.59" fill="#d02a1a"/>
<rect x="412.08" y="401.97" width="8.83" height="2.59" fill="#d02a1a"/>
<rect x="420.31" y="401.97" width="8.83" height="2.59" fill="#d82c1a"/>
<rect x="428.54" y="401.97" width="8.83" height="2.59" fill="#8a1a12"/>
<rect x="436.77" y="401.97" width="8.23" height="2.59" fill="#c82618"/>
<rect x="362.70" y="403.96" width="8.83" height="2.59" fill="#243018"/>
<rect x="370.93" y="403.96" width="8.83" height="2.59" fill="#3e8a3c"/>
<rect x="379.16" y="403.96" width="8.83" height="2.59" fill="#70b646"/>
<rect x="387.39" y="403.96" width="8.83" height="2.59" fill="#4c9842"/>
<rect x="395.62" y="403.96" width="8.83" height="2.59" fill="#76ba46"/>
<rect x="403.85" y="403.96" width="8.83" height="2.59" fill="#8a1a12"/>
<rect x="412.08" y="403.96" width="8.83" height="2.59" fill="#70b646"/>
<rect x="420.31" y="403.96" width="8.83" height="2.59" fill="#2a2418"/>
<rect x="428.54" y="403.96" width="8.83" height="2.59" fill="#d02a1a"/>
<rect x="436.77" y="403.96" width="8.23" height="2.59" fill="#d82c1a"/>
<rect x="362.70" y="405.96" width="8.83" height="2.59" fill="#3a2414"/>
<rect x="370.93" y="405.96" width="8.83" height="2.59" fill="#76ba46"/>
<rect x="379.16" y="405.96" width="8.83" height="2.59" fill="#1e1e14"/>
<rect x="387.39" y="405.96" width="8.83" height="2.59" fill="#7a7030"/>
<rect x="395.62" y="405.96" width="8.83" height="2.59" fill="#3e8a3c"/>
<rect x="403.85" y="405.96" width="8.83" height="2.59" fill="#a01c14"/>
<rect x="412.08" y="405.96" width="8.83" height="2.59" fill="#1e1e14"/>
<rect x="420.31" y="405.96" width="8.83" height="2.59" fill="#243018"/>
<rect x="428.54" y="405.96" width="8.83" height="2.59" fill="#4c9842"/>
<rect x="436.77" y="405.96" width="8.23" height="2.59" fill="#c82618"/>
<rect x="362.70" y="407.95" width="8.83" height="2.59" fill="#70b646"/>
<rect x="370.93" y="407.95" width="8.83" height="2.59" fill="#a01c14"/>
<rect x="379.16" y="407.95" width="8.83" height="2.59" fill="#7a7030"/>
<rect x="387.39" y="407.95" width="8.83" height="2.59" fill="#3e8a3c"/>
<rect x="395.62" y="407.95" width="8.83" height="2.59" fill="#80c04a"/>
<rect x="403.85" y="407.95" width="8.83" height="2.59" fill="#3e8a3c"/>
<rect x="412.08" y="407.95" width="8.83" height="2.59" fill="#c82618"/>
<rect x="420.31" y="407.95" width="8.83" height="2.59" fill="#1e1e14"/>
<rect x="428.54" y="407.95" width="8.83" height="2.59" fill="#2a2418"/>
<rect x="436.77" y="407.95" width="8.23" height="2.59" fill="#c82618"/>
<rect x="362.70" y="409.94" width="8.83" height="2.59" fill="#3e8a3c"/>
<rect x="370.93" y="409.94" width="8.83" height="2.59" fill="#6cb444"/>
<rect x="379.16" y="409.94" width="8.83" height="2.59" fill="#a01c14"/>
<rect x="387.39" y="409.94" width="8.83" height="2.59" fill="#2e6a32"/>
<rect x="395.62" y="409.94" width="8.83" height="2.59" fill="#2e6a32"/>
<rect x="403.85" y="409.94" width="8.83" height="2.59" fill="#8a1a12"/>
<rect x="412.08" y="409.94" width="8.83" height="2.59" fill="#e03420"/>
<rect x="420.31" y="409.94" width="8.83" height="2.59" fill="#a01c14"/>
<rect x="428.54" y="409.94" width="8.83" height="2.59" fill="#3a2414"/>
<rect x="436.77" y="409.94" width="8.23" height="2.59" fill="#d02a1a"/>
<rect x="362.70" y="411.94" width="8.83" height="2.59" fill="#d82c1a"/>
<rect x="370.93" y="411.94" width="8.83" height="2.59" fill="#76ba46"/>
<rect x="379.16" y="411.94" width="8.83" height="2.59" fill="#80c04a"/>
<rect x="387.39" y="411.94" width="8.83" height="2.59" fill="#2e6a32"/>
<rect x="395.62" y="411.94" width="8.83" height="2.59" fill="#76ba46"/>
<rect x="403.85" y="411.94" width="8.83" height="2.59" fill="#8a1a12"/>
<rect x="412.08" y="411.94" width="8.83" height="2.59" fill="#8a1a12"/>
<rect x="420.31" y="411.94" width="8.83" height="2.59" fill="#9a5c24"/>
<rect x="428.54" y="411.94" width="8.83" height="2.59" fill="#8a1a12"/>
<rect x="436.77" y="411.94" width="8.23" height="2.59" fill="#e03420"/>
<rect x="362.70" y="413.93" width="8.83" height="2.59" fill="#c82618"/>
<rect x="370.93" y="413.93" width="8.83" height="2.59" fill="#2e6a32"/>
<rect x="379.16" y="413.93" width="8.83" height="2.59" fill="#70b646"/>
<rect x="387.39" y="413.93" width="8.83" height="2.59" fill="#2a2418"/>
<rect x="395.62" y="413.93" width="8.83" height="2.59" fill="#e03420"/>
<rect x="403.85" y="413.93" width="8.83" height="2.59" fill="#2a2418"/>
<rect x="412.08" y="413.93" width="8.83" height="2.59" fill="#a01c14"/>
<rect x="420.31" y="413.93" width="8.83" height="2.59" fill="#2e6a32"/>
<rect x="428.54" y="413.93" width="8.83" height="2.59" fill="#d02a1a"/>
<rect x="436.77" y="413.93" width="8.23" height="2.59" fill="#e03420"/>
<rect x="362.70" y="415.92" width="8.83" height="2.59" fill="#9a5c24"/>
<rect x="370.93" y="415.92" width="8.83" height="2.59" fill="#80c04a"/>
<rect x="379.16" y="415.92" width="8.83" height="2.59" fill="#70b646"/>
<rect x="387.39" y="415.92" width="8.83" height="2.59" fill="#2e6a32"/>
<rect x="395.62" y="415.92" width="8.83" height="2.59" fill="#3e8a3c"/>
<rect x="403.85" y="415.92" width="8.83" height="2.59" fill="#2a2418"/>
<rect x="412.08" y="415.92" width="8.83" height="2.59" fill="#8a1a12"/>
<rect x="420.31" y="415.92" width="8.83" height="2.59" fill="#6cb444"/>
<rect x="428.54" y="415.92" width="8.83" height="2.59" fill="#e03420"/>
<rect x="436.77" y="415.92" width="8.23" height="2.59" fill="#c82618"/>
<rect x="362.70" y="417.92" width="8.83" height="2.59" fill="#4c9842"/>
<rect x="370.93" y="417.92" width="8.83" height="2.59" fill="#80c04a"/>
<rect x="379.16" y="417.92" width="8.83" height="2.59" fill="#2e6a32"/>
<rect x="387.39" y="417.92" width="8.83" height="2.59" fill="#3a2414"/>
<rect x="395.62" y="417.92" width="8.83" height="2.59" fill="#70b646"/>
<rect x="403.85" y="417.92" width="8.83" height="2.59" fill="#c82618"/>
<rect x="412.08" y="417.92" width="8.83" height="2.59" fill="#1e1e14"/>
<rect x="420.31" y="417.92" width="8.83" height="2.59" fill="#70b646"/>
<rect x="428.54" y="417.92" width="8.83" height="2.59" fill="#7a7030"/>
<rect x="436.77" y="417.92" width="8.23" height="2.59" fill="#c82618"/>
<rect x="362.70" y="419.91" width="8.83" height="2.59" fill="#8a1a12"/>
<rect x="370.93" y="419.91" width="8.83" height="2.59" fill="#d82c1a"/>
<rect x="379.16" y="419.91" width="8.83" height="2.59" fill="#76ba46"/>
<rect x="387.39" y="419.91" width="8.83" height="2.59" fill="#d02a1a"/>
<rect x="395.62" y="419.91" width="8.83" height="2.59" fill="#3a2414"/>
<rect x="403.85" y="419.91" width="8.83" height="2.59" fill="#8a1a12"/>
<rect x="412.08" y="419.91" width="8.83" height="2.59" fill="#243018"/>
<rect x="420.31" y="419.91" width="8.83" height="2.59" fill="#2e6a32"/>
<rect x="428.54" y="419.91" width="8.83" height="2.59" fill="#3e8a3c"/>
<rect x="436.77" y="419.91" width="8.23" height="2.59" fill="#4c9842"/>
<rect x="362.70" y="421.91" width="8.83" height="2.59" fill="#e03420"/>
<rect x="370.93" y="421.91" width="8.83" height="2.59" fill="#c82618"/>
<rect x="379.16" y="421.91" width="8.83" height="2.59" fill="#80c04a"/>
<rect x="387.39" y="421.91" width="8.83" height="2.59" fill="#3a2414"/>
<rect x="395.62" y="421.91" width="8.83" height="2.59" fill="#a01c14"/>
<rect x="403.85" y="421.91" width="8.83" height="2.59" fill="#8a1a12"/>
<rect x="412.08" y="421.91" width="8.83" height="2.59" fill="#3a2414"/>
<rect x="420.31" y="421.91" width="8.83" height="2.59" fill="#a01c14"/>
<rect x="428.54" y="421.91" width="8.83" height="2.59" fill="#a01c14"/>
<rect x="436.77" y="421.91" width="8.23" height="2.59" fill="#70b646"/>
<rect x="362.70" y="423.90" width="8.83" height="2.59" fill="#8a1a12"/>
<rect x="370.93" y="423.90" width="8.83" height="2.59" fill="#d82c1a"/>
<rect x="379.16" y="423.90" width="8.83" height="2.59" fill="#8a1a12"/>
<rect x="387.39" y="423.90" width="8.83" height="2.59" fill="#3a2414"/>
<rect x="395.62" y="423.90" width="8.83" height="2.59" fill="#8a6a2c"/>
<rect x="403.85" y="423.90" width="8.83" height="2.59" fill="#8a6a2c"/>
<rect x="412.08" y="423.90" width="8.83" height="2.59" fill="#c82618"/>
<rect x="420.31" y="423.90" width="8.83" height="2.59" fill="#e03420"/>
<rect x="428.54" y="423.90" width="8.83" height="2.59" fill="#2a2418"/>
<rect x="436.77" y="423.90" width="8.23" height="2.59" fill="#3a2414"/>
<rect x="362.70" y="425.89" width="8.83" height="2.59" fill="#d82c1a"/>
<rect x="370.93" y="425.89" width="8.83" height="2.59" fill="#4c9842"/>
<rect x="379.16" y="425.89" width="8.83" height="2.59" fill="#e03420"/>
<rect x="387.39" y="425.89" width="8.83" height="2.59" fill="#2a2418"/>
<rect x="395.62" y="425.89" width="8.83" height="2.59" fill="#e03420"/>
<rect x="403.85" y="425.89" width="8.83" height="2.59" fill="#e03420"/>
<rect x="412.08" y="425.89" width="8.83" height="2.59" fill="#d82c1a"/>
<rect x="420.31" y="425.89" width="8.83" height="2.59" fill="#c82618"/>
<rect x="428.54" y="425.89" width="8.83" height="2.59" fill="#76ba46"/>
<rect x="436.77" y="425.89" width="8.23" height="2.59" fill="#76ba46"/>
<rect x="362.70" y="427.89" width="8.83" height="2.59" fill="#2e6a32"/>
<rect x="370.93" y="427.89" width="8.83" height="2.59" fill="#3e8a3c"/>
<rect x="379.16" y="427.89" width="8.83" height="2.59" fill="#d02a1a"/>
<rect x="387.39" y="427.89" width="8.83" height="2.59" fill="#243018"/>
<rect x="395.62" y="427.89" width="8.83" height="2.59" fill="#e03420"/>
<rect x="403.85" y="427.89" width="8.83" height="2.59" fill="#6e1810"/>
<rect x="412.08" y="427.89" width="8.83" height="2.59" fill="#2e6a32"/>
<rect x="420.31" y="427.89" width="8.83" height="2.59" fill="#7a7030"/>
<rect x="428.54" y="427.89" width="8.83" height="2.59" fill="#76ba46"/>
<rect x="436.77" y="427.89" width="8.23" height="2.59" fill="#6e1810"/>
<rect x="362.70" y="429.88" width="8.83" height="2.59" fill="#2a2418"/>
<rect x="370.93" y="429.88" width="8.83" height="2.59" fill="#d82c1a"/>
<rect x="379.16" y="429.88" width="8.83" height="2.59" fill="#80c04a"/>
<rect x="387.39" y="429.88" width="8.83" height="2.59" fill="#8a1a12"/>
<rect x="395.62" y="429.88" width="8.83" height="2.59" fill="#70b646"/>
<rect x="403.85" y="429.88" width="8.83" height="2.59" fill="#70b646"/>
<rect x="412.08" y="429.88" width="8.83" height="2.59" fill="#8a1a12"/>
<rect x="420.31" y="429.88" width="8.83" height="2.59" fill="#70b646"/>
<rect x="428.54" y="429.88" width="8.83" height="2.59" fill="#76ba46"/>
<rect x="436.77" y="429.88" width="8.23" height="2.59" fill="#80c04a"/>
<rect x="362.70" y="431.88" width="8.83" height="2.59" fill="#70b646"/>
<rect x="370.93" y="431.88" width="8.83" height="2.59" fill="#243018"/>
<rect x="379.16" y="431.88" width="8.83" height="2.59" fill="#76ba46"/>
<rect x="387.39" y="431.88" width="8.83" height="2.59" fill="#c82618"/>
<rect x="395.62" y="431.88" width="8.83" height="2.59" fill="#80c04a"/>
<rect x="403.85" y="431.88" width="8.83" height="2.59" fill="#7a7030"/>
<rect x="412.08" y="431.88" width="8.83" height="2.59" fill="#c82618"/>
<rect x="420.31" y="431.88" width="8.83" height="2.59" fill="#e03420"/>
<rect x="428.54" y="431.88" width="8.83" height="2.59" fill="#76ba46"/>
<rect x="436.77" y="431.88" width="8.23" height="2.59" fill="#2a2418"/>
<rect x="362.70" y="433.87" width="8.83" height="2.59" fill="#d82c1a"/>
<rect x="370.93" y="433.87" width="8.83" height="2.59" fill="#8a1a12"/>
<rect x="379.16" y="433.87" width="8.83" height="2.59" fill="#e03420"/>
<rect x="387.39" y="433.87" width="8.83" height="2.59" fill="#c82618"/>
<rect x="395.62" y="433.87" width="8.83" height="2.59" fill="#3a2414"/>
<rect x="403.85" y="433.87" width="8.83" height="2.59" fill="#80c04a"/>
<rect x="412.08" y="433.87" width="8.83" height="2.59" fill="#e03420"/>
<rect x="420.31" y="433.87" width="8.83" height="2.59" fill="#d02a1a"/>
<rect x="428.54" y="433.87" width="8.83" height="2.59" fill="#76ba46"/>
<rect x="436.77" y="433.87" width="8.23" height="2.59" fill="#2e6a32"/>
<rect x="362.70" y="435.86" width="8.83" height="2.59" fill="#d82c1a"/>
<rect x="370.93" y="435.86" width="8.83" height="2.59" fill="#2a2418"/>
<rect x="379.16" y="435.86" width="8.83" height="2.59" fill="#c82618"/>
<rect x="387.39" y="435.86" width="8.83" height="2.59" fill="#c82618"/>
<rect x="395.62" y="435.86" width="8.83" height="2.59" fill="#3a2414"/>
<rect x="403.85" y="435.86" width="8.83" height="2.59" fill="#2a2418"/>
<rect x="412.08" y="435.86" width="8.83" height="2.59" fill="#70b646"/>
<rect x="420.31" y="435.86" width="8.83" height="2.59" fill="#243018"/>
<rect x="428.54" y="435.86" width="8.83" height="2.59" fill="#6e1810"/>
<rect x="436.77" y="435.86" width="8.23" height="2.59" fill="#70b646"/>
<rect x="362.70" y="437.86" width="8.83" height="2.59" fill="#a01c14"/>
<rect x="370.93" y="437.86" width="8.83" height="2.59" fill="#d02a1a"/>
<rect x="379.16" y="437.86" width="8.83" height="2.59" fill="#6cb444"/>
<rect x="387.39" y="437.86" width="8.83" height="2.59" fill="#80c04a"/>
<rect x="395.62" y="437.86" width="8.83" height="2.59" fill="#3e8a3c"/>
<rect x="403.85" y="437.86" width="8.83" height="2.59" fill="#2a2418"/>
<rect x="412.08" y="437.86" width="8.83" height="2.59" fill="#76ba46"/>
<rect x="420.31" y="437.86" width="8.83" height="2.59" fill="#8a1a12"/>
<rect x="428.54" y="437.86" width="8.83" height="2.59" fill="#1e1e14"/>
<rect x="436.77" y="437.86" width="8.23" height="2.59" fill="#80c04a"/>
<rect x="362.70" y="439.85" width="8.83" height="2.59" fill="#e03420"/>
<rect x="370.93" y="439.85" width="8.83" height="2.59" fill="#6e1810"/>
<rect x="379.16" y="439.85" width="8.83" height="2.59" fill="#6cb444"/>
<rect x="387.39" y="439.85" width="8.83" height="2.59" fill="#8a1a12"/>
<rect x="395.62" y="439.85" width="8.83" height="2.59" fill="#3e8a3c"/>
<rect x="403.85" y="439.85" width="8.83" height="2.59" fill="#3e8a3c"/>
<rect x="412.08" y="439.85" width="8.83" height="2.59" fill="#4c9842"/>
<rect x="420.31" y="439.85" width="8.83" height="2.59" fill="#2e6a32"/>
<rect x="428.54" y="439.85" width="8.83" height="2.59" fill="#3e8a3c"/>
<rect x="436.77" y="439.85" width="8.23" height="2.59" fill="#6cb444"/>
<rect x="362.70" y="441.84" width="8.83" height="2.59" fill="#80c04a"/>
<rect x="370.93" y="441.84" width="8.83" height="2.59" fill="#e03420"/>
<rect x="379.16" y="441.84" width="8.83" height="2.59" fill="#6e1810"/>
<rect x="387.39" y="441.84" width="8.83" height="2.59" fill="#d82c1a"/>
<rect x="395.62" y="441.84" width="8.83" height="2.59" fill="#6e1810"/>
<rect x="403.85" y="441.84" width="8.83" height="2.59" fill="#80c04a"/>
<rect x="412.08" y="441.84" width="8.83" height="2.59" fill="#6cb444"/>
<rect x="420.31" y="441.84" width="8.83" height="2.59" fill="#1e1e14"/>
<rect x="428.54" y="441.84" width="8.83" height="2.59" fill="#70b646"/>
<rect x="436.77" y="441.84" width="8.23" height="2.59" fill="#80c04a"/>
<rect x="362.70" y="443.84" width="8.83" height="2.59" fill="#c82618"/>
<rect x="370.93" y="443.84" width="8.83" height="2.59" fill="#d82c1a"/>
<rect x="379.16" y="443.84" width="8.83" height="2.59" fill="#3a2414"/>
<rect x="387.39" y="443.84" width="8.83" height="2.59" fill="#d02a1a"/>
<rect x="395.62" y="443.84" width="8.83" height="2.59" fill="#3a2414"/>
<rect x="403.85" y="443.84" width="8.83" height="2.59" fill="#76ba46"/>
<rect x="412.08" y="443.84" width="8.83" height="2.59" fill="#6cb444"/>
<rect x="420.31" y="443.84" width="8.83" height="2.59" fill="#6e1810"/>
<rect x="428.54" y="443.84" width="8.83" height="2.59" fill="#4c9842"/>
<rect x="436.77" y="443.84" width="8.23" height="2.59" fill="#2e6a32"/>
<rect x="362.70" y="445.83" width="8.83" height="2.59" fill="#d82c1a"/>
<rect x="370.93" y="445.83" width="8.83" height="2.59" fill="#d82c1a"/>
<rect x="379.16" y="445.83" width="8.83" height="2.59" fill="#4c9842"/>
<rect x="387.39" y="445.83" width="8.83" height="2.59" fill="#c82618"/>
<rect x="395.62" y="445.83" width="8.83" height="2.59" fill="#6e1810"/>
<rect x="403.85" y="445.83" width="8.83" height="2.59" fill="#3e8a3c"/>
<rect x="412.08" y="445.83" width="8.83" height="2.59" fill="#3e8a3c"/>
<rect x="420.31" y="445.83" width="8.83" height="2.59" fill="#8a1a12"/>
<rect x="428.54" y="445.83" width="8.83" height="2.59" fill="#2a2418"/>
<rect x="436.77" y="445.83" width="8.23" height="2.59" fill="#2e6a32"/>
<rect x="362.70" y="447.82" width="8.83" height="2.59" fill="#2a2418"/>
<rect x="370.93" y="447.82" width="8.83" height="2.59" fill="#c82618"/>
<rect x="379.16" y="447.82" width="8.83" height="2.59" fill="#1e1e14"/>
<rect x="387.39" y="447.82" width="8.83" height="2.59" fill="#d82c1a"/>
<rect x="395.62" y="447.82" width="8.83" height="2.59" fill="#c82618"/>
<rect x="403.85" y="447.82" width="8.83" height="2.59" fill="#8a1a12"/>
<rect x="412.08" y="447.82" width="8.83" height="2.59" fill="#243018"/>
<rect x="420.31" y="447.82" width="8.83" height="2.59" fill="#d82c1a"/>
<rect x="428.54" y="447.82" width="8.83" height="2.59" fill="#80c04a"/>
<rect x="436.77" y="447.82" width="8.23" height="2.59" fill="#2e6a32"/>
<rect x="362.70" y="449.82" width="8.83" height="2.59" fill="#c82618"/>
<rect x="370.93" y="449.82" width="8.83" height="2.59" fill="#243018"/>
<rect x="379.16" y="449.82" width="8.83" height="2.59" fill="#d02a1a"/>
<rect x="387.39" y="449.82" width="8.83" height="2.59" fill="#2a2418"/>
<rect x="395.62" y="449.82" width="8.83" height="2.59" fill="#2a2418"/>
<rect x="403.85" y="449.82" width="8.83" height="2.59" fill="#243018"/>
<rect x="412.08" y="449.82" width="8.83" height="2.59" fill="#a01c14"/>
<rect x="420.31" y="449.82" width="8.83" height="2.59" fill="#4c9842"/>
<rect x="428.54" y="449.82" width="8.83" height="2.59" fill="#80c04a"/>
<rect x="436.77" y="449.82" width="8.23" height="2.59" fill="#70b646"/>
<rect x="362.70" y="451.81" width="8.83" height="2.59" fill="#c82618"/>
<rect x="370.93" y="451.81" width="8.83" height="2.59" fill="#d02a1a"/>
<rect x="379.16" y="451.81" width="8.83" height="2.59" fill="#d02a1a"/>
<rect x="387.39" y="451.81" width="8.83" height="2.59" fill="#a01c14"/>
<rect x="395.62" y="451.81" width="8.83" height="2.59" fill="#80c04a"/>
<rect x="403.85" y="451.81" width="8.83" height="2.59" fill="#76ba46"/>
<rect x="412.08" y="451.81" width="8.83" height="2.59" fill="#3e8a3c"/>
<rect x="420.31" y="451.81" width="8.83" height="2.59" fill="#1e1e14"/>
<rect x="428.54" y="451.81" width="8.83" height="2.59" fill="#2e6a32"/>
<rect x="436.77" y="451.81" width="8.23" height="2.59" fill="#6cb444"/>
<rect x="362.70" y="453.81" width="8.83" height="1.99" fill="#c82618"/>
<rect x="370.93" y="453.81" width="8.83" height="1.99" fill="#8a6a2c"/>
<rect x="379.16" y="453.81" width="8.83" height="1.99" fill="#e03420"/>
<rect x="387.39" y="453.81" width="8.83" height="1.99" fill="#6e1810"/>
<rect x="395.62" y="453.81" width="8.83" height="1.99" fill="#6cb444"/>
<rect x="403.85" y="453.81" width="8.83" height="1.99" fill="#6cb444"/>
<rect x="412.08" y="453.81" width="8.83" height="1.99" fill="#3e8a3c"/>
<rect x="420.31" y="453.81" width="8.83" height="1.99" fill="#243018"/>
<rect x="428.54" y="453.81" width="8.83" height="1.99" fill="#4c9842"/>
<rect x="436.77" y="453.81" width="8.23" height="1.99" fill="#243018"/>
<line x1="16.40" y1="520.00" x2="16.40" y2="528.00" stroke="#9090c8" stroke-width="0.9"/>
<line x1="17.00" y1="520.00" x2="17.00" y2="528.00" stroke="#9898c8" stroke-width="0.9"/>
<line x1="17.60" y1="520.00" x2="17.60" y2="528.00" stroke="#9090c8" stroke-width="0.9"/>
<line x1="18.20" y1="520.00" x2="18.20" y2="528.00" stroke="#9898c8" stroke-width="0.9"/>
<line x1="18.80" y1="520.00" x2="18.80" y2="528.00" stroke="#a0a0d0" stroke-width="0.9"/>
<line x1="27.30" y1="520.00" x2="27.30" y2="528.00" stroke="#a8a8c8" stroke-width="0.9"/>
<line x1="76.70" y1="520.00" x2="76.70" y2="528.00" stroke="#a8a8c8" stroke-width="0.9"/>
<line x1="15.50" y1="488.40" x2="15.50" y2="513.20" stroke="#111" stroke-width="1.4"/>
<line x1="15.50" y1="509.20" x2="97.90" y2="509.20" stroke="#111" stroke-width="1.3"/>
<line x1="22.70" y1="484.20" x2="22.70" y2="530.60" stroke="#111" stroke-width="1.4"/>
<line x1="55.50" y1="484.20" x2="55.50" y2="530.60" stroke="#111" stroke-width="1.4"/>
<line x1="14.90" y1="530.30" x2="97.90" y2="530.30" stroke="#111" stroke-width="1.4"/>
<path d="M15.60,509.00 L16.00,503.00 L16.80,497.20 L17.60,494.20 L18.50,492.50 L20.50,491.80 L22.40,491.40 L26.00,491.60 L31.00,492.00 L97.90,509.10" fill="none" stroke="#111" stroke-width="1.1"/>
<text x="13.20" y="497.00" font-size="7.0" text-anchor="middle" textLength="7.60" lengthAdjust="spacingAndGlyphs" transform="rotate(-90 13.20 497.00)">ES</text>
<text x="57.00" y="472.00" font-size="6.2" textLength="43.40" lengthAdjust="spacingAndGlyphs">FDR (q)=0.049</text>
<text x="77.70" y="480.20" font-size="6.2" textLength="22.70" lengthAdjust="spacingAndGlyphs">p=0.013</text>
<text x="16.20" y="538.50" font-size="6.4" textLength="16.60" lengthAdjust="spacingAndGlyphs">+IL1B</text>
<text x="96.40" y="538.50" font-size="6.4" text-anchor="end" textLength="15.00" lengthAdjust="spacingAndGlyphs">-IL1B</text>
<line x1="136.00" y1="520.00" x2="136.00" y2="528.00" stroke="#9090c8" stroke-width="0.9"/>
<line x1="136.60" y1="520.00" x2="136.60" y2="528.00" stroke="#9090c8" stroke-width="0.9"/>
<line x1="151.30" y1="520.00" x2="151.30" y2="528.00" stroke="#a8a8c8" stroke-width="0.9"/>
<line x1="157.00" y1="520.00" x2="157.00" y2="528.00" stroke="#a8a8c8" stroke-width="0.9"/>
<line x1="163.40" y1="520.00" x2="163.40" y2="528.00" stroke="#a8a8c8" stroke-width="0.9"/>
<line x1="173.50" y1="520.00" x2="173.50" y2="528.00" stroke="#a8a8c8" stroke-width="0.9"/>
<line x1="203.80" y1="520.00" x2="203.80" y2="528.00" stroke="#a8a8c8" stroke-width="0.9"/>
<line x1="135.50" y1="488.80" x2="135.50" y2="513.50" stroke="#111" stroke-width="1.4"/>
<line x1="135.50" y1="509.40" x2="217.90" y2="509.40" stroke="#111" stroke-width="1.3"/>
<line x1="145.30" y1="484.20" x2="145.30" y2="530.60" stroke="#111" stroke-width="1.4"/>
<line x1="178.00" y1="484.20" x2="178.00" y2="530.60" stroke="#111" stroke-width="1.4"/>
<line x1="134.90" y1="530.30" x2="217.90" y2="530.30" stroke="#111" stroke-width="1.4"/>
<path d="M135.60,509.40 L135.90,506.00 L136.40,503.50 L137.00,499.00 L137.80,495.20 L139.10,495.50 L141.10,496.20 L142.40,494.50 L145.40,494.30 L148.40,495.20 L150.30,494.50 L153.00,494.80 L156.00,495.20 L159.00,495.00 L162.00,495.90 L166.00,496.60 L170.00,497.80 L174.00,498.90 L178.00,500.20 L182.00,501.00 L186.00,502.00 L190.00,502.90 L194.00,503.60 L198.00,504.40 L202.00,505.30 L206.00,506.40 L210.00,507.40 L214.00,508.50 L217.90,509.50" fill="none" stroke="#111" stroke-width="1.1"/>
<text x="133.20" y="497.00" font-size="7.0" text-anchor="middle" textLength="7.60" lengthAdjust="spacingAndGlyphs" transform="rotate(-90 133.20 497.00)">ES</text>
<text x="177.60" y="472.00" font-size="6.2" textLength="42.80" lengthAdjust="spacingAndGlyphs">FDR (q)=0.024</text>
<text x="197.70" y="480.20" font-size="6.2" textLength="22.70" lengthAdjust="spacingAndGlyphs">p=0.014</text>
<text x="136.20" y="538.50" font-size="6.4" textLength="16.60" lengthAdjust="spacingAndGlyphs">+IL1B</text>
<text x="216.40" y="538.50" font-size="6.4" text-anchor="end" textLength="15.00" lengthAdjust="spacingAndGlyphs">-IL1B</text>
<line x1="261.50" y1="520.00" x2="261.50" y2="528.00" stroke="#6a6aac" stroke-width="0.9"/>
<line x1="263.17" y1="520.00" x2="263.17" y2="528.00" stroke="#6a6aac" stroke-width="0.9"/>
<line x1="264.61" y1="520.00" x2="264.61" y2="528.00" stroke="#acacd6" stroke-width="0.9"/>
<line x1="266.16" y1="520.00" x2="266.16" y2="528.00" stroke="#acacd6" stroke-width="0.9"/>
<line x1="267.28" y1="520.00" x2="267.28" y2="528.00" stroke="#5a5aa4" stroke-width="0.9"/>
<line x1="269.28" y1="520.00" x2="269.28" y2="528.00" stroke="#9494c8" stroke-width="0.9"/>
<line x1="270.60" y1="520.00" x2="270.60" y2="528.00" stroke="#6a6aac" stroke-width="0.9"/>
<line x1="271.86" y1="520.00" x2="271.86" y2="528.00" stroke="#9494c8" stroke-width="0.9"/>
<line x1="273.47" y1="520.00" x2="273.47" y2="528.00" stroke="#acacd6" stroke-width="0.9"/>
<line x1="275.02" y1="520.00" x2="275.02" y2="528.00" stroke="#6a6aac" stroke-width="0.9"/>
<line x1="278.80" y1="520.00" x2="278.80" y2="528.00" stroke="#6a6aac" stroke-width="0.9"/>
<line x1="280.76" y1="520.00" x2="280.76" y2="528.00" stroke="#acacd6" stroke-width="0.9"/>
<line x1="282.22" y1="520.00" x2="282.22" y2="528.00" stroke="#5a5aa4" stroke-width="0.9"/>
<line x1="283.98" y1="520.00" x2="283.98" y2="528.00" stroke="#5a5aa4" stroke-width="0.9"/>
<line x1="285.19" y1="520.00" x2="285.19" y2="528.00" stroke="#acacd6" stroke-width="0.9"/>
<line x1="290.00" y1="520.00" x2="290.00" y2="528.00" stroke="#5a5aa4" stroke-width="0.9"/>
<line x1="292.17" y1="520.00" x2="292.17" y2="528.00" stroke="#7c7cb8" stroke-width="0.9"/>
<line x1="293.92" y1="520.00" x2="293.92" y2="528.00" stroke="#9494c8" stroke-width="0.9"/>
<line x1="295.96" y1="520.00" x2="295.96" y2="528.00" stroke="#9494c8" stroke-width="0.9"/>
<line x1="297.62" y1="520.00" x2="297.62" y2="528.00" stroke="#acacd6" stroke-width="0.9"/>
<line x1="303.80" y1="520.00" x2="303.80" y2="528.00" stroke="#6a6aac" stroke-width="0.9"/>
<line x1="306.69" y1="520.00" x2="306.69" y2="528.00" stroke="#5a5aa4" stroke-width="0.9"/>
<line x1="310.80" y1="520.00" x2="310.80" y2="528.00" stroke="#9494c8" stroke-width="0.9"/>
<line x1="312.08" y1="520.00" x2="312.08" y2="528.00" stroke="#9494c8" stroke-width="0.9"/>
<line x1="313.95" y1="520.00" x2="313.95" y2="528.00" stroke="#7c7cb8" stroke-width="0.9"/>
<line x1="315.44" y1="520.00" x2="315.44" y2="528.00" stroke="#9494c8" stroke-width="0.9"/>
<line x1="317.09" y1="520.00" x2="317.09" y2="528.00" stroke="#acacd6" stroke-width="0.9"/>
<line x1="318.76" y1="520.00" x2="318.76" y2="528.00" stroke="#acacd6" stroke-width="0.9"/>
<line x1="320.05" y1="520.00" x2="320.05" y2="528.00" stroke="#7c7cb8" stroke-width="0.9"/>
<line x1="321.82" y1="520.00" x2="321.82" y2="528.00" stroke="#5a5aa4" stroke-width="0.9"/>
<line x1="329.00" y1="520.00" x2="329.00" y2="528.00" stroke="#acacd6" stroke-width="0.9"/>
<line x1="330.75" y1="520.00" x2="330.75" y2="528.00" stroke="#6a6aac" stroke-width="0.9"/>
<line x1="335.00" y1="520.00" x2="335.00" y2="528.00" stroke="#7c7cb8" stroke-width="0.9"/>
<line x1="337.48" y1="520.00" x2="337.48" y2="528.00" stroke="#acacd6" stroke-width="0.9"/>
<line x1="339.45" y1="520.00" x2="339.45" y2="528.00" stroke="#6a6aac" stroke-width="0.9"/>
<line x1="341.51" y1="520.00" x2="341.51" y2="528.00" stroke="#acacd6" stroke-width="0.9"/>
<line x1="261.10" y1="488.60" x2="261.10" y2="513.50" stroke="#111" stroke-width="1.4"/>
<line x1="261.10" y1="501.40" x2="341.80" y2="501.40" stroke="#111" stroke-width="1.3"/>
<line x1="300.70" y1="484.20" x2="300.70" y2="530.60" stroke="#111" stroke-width="1.4"/>
<line x1="331.90" y1="484.20" x2="331.90" y2="530.60" stroke="#111" stroke-width="1.4"/>
<line x1="260.50" y1="530.30" x2="341.80" y2="530.30" stroke="#111" stroke-width="1.4"/>
<path d="M261.10,501.40 L263.80,500.80 L265.80,498.20 L267.80,496.80 L269.10,497.20 L270.40,495.50 L273.00,494.20 L275.00,493.90 L277.00,494.50 L278.40,495.10 L280.40,495.80 L282.40,493.70 L285.80,494.70 L291.20,497.10 L296.50,499.80 L300.60,501.40 L306.00,503.80 L311.30,505.90 L313.50,506.20 L315.40,506.50 L318.10,506.30 L320.80,505.90 L323.50,506.50 L326.10,507.20 L328.80,508.10 L331.30,508.10 L332.20,505.20 L334.20,504.20 L337.60,504.10 L339.60,502.90 L341.00,501.40 L341.60,500.90" fill="none" stroke="#111" stroke-width="1.1"/>
<text x="258.80" y="497.00" font-size="7.0" text-anchor="middle" textLength="7.60" lengthAdjust="spacingAndGlyphs" transform="rotate(-90 258.80 497.00)">ES</text>
<text x="302.10" y="472.00" font-size="6.2" textLength="42.20" lengthAdjust="spacingAndGlyphs">FDR (q)=0.897</text>
<text x="322.30" y="480.20" font-size="6.2" textLength="22.00" lengthAdjust="spacingAndGlyphs">p=0.765</text>
<text x="261.80" y="538.50" font-size="6.4" textLength="16.60" lengthAdjust="spacingAndGlyphs">+IL1B</text>
<text x="340.30" y="538.50" font-size="6.4" text-anchor="end" textLength="15.00" lengthAdjust="spacingAndGlyphs">-IL1B</text>
<line x1="363.40" y1="520.00" x2="363.40" y2="528.00" stroke="#3e48a0" stroke-width="0.9"/>
<line x1="364.20" y1="520.00" x2="364.20" y2="528.00" stroke="#3e48a0" stroke-width="0.9"/>
<line x1="365.00" y1="520.00" x2="365.00" y2="528.00" stroke="#3e48a0" stroke-width="0.9"/>
<line x1="365.80" y1="520.00" x2="365.80" y2="528.00" stroke="#3e48a0" stroke-width="0.9"/>
<line x1="366.60" y1="520.00" x2="366.60" y2="528.00" stroke="#3e48a0" stroke-width="0.9"/>
<line x1="367.40" y1="520.00" x2="367.40" y2="528.00" stroke="#3e48a0" stroke-width="0.9"/>
<line x1="368.20" y1="520.00" x2="368.20" y2="528.00" stroke="#3e48a0" stroke-width="0.9"/>
<line x1="369.50" y1="520.00" x2="369.50" y2="528.00" stroke="#6a6aac" stroke-width="0.9"/>
<line x1="370.69" y1="520.00" x2="370.69" y2="528.00" stroke="#acacd6" stroke-width="0.9"/>
<line x1="371.91" y1="520.00" x2="371.91" y2="528.00" stroke="#6a6aac" stroke-width="0.9"/>
<line x1="373.49" y1="520.00" x2="373.49" y2="528.00" stroke="#7c7cb8" stroke-width="0.9"/>
<line x1="374.63" y1="520.00" x2="374.63" y2="528.00" stroke="#acacd6" stroke-width="0.9"/>
<line x1="376.61" y1="520.00" x2="376.61" y2="528.00" stroke="#6a6aac" stroke-width="0.9"/>
<line x1="383.40" y1="520.00" x2="383.40" y2="528.00" stroke="#b8b8dc" stroke-width="0.9"/>
<line x1="385.62" y1="520.00" x2="385.62" y2="528.00" stroke="#acacd6" stroke-width="0.9"/>
<line x1="387.78" y1="520.00" x2="387.78" y2="528.00" stroke="#9494c8" stroke-width="0.9"/>
<line x1="389.74" y1="520.00" x2="389.74" y2="528.00" stroke="#9494c8" stroke-width="0.9"/>
<line x1="391.64" y1="520.00" x2="391.64" y2="528.00" stroke="#6a6aac" stroke-width="0.9"/>
<line x1="393.29" y1="520.00" x2="393.29" y2="528.00" stroke="#6a6aac" stroke-width="0.9"/>
<line x1="399.00" y1="520.00" x2="399.00" y2="528.00" stroke="#b8b8dc" stroke-width="0.9"/>
<line x1="410.20" y1="520.00" x2="410.20" y2="528.00" stroke="#7c7cb8" stroke-width="0.9"/>
<line x1="412.55" y1="520.00" x2="412.55" y2="528.00" stroke="#9494c8" stroke-width="0.9"/>
<line x1="414.46" y1="520.00" x2="414.46" y2="528.00" stroke="#7c7cb8" stroke-width="0.9"/>
<line x1="416.47" y1="520.00" x2="416.47" y2="528.00" stroke="#9494c8" stroke-width="0.9"/>
<line x1="418.04" y1="520.00" x2="418.04" y2="528.00" stroke="#7c7cb8" stroke-width="0.9"/>
<line x1="423.00" y1="520.00" x2="423.00" y2="528.00" stroke="#acacd6" stroke-width="0.9"/>
<line x1="424.93" y1="520.00" x2="424.93" y2="528.00" stroke="#b8b8dc" stroke-width="0.9"/>
<line x1="426.87" y1="520.00" x2="426.87" y2="528.00" stroke="#b8b8dc" stroke-width="0.9"/>
<line x1="429.22" y1="520.00" x2="429.22" y2="528.00" stroke="#6a6aac" stroke-width="0.9"/>
<line x1="431.49" y1="520.00" x2="431.49" y2="528.00" stroke="#b8b8dc" stroke-width="0.9"/>
<line x1="433.27" y1="520.00" x2="433.27" y2="528.00" stroke="#7c7cb8" stroke-width="0.9"/>
<line x1="443.00" y1="520.00" x2="443.00" y2="528.00" stroke="#acacd6" stroke-width="0.9"/>
<line x1="363.20" y1="488.80" x2="363.20" y2="513.40" stroke="#111" stroke-width="1.4"/>
<line x1="363.20" y1="508.30" x2="444.70" y2="508.30" stroke="#111" stroke-width="1.3"/>
<line x1="371.60" y1="484.20" x2="371.60" y2="530.60" stroke="#111" stroke-width="1.4"/>
<line x1="405.00" y1="484.20" x2="405.00" y2="530.60" stroke="#111" stroke-width="1.4"/>
<line x1="362.60" y1="530.30" x2="444.70" y2="530.30" stroke="#111" stroke-width="1.4"/>
<path d="M363.30,508.30 L363.90,503.40 L365.30,497.10 L367.40,494.40 L370.90,492.30 L376.40,491.80 L384.80,493.70 L395.00,496.30 L405.00,499.50 L415.40,503.40 L422.00,505.30 L429.50,506.80 L435.00,507.80 L439.60,508.30" fill="none" stroke="#111" stroke-width="1.1"/>
<text x="360.90" y="497.00" font-size="7.0" text-anchor="middle" textLength="7.60" lengthAdjust="spacingAndGlyphs" transform="rotate(-90 360.90 497.00)">ES</text>
<text x="404.30" y="472.00" font-size="6.2" textLength="43.40" lengthAdjust="spacingAndGlyphs">FDR (q)=0.009</text>
<text x="424.10" y="480.20" font-size="6.2" textLength="23.60" lengthAdjust="spacingAndGlyphs">p=0.004</text>
<text x="363.90" y="538.50" font-size="6.4" textLength="16.60" lengthAdjust="spacingAndGlyphs">+IL1B</text>
<text x="443.20" y="538.50" font-size="6.4" text-anchor="end" textLength="15.00" lengthAdjust="spacingAndGlyphs">-IL1B</text>
<rect x="0" y="0" width="520" height="1.5" fill="#000"/>
<rect x="0" y="0" width="1.4" height="546" fill="#000"/>
<rect x="518.4" y="0" width="1.6" height="546" fill="#000"/>
<rect x="0" y="544.3" width="520" height="1.7" fill="#000"/>
</svg>
</body></html>
